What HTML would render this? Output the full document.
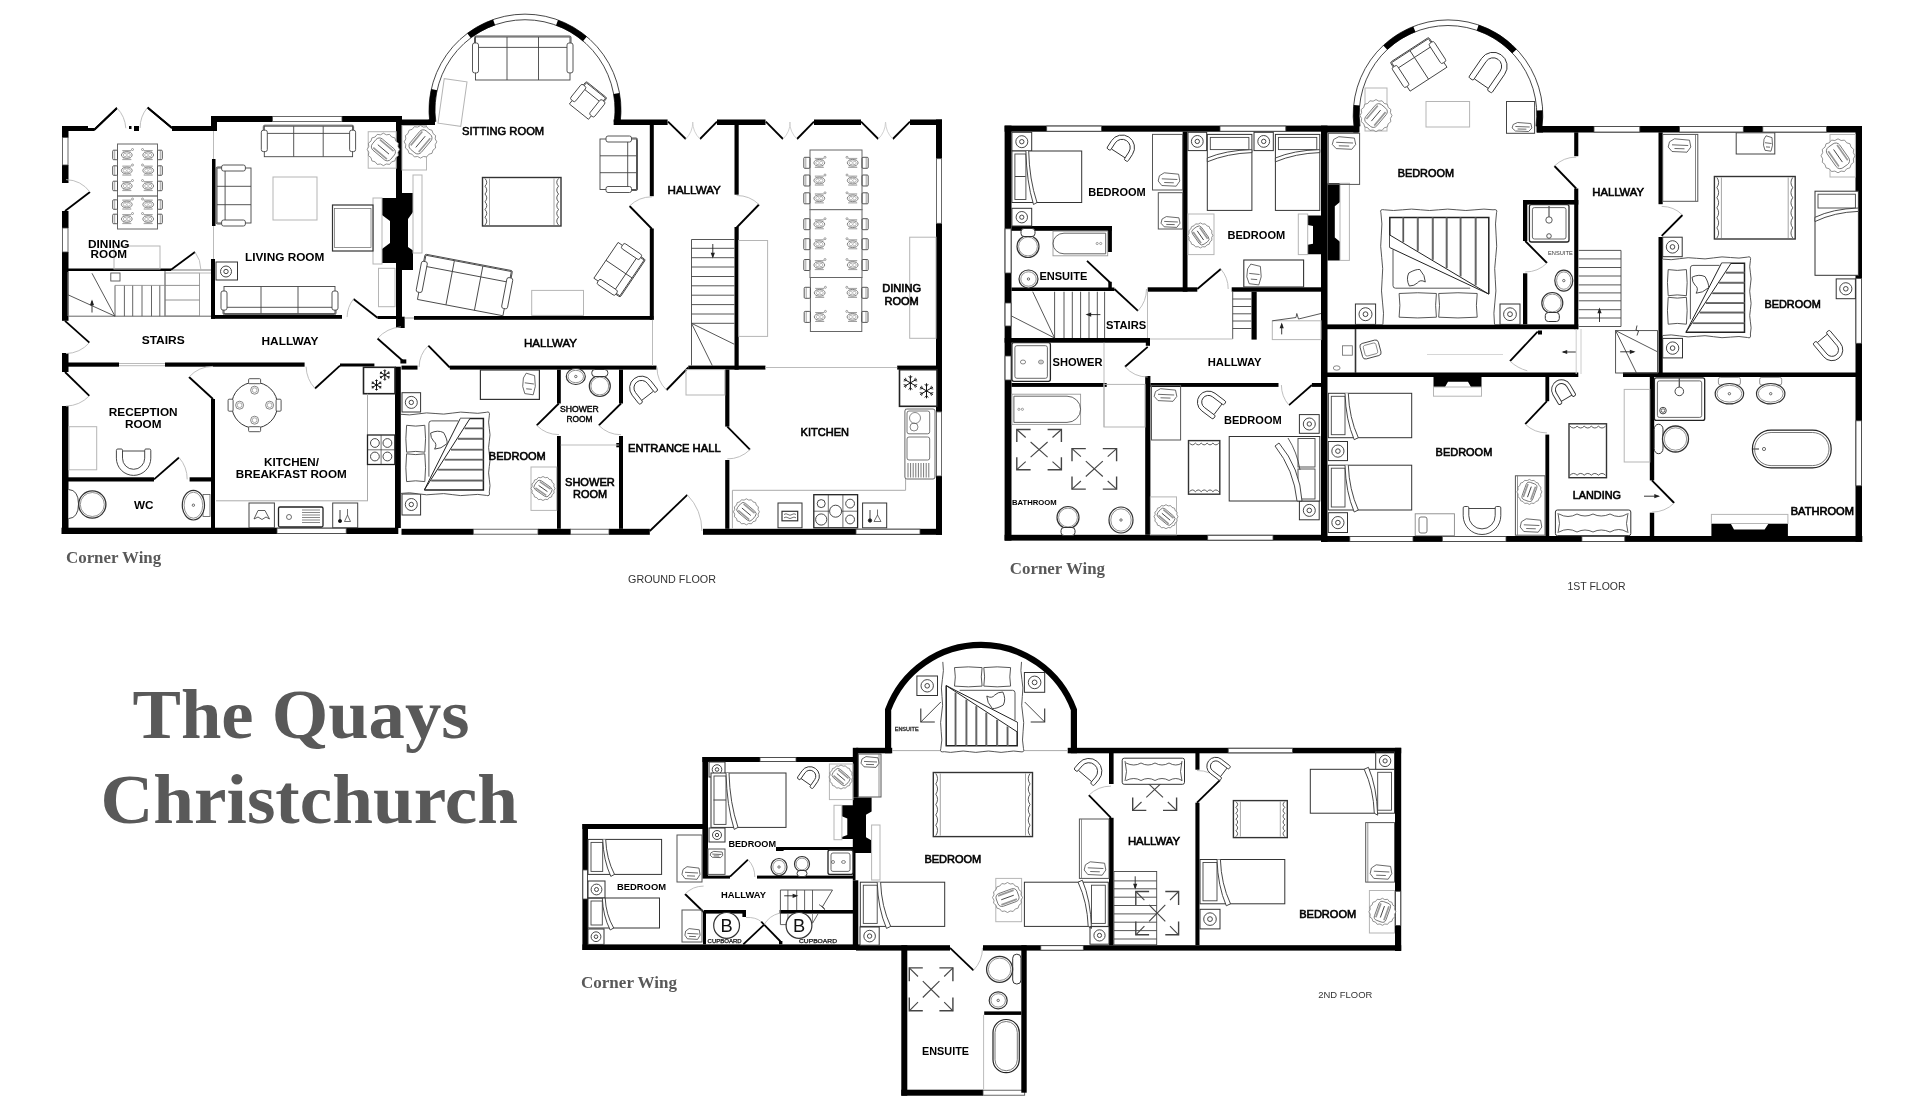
<!DOCTYPE html>
<html><head><meta charset="utf-8"><title>The Quays Christchurch</title>
<style>html,body{margin:0;padding:0;background:#fff}body{width:1920px;height:1101px;overflow:hidden}svg{display:block;will-change:transform}</style></head>
<body>
<svg width="1920" height="1101" viewBox="0 0 1920 1101" shape-rendering="geometricPrecision">
<g id="gf" fill="#000">
<rect x="62" y="126" width="6.5" height="11.5"/>
<rect x="62" y="165" width="6.5" height="18"/>
<rect x="62" y="211" width="6.5" height="17"/>
<rect x="62" y="252" width="6.5" height="68.8"/>
<rect x="62" y="353" width="6.5" height="19"/>
<rect x="62" y="406" width="6.5" height="128"/>
<rect x="62.5" y="137.5" width="5.5" height="27.5" fill="#fff" stroke="#444" stroke-width="0.8"/>
<rect x="62.5" y="228" width="5.5" height="24" fill="#fff" stroke="#444" stroke-width="0.8"/>
<rect x="62" y="126" width="26" height="5"/>
<rect x="88" y="128" width="6" height="3"/>
<rect x="172" y="126" width="45" height="5"/>
<line x1="94" y1="130" x2="117" y2="108" stroke="#000" stroke-width="1.8"/>
<line x1="147.5" y1="107.5" x2="172" y2="128" stroke="#000" stroke-width="1.8"/>
<rect x="129" y="126" width="2.5" height="3"/>
<rect x="134" y="126" width="5" height="5"/>
<line x1="94" y1="130" x2="117" y2="108" stroke="#000" stroke-width="1.8"/>
<path d="M117 108 A31.8 31.8 0 0 1 125.8 128.2" fill="none" stroke="#b8b8b8" stroke-width="0.9"/>
<line x1="172" y1="128" x2="147.5" y2="107.5" stroke="#000" stroke-width="1.8"/>
<path d="M147.5 107.5 A31.9 31.9 0 0 0 140.1 128" fill="none" stroke="#b8b8b8" stroke-width="0.9"/>
<rect x="211" y="116" width="6" height="15"/>
<rect x="211" y="116" width="61.5" height="6"/>
<rect x="342" y="116" width="60" height="6"/>
<rect x="272.5" y="116.5" width="69.5" height="5" fill="#fff" stroke="#444" stroke-width="0.8"/>
<rect x="212" y="159" width="3.5" height="67"/>
<rect x="211" y="259" width="4" height="59.8"/>
<line x1="213.5" y1="131" x2="213.5" y2="159" stroke="#bbb" stroke-width="1"/>
<line x1="213.5" y1="226" x2="213.5" y2="259" stroke="#bbb" stroke-width="1"/>
<rect x="396" y="116" width="6" height="212"/>
<rect x="398.8" y="316.7" width="5.9" height="11.3"/>
<rect x="402" y="119.5" width="33" height="5.5"/>
<polygon points="382,198 397,198 397,193 413,193 413,212 408,219 408,247 413,250.5 413,270 402,270 402,263 382,263 382,249 390,243 390,221 382,215" fill="#000" stroke="none" stroke-width="1"/>
<rect x="373" y="198" width="9" height="66" fill="none" stroke="#b5b5b5" stroke-width="1"/>
<rect x="413" y="175" width="9" height="78" fill="none" stroke="#b5b5b5" stroke-width="1"/>
<rect x="68" y="268.5" width="103" height="2.5"/>
<line x1="171" y1="270" x2="211" y2="270" stroke="#777" stroke-width="1"/>
<rect x="211" y="315" width="131" height="3.8"/>
<rect x="377.5" y="316" width="20.5" height="3"/>
<rect x="68" y="362.5" width="51" height="4.2"/>
<rect x="165" y="362.5" width="139.6" height="4.2"/>
<rect x="340" y="363.5" width="34.4" height="3"/>
<line x1="119" y1="363.5" x2="165" y2="363.5" stroke="#bbb" stroke-width="1"/>
<line x1="119" y1="365.7" x2="165" y2="365.7" stroke="#bbb" stroke-width="1"/>
<rect x="400.4" y="359.4" width="5.9" height="4.1"/>
<rect x="395" y="366.7" width="5.8" height="161.3"/>
<rect x="211" y="399" width="4" height="129"/>
<rect x="68" y="477.3" width="86" height="4.2"/>
<rect x="189.6" y="477.3" width="21.4" height="4.2"/>
<rect x="61.5" y="527.7" width="336.8" height="6.3"/>
<rect x="277" y="528.2" width="69.2" height="5.3" fill="#fff" stroke="#444" stroke-width="0.8"/>
<line x1="65" y1="211" x2="90" y2="192" stroke="#000" stroke-width="1.8"/>
<path d="M90 192 A31.4 31.4 0 0 0 66.1 179.6" fill="none" stroke="#b8b8b8" stroke-width="0.9"/>
<line x1="171" y1="269.8" x2="195" y2="252" stroke="#000" stroke-width="1.8"/>
<path d="M195 252 A29.9 29.9 0 0 1 200.9 269.8" fill="none" stroke="#b8b8b8" stroke-width="0.9"/>
<line x1="65" y1="320.8" x2="89.4" y2="342.7" stroke="#000" stroke-width="1.8"/>
<path d="M89.4 342.7 A32.8 32.8 0 0 1 66 353.6" fill="none" stroke="#b8b8b8" stroke-width="0.9"/>
<line x1="65" y1="372" x2="89.4" y2="395.8" stroke="#000" stroke-width="1.8"/>
<path d="M89.4 395.8 A34.1 34.1 0 0 1 66 406.1" fill="none" stroke="#b8b8b8" stroke-width="0.9"/>
<line x1="377.5" y1="317.7" x2="353.5" y2="299" stroke="#000" stroke-width="1.8"/>
<path d="M353.5 299 A30.4 30.4 0 0 0 347.1 317.1" fill="none" stroke="#b8b8b8" stroke-width="0.9"/>
<line x1="340" y1="365.6" x2="315" y2="388.5" stroke="#000" stroke-width="1.8"/>
<path d="M315 388.5 A33.9 33.9 0 0 1 306.1 366.7" fill="none" stroke="#b8b8b8" stroke-width="0.9"/>
<line x1="403.5" y1="361.5" x2="377.5" y2="338.5" stroke="#000" stroke-width="1.8"/>
<path d="M377.5 338.5 A34.7 34.7 0 0 1 400.9 326.9" fill="none" stroke="#b8b8b8" stroke-width="0.9"/>
<line x1="213" y1="399" x2="189" y2="377" stroke="#000" stroke-width="1.8"/>
<path d="M189 377 A32.6 32.6 0 0 1 213 366.4" fill="none" stroke="#b8b8b8" stroke-width="0.9"/>
<line x1="154" y1="479.4" x2="179" y2="457.5" stroke="#000" stroke-width="1.8"/>
<path d="M179 457.5 A33.2 33.2 0 0 1 187.2 479.4" fill="none" stroke="#b8b8b8" stroke-width="0.9"/>
<rect x="414" y="316" width="239.5" height="3.8"/>
<line x1="404.6" y1="318" x2="414" y2="318" stroke="#999" stroke-width="1"/>
<rect x="649.8" y="125" width="4" height="71.2"/>
<rect x="649.8" y="228.5" width="4" height="91.3"/>
<rect x="613.8" y="119.5" width="53.8" height="5.5"/>
<rect x="717" y="119.5" width="48.5" height="5.5"/>
<rect x="814" y="119.5" width="47" height="5.5"/>
<rect x="910" y="119.5" width="32" height="5.5"/>
<rect x="936" y="119.5" width="6" height="39.2"/>
<rect x="936" y="223.3" width="6" height="188.6"/>
<rect x="936" y="476" width="6" height="58.8"/>
<rect x="936.5" y="158.7" width="5" height="64.6" fill="#fff" stroke="#444" stroke-width="0.8"/>
<rect x="936.5" y="411.9" width="5" height="64.1" fill="#fff" stroke="#444" stroke-width="0.8"/>
<rect x="734.5" y="125" width="4.2" height="69.7"/>
<rect x="734.5" y="227" width="4.2" height="142.7"/>
<rect x="401.5" y="365.6" width="16" height="4"/>
<rect x="449.8" y="365.6" width="206.7" height="4"/>
<rect x="688.3" y="365.6" width="77.1" height="4"/>
<rect x="897.2" y="365.6" width="38.8" height="4"/>
<line x1="765.4" y1="367.5" x2="897.2" y2="367.5" stroke="#bbb" stroke-width="1"/>
<line x1="652.5" y1="319.8" x2="652.5" y2="365.6" stroke="#bbb" stroke-width="1"/>
<rect x="557" y="369.6" width="3.8" height="33.9"/>
<rect x="557" y="436" width="3.8" height="92.8"/>
<rect x="619" y="369.6" width="4" height="33.9"/>
<rect x="619" y="436" width="4" height="92.8"/>
<rect x="616.3" y="443" width="3.2" height="4.3"/>
<line x1="560.8" y1="445" x2="619" y2="445" stroke="#bbb" stroke-width="1"/>
<rect x="725.2" y="369.6" width="4.2" height="57"/>
<rect x="725.2" y="460" width="4.2" height="68.8"/>
<rect x="401.5" y="528.8" width="71.8" height="6"/>
<rect x="538" y="528.8" width="32.6" height="6"/>
<rect x="609" y="528.8" width="40.8" height="6"/>
<rect x="703" y="528.8" width="239" height="6"/>
<rect x="473.3" y="529.2" width="64.7" height="5" fill="#fff" stroke="#444" stroke-width="0.8"/>
<rect x="570.6" y="529.2" width="38.4" height="5" fill="#fff" stroke="#444" stroke-width="0.8"/>
<rect x="856" y="529.2" width="64" height="5" fill="#fff" stroke="#444" stroke-width="0.8"/>
<line x1="668" y1="121.7" x2="685.8" y2="139" stroke="#000" stroke-width="1.8"/>
<path d="M685.8 139 A24.8 24.8 0 0 0 692.8 122" fill="none" stroke="#ccc" stroke-width="0.9"/>
<line x1="717" y1="121.7" x2="700" y2="139" stroke="#000" stroke-width="1.8"/>
<path d="M700 139 A24.3 24.3 0 0 1 692.7 122" fill="none" stroke="#ccc" stroke-width="0.9"/>
<line x1="765.8" y1="121.7" x2="783" y2="139" stroke="#000" stroke-width="1.8"/>
<path d="M783 139 A24.4 24.4 0 0 0 790.2 122" fill="none" stroke="#ccc" stroke-width="0.9"/>
<line x1="814" y1="121.7" x2="797" y2="139" stroke="#000" stroke-width="1.8"/>
<path d="M797 139 A24.3 24.3 0 0 1 789.7 122" fill="none" stroke="#ccc" stroke-width="0.9"/>
<line x1="861" y1="121.7" x2="878.3" y2="139" stroke="#000" stroke-width="1.8"/>
<path d="M878.3 139 A24.5 24.5 0 0 0 885.5 122" fill="none" stroke="#ccc" stroke-width="0.9"/>
<line x1="910" y1="121.7" x2="892.8" y2="139" stroke="#000" stroke-width="1.8"/>
<path d="M892.8 139 A24.4 24.4 0 0 1 885.6 122" fill="none" stroke="#ccc" stroke-width="0.9"/>
<line x1="652" y1="229" x2="629.5" y2="206" stroke="#000" stroke-width="1.8"/>
<path d="M629.5 206 A32.2 32.2 0 0 1 652 196.8" fill="none" stroke="#b8b8b8" stroke-width="0.9"/>
<line x1="736.7" y1="227.5" x2="759" y2="204.5" stroke="#000" stroke-width="1.8"/>
<path d="M759 204.5 A32 32 0 0 0 736.7 195.5" fill="none" stroke="#b8b8b8" stroke-width="0.9"/>
<line x1="449.8" y1="367.5" x2="428.3" y2="345.6" stroke="#000" stroke-width="1.8"/>
<path d="M428.3 345.6 A30.7 30.7 0 0 0 419.1 367" fill="none" stroke="#b8b8b8" stroke-width="0.9"/>
<line x1="688.3" y1="367.5" x2="666.5" y2="390" stroke="#000" stroke-width="1.8"/>
<path d="M666.5 390 A31.3 31.3 0 0 1 657 367.5" fill="none" stroke="#b8b8b8" stroke-width="0.9"/>
<line x1="558.8" y1="403.5" x2="536.7" y2="425.4" stroke="#000" stroke-width="1.8"/>
<path d="M536.7 425.4 A31.1 31.1 0 0 0 559 434.6" fill="none" stroke="#b8b8b8" stroke-width="0.9"/>
<line x1="621" y1="403.5" x2="598.8" y2="425.4" stroke="#000" stroke-width="1.8"/>
<path d="M598.8 425.4 A31.2 31.2 0 0 0 621 434.7" fill="none" stroke="#b8b8b8" stroke-width="0.9"/>
<line x1="727.3" y1="426.6" x2="750" y2="449.6" stroke="#000" stroke-width="1.8"/>
<path d="M750 449.6 A32.3 32.3 0 0 1 727.3 458.9" fill="none" stroke="#b8b8b8" stroke-width="0.9"/>
<line x1="649.8" y1="531" x2="687.3" y2="494.8" stroke="#000" stroke-width="1.8"/>
<path d="M687.3 494.8 A52.1 52.1 0 0 1 701.9 531" fill="none" stroke="#b8b8b8" stroke-width="0.9"/>
<path d="M620.2 122.5 A96 96 0 1 0 429.8 122.5" fill="none" stroke="#333" stroke-width="0.9"/>
<path d="M614.2 121.7 A90 90 0 1 0 435.8 121.7" fill="none" stroke="#333" stroke-width="0.9"/>
<path d="M617.2 122.1 A93 93 0 0 0 616.5 93.5" fill="none" stroke="#000" stroke-width="6"/>
<path d="M584.9 38.9 A93 93 0 0 0 557 22.7" fill="none" stroke="#000" stroke-width="6"/>
<path d="M494.1 22.3 A93 93 0 0 0 469 35.7" fill="none" stroke="#000" stroke-width="6"/>
<path d="M434.2 89.7 A93 93 0 0 0 432.8 122.1" fill="none" stroke="#000" stroke-width="6"/>
<rect x="428.5" y="119.5" width="6.5" height="5.5"/>
<rect x="613.8" y="119.5" width="7.2" height="5.5"/>
</g>
<g id="gff">
<rect x="114" y="246" width="46" height="23" fill="none" stroke="#b5b5b5" stroke-width="1"/>
<rect x="117.5" y="144" width="40" height="85" fill="#fff" stroke="#666" stroke-width="1"/>
<rect x="112.7" y="150.2" width="4.8" height="9.5" rx="1" fill="none" stroke="#444" stroke-width="0.9"/>
<line x1="114.7" y1="150.2" x2="114.7" y2="159.8" stroke="#666" stroke-width="0.6"/>
<rect x="157.5" y="150.2" width="4.8" height="9.5" rx="1" fill="none" stroke="#444" stroke-width="0.9"/>
<line x1="160.3" y1="150.2" x2="160.3" y2="159.8" stroke="#666" stroke-width="0.6"/>
<ellipse cx="126.8" cy="155" rx="5.4" ry="3.4" fill="none" stroke="#666" stroke-width="0.8"/>
<ellipse cx="126.8" cy="155" rx="3.6" ry="2.1" fill="none" stroke="#888" stroke-width="0.6"/>
<line x1="122.3" y1="159.6" x2="131.3" y2="159.6" stroke="#777" stroke-width="0.7"/>
<line x1="122.3" y1="150.6" x2="131.3" y2="150.6" stroke="#777" stroke-width="0.7"/>
<line x1="122.8" y1="150.8" x2="130.8" y2="159.4" stroke="#999" stroke-width="0.5"/>
<line x1="130.8" y1="150.8" x2="122.8" y2="159.4" stroke="#999" stroke-width="0.5"/>
<ellipse cx="148.2" cy="155" rx="5.4" ry="3.4" fill="none" stroke="#666" stroke-width="0.8"/>
<ellipse cx="148.2" cy="155" rx="3.6" ry="2.1" fill="none" stroke="#888" stroke-width="0.6"/>
<line x1="143.7" y1="159.6" x2="152.7" y2="159.6" stroke="#777" stroke-width="0.7"/>
<line x1="143.7" y1="150.6" x2="152.7" y2="150.6" stroke="#777" stroke-width="0.7"/>
<line x1="144.2" y1="150.8" x2="152.2" y2="159.4" stroke="#999" stroke-width="0.5"/>
<line x1="152.2" y1="150.8" x2="144.2" y2="159.4" stroke="#999" stroke-width="0.5"/>
<circle cx="132.5" cy="149.5" r="1" fill="none" stroke="#666" stroke-width="0.6"/>
<circle cx="142.5" cy="149.5" r="1" fill="none" stroke="#666" stroke-width="0.6"/>
<rect x="112.7" y="165.8" width="4.8" height="9.5" rx="1" fill="none" stroke="#444" stroke-width="0.9"/>
<line x1="114.7" y1="165.8" x2="114.7" y2="175.2" stroke="#666" stroke-width="0.6"/>
<rect x="157.5" y="165.8" width="4.8" height="9.5" rx="1" fill="none" stroke="#444" stroke-width="0.9"/>
<line x1="160.3" y1="165.8" x2="160.3" y2="175.2" stroke="#666" stroke-width="0.6"/>
<ellipse cx="126.8" cy="170.5" rx="5.4" ry="3.4" fill="none" stroke="#666" stroke-width="0.8"/>
<ellipse cx="126.8" cy="170.5" rx="3.6" ry="2.1" fill="none" stroke="#888" stroke-width="0.6"/>
<line x1="122.3" y1="175.1" x2="131.3" y2="175.1" stroke="#777" stroke-width="0.7"/>
<line x1="122.3" y1="166.1" x2="131.3" y2="166.1" stroke="#777" stroke-width="0.7"/>
<line x1="122.8" y1="166.3" x2="130.8" y2="174.9" stroke="#999" stroke-width="0.5"/>
<line x1="130.8" y1="166.3" x2="122.8" y2="174.9" stroke="#999" stroke-width="0.5"/>
<ellipse cx="148.2" cy="170.5" rx="5.4" ry="3.4" fill="none" stroke="#666" stroke-width="0.8"/>
<ellipse cx="148.2" cy="170.5" rx="3.6" ry="2.1" fill="none" stroke="#888" stroke-width="0.6"/>
<line x1="143.7" y1="175.1" x2="152.7" y2="175.1" stroke="#777" stroke-width="0.7"/>
<line x1="143.7" y1="166.1" x2="152.7" y2="166.1" stroke="#777" stroke-width="0.7"/>
<line x1="144.2" y1="166.3" x2="152.2" y2="174.9" stroke="#999" stroke-width="0.5"/>
<line x1="152.2" y1="166.3" x2="144.2" y2="174.9" stroke="#999" stroke-width="0.5"/>
<circle cx="132.5" cy="165" r="1" fill="none" stroke="#666" stroke-width="0.6"/>
<circle cx="142.5" cy="165" r="1" fill="none" stroke="#666" stroke-width="0.6"/>
<rect x="112.7" y="181.2" width="4.8" height="9.5" rx="1" fill="none" stroke="#444" stroke-width="0.9"/>
<line x1="114.7" y1="181.2" x2="114.7" y2="190.8" stroke="#666" stroke-width="0.6"/>
<rect x="157.5" y="181.2" width="4.8" height="9.5" rx="1" fill="none" stroke="#444" stroke-width="0.9"/>
<line x1="160.3" y1="181.2" x2="160.3" y2="190.8" stroke="#666" stroke-width="0.6"/>
<ellipse cx="126.8" cy="186" rx="5.4" ry="3.4" fill="none" stroke="#666" stroke-width="0.8"/>
<ellipse cx="126.8" cy="186" rx="3.6" ry="2.1" fill="none" stroke="#888" stroke-width="0.6"/>
<line x1="122.3" y1="190.6" x2="131.3" y2="190.6" stroke="#777" stroke-width="0.7"/>
<line x1="122.3" y1="181.6" x2="131.3" y2="181.6" stroke="#777" stroke-width="0.7"/>
<line x1="122.8" y1="181.8" x2="130.8" y2="190.4" stroke="#999" stroke-width="0.5"/>
<line x1="130.8" y1="181.8" x2="122.8" y2="190.4" stroke="#999" stroke-width="0.5"/>
<ellipse cx="148.2" cy="186" rx="5.4" ry="3.4" fill="none" stroke="#666" stroke-width="0.8"/>
<ellipse cx="148.2" cy="186" rx="3.6" ry="2.1" fill="none" stroke="#888" stroke-width="0.6"/>
<line x1="143.7" y1="190.6" x2="152.7" y2="190.6" stroke="#777" stroke-width="0.7"/>
<line x1="143.7" y1="181.6" x2="152.7" y2="181.6" stroke="#777" stroke-width="0.7"/>
<line x1="144.2" y1="181.8" x2="152.2" y2="190.4" stroke="#999" stroke-width="0.5"/>
<line x1="152.2" y1="181.8" x2="144.2" y2="190.4" stroke="#999" stroke-width="0.5"/>
<circle cx="132.5" cy="180.5" r="1" fill="none" stroke="#666" stroke-width="0.6"/>
<circle cx="142.5" cy="180.5" r="1" fill="none" stroke="#666" stroke-width="0.6"/>
<rect x="112.7" y="199.8" width="4.8" height="9.5" rx="1" fill="none" stroke="#444" stroke-width="0.9"/>
<line x1="114.7" y1="199.8" x2="114.7" y2="209.2" stroke="#666" stroke-width="0.6"/>
<rect x="157.5" y="199.8" width="4.8" height="9.5" rx="1" fill="none" stroke="#444" stroke-width="0.9"/>
<line x1="160.3" y1="199.8" x2="160.3" y2="209.2" stroke="#666" stroke-width="0.6"/>
<ellipse cx="126.8" cy="204.5" rx="5.4" ry="3.4" fill="none" stroke="#666" stroke-width="0.8"/>
<ellipse cx="126.8" cy="204.5" rx="3.6" ry="2.1" fill="none" stroke="#888" stroke-width="0.6"/>
<line x1="122.3" y1="209.1" x2="131.3" y2="209.1" stroke="#777" stroke-width="0.7"/>
<line x1="122.3" y1="200.1" x2="131.3" y2="200.1" stroke="#777" stroke-width="0.7"/>
<line x1="122.8" y1="200.3" x2="130.8" y2="208.9" stroke="#999" stroke-width="0.5"/>
<line x1="130.8" y1="200.3" x2="122.8" y2="208.9" stroke="#999" stroke-width="0.5"/>
<ellipse cx="148.2" cy="204.5" rx="5.4" ry="3.4" fill="none" stroke="#666" stroke-width="0.8"/>
<ellipse cx="148.2" cy="204.5" rx="3.6" ry="2.1" fill="none" stroke="#888" stroke-width="0.6"/>
<line x1="143.7" y1="209.1" x2="152.7" y2="209.1" stroke="#777" stroke-width="0.7"/>
<line x1="143.7" y1="200.1" x2="152.7" y2="200.1" stroke="#777" stroke-width="0.7"/>
<line x1="144.2" y1="200.3" x2="152.2" y2="208.9" stroke="#999" stroke-width="0.5"/>
<line x1="152.2" y1="200.3" x2="144.2" y2="208.9" stroke="#999" stroke-width="0.5"/>
<circle cx="132.5" cy="199" r="1" fill="none" stroke="#666" stroke-width="0.6"/>
<circle cx="142.5" cy="199" r="1" fill="none" stroke="#666" stroke-width="0.6"/>
<rect x="112.7" y="214.2" width="4.8" height="9.5" rx="1" fill="none" stroke="#444" stroke-width="0.9"/>
<line x1="114.7" y1="214.2" x2="114.7" y2="223.8" stroke="#666" stroke-width="0.6"/>
<rect x="157.5" y="214.2" width="4.8" height="9.5" rx="1" fill="none" stroke="#444" stroke-width="0.9"/>
<line x1="160.3" y1="214.2" x2="160.3" y2="223.8" stroke="#666" stroke-width="0.6"/>
<ellipse cx="126.8" cy="219" rx="5.4" ry="3.4" fill="none" stroke="#666" stroke-width="0.8"/>
<ellipse cx="126.8" cy="219" rx="3.6" ry="2.1" fill="none" stroke="#888" stroke-width="0.6"/>
<line x1="122.3" y1="223.6" x2="131.3" y2="223.6" stroke="#777" stroke-width="0.7"/>
<line x1="122.3" y1="214.6" x2="131.3" y2="214.6" stroke="#777" stroke-width="0.7"/>
<line x1="122.8" y1="214.8" x2="130.8" y2="223.4" stroke="#999" stroke-width="0.5"/>
<line x1="130.8" y1="214.8" x2="122.8" y2="223.4" stroke="#999" stroke-width="0.5"/>
<ellipse cx="148.2" cy="219" rx="5.4" ry="3.4" fill="none" stroke="#666" stroke-width="0.8"/>
<ellipse cx="148.2" cy="219" rx="3.6" ry="2.1" fill="none" stroke="#888" stroke-width="0.6"/>
<line x1="143.7" y1="223.6" x2="152.7" y2="223.6" stroke="#777" stroke-width="0.7"/>
<line x1="143.7" y1="214.6" x2="152.7" y2="214.6" stroke="#777" stroke-width="0.7"/>
<line x1="144.2" y1="214.8" x2="152.2" y2="223.4" stroke="#999" stroke-width="0.5"/>
<line x1="152.2" y1="214.8" x2="144.2" y2="223.4" stroke="#999" stroke-width="0.5"/>
<circle cx="132.5" cy="213.5" r="1" fill="none" stroke="#666" stroke-width="0.6"/>
<circle cx="142.5" cy="213.5" r="1" fill="none" stroke="#666" stroke-width="0.6"/>
<line x1="117.5" y1="196" x2="157.5" y2="196" stroke="#444" stroke-width="1"/>
<g transform="translate(261.3 125.2)"><rect x="3" y="1" width="88.3" height="30.5" fill="#fff" stroke="#444" stroke-width="0.9"/><line x1="32.4" y1="1" x2="32.4" y2="31.5" stroke="#444" stroke-width="0.9"/><line x1="61.9" y1="1" x2="61.9" y2="31.5" stroke="#444" stroke-width="0.9"/><rect x="2" y="0" width="90.3" height="8.2" rx="1.5" fill="none" stroke="#444" stroke-width="0.9"/><rect x="0" y="5" width="6" height="21.4" rx="2" fill="#fff" stroke="#444" stroke-width="0.9"/><rect x="88.3" y="5" width="6" height="21.4" rx="2" fill="#fff" stroke="#444" stroke-width="0.9"/></g>
<g transform="translate(216 226) rotate(-90)"><rect x="3" y="1" width="55" height="34" fill="#fff" stroke="#444" stroke-width="0.9"/><line x1="21.3" y1="1" x2="21.3" y2="35" stroke="#444" stroke-width="0.9"/><line x1="39.7" y1="1" x2="39.7" y2="35" stroke="#444" stroke-width="0.9"/><rect x="2" y="0" width="57" height="9.1" rx="1.5" fill="none" stroke="#444" stroke-width="0.9"/><rect x="0" y="5.6" width="6" height="23.8" rx="2" fill="#fff" stroke="#444" stroke-width="0.9"/><rect x="55" y="5.6" width="6" height="23.8" rx="2" fill="#fff" stroke="#444" stroke-width="0.9"/></g>
<rect x="273" y="177" width="44" height="43" fill="none" stroke="#b5b5b5" stroke-width="1"/>
<rect x="332.5" y="205" width="40.5" height="46" fill="#fff" stroke="#333" stroke-width="1.2"/>
<rect x="334.5" y="208.5" width="36.5" height="39" fill="none" stroke="#666" stroke-width="0.7"/>
<rect x="368.2" y="131.7" width="28" height="36.5" fill="none" stroke="#b5b5b5" stroke-width="1"/>
<path d="M399.6 149.4 L398 152.3 L398.4 155.6 L395.8 157.7 L394.9 160.9 L391.7 161.8 L389.6 164.4 L386.3 164 L383.4 165.6 L380.5 164 L377.2 164.4 L375.1 161.8 L371.9 160.9 L371 157.7 L368.4 155.6 L368.8 152.3 L367.2 149.4 L368.8 146.5 L368.4 143.2 L371 141.1 L371.9 137.9 L375.1 137 L377.2 134.4 L380.5 134.8 L383.4 133.2 L386.3 134.8 L389.6 134.4 L391.7 137 L394.9 137.9 L395.8 141.1 L398.4 143.2 L398 146.5 Z" fill="#fff" stroke="#777" stroke-width="0.8"/>
<g transform="rotate(40 383.4 149.4)" fill="none" stroke="#666" stroke-width="0.8"><rect x="371.4" y="142.1" width="24" height="14.6" rx="4.5"/><line x1="374.5" y1="154.6" x2="392.3" y2="154.6" stroke-width="1.7" stroke="#999"/><line x1="374.5" y1="144.2" x2="392.3" y2="144.2" stroke-width="1.7" stroke="#999"/><line x1="376.1" y1="149.4" x2="390.7" y2="149.4" stroke="#444" stroke-width="0.9"/></g>
<rect x="216" y="262" width="21.5" height="18" fill="none" stroke="#333" stroke-width="1"/>
<circle cx="226" cy="271.5" r="5.5" fill="none" stroke="#333" stroke-width="0.9"/>
<circle cx="226" cy="271.5" r="2.2" fill="none" stroke="#333" stroke-width="0.9"/>
<g transform="translate(338 314.6) rotate(180)"><rect x="3" y="1" width="111" height="27.1" fill="#fff" stroke="#444" stroke-width="0.9"/><line x1="40" y1="1" x2="40" y2="28.1" stroke="#444" stroke-width="0.9"/><line x1="77" y1="1" x2="77" y2="28.1" stroke="#444" stroke-width="0.9"/><rect x="2" y="0" width="113" height="7.3" rx="1.5" fill="none" stroke="#444" stroke-width="0.9"/><rect x="0" y="4.5" width="6" height="19.1" rx="2" fill="#fff" stroke="#444" stroke-width="0.9"/><rect x="111" y="4.5" width="6" height="19.1" rx="2" fill="#fff" stroke="#444" stroke-width="0.9"/></g>
<rect x="378.5" y="268.3" width="16.5" height="38.4" fill="none" stroke="#b5b5b5" stroke-width="1"/>
<line x1="68" y1="316.2" x2="211" y2="316.2" stroke="#555" stroke-width="0.9"/>
<line x1="68" y1="272" x2="68" y2="316" stroke="#888" stroke-width="1"/>
<line x1="115" y1="316.2" x2="92" y2="273.3" stroke="#444" stroke-width="0.9"/>
<line x1="115" y1="316.2" x2="68" y2="294.8" stroke="#444" stroke-width="0.9"/>
<line x1="115" y1="285.4" x2="115" y2="316.2" stroke="#555" stroke-width="0.9"/>
<line x1="124.4" y1="285.4" x2="124.4" y2="316.2" stroke="#555" stroke-width="0.9"/>
<line x1="132.7" y1="285.4" x2="132.7" y2="316.2" stroke="#555" stroke-width="0.9"/>
<line x1="142" y1="285.4" x2="142" y2="316.2" stroke="#555" stroke-width="0.9"/>
<line x1="151.5" y1="285.4" x2="151.5" y2="316.2" stroke="#555" stroke-width="0.9"/>
<line x1="159.8" y1="285.4" x2="159.8" y2="316.2" stroke="#555" stroke-width="0.9"/>
<line x1="165" y1="271" x2="165" y2="316.2" stroke="#555" stroke-width="0.9"/>
<line x1="115" y1="285.4" x2="165" y2="285.4" stroke="#888" stroke-width="0.8"/>
<rect x="110.8" y="273" width="9.2" height="8" fill="none" stroke="#555" stroke-width="0.9"/>
<rect x="165" y="273" width="34.4" height="43" fill="none" stroke="#888" stroke-width="0.8"/>
<line x1="165" y1="285.4" x2="199.4" y2="285.4" stroke="#777" stroke-width="0.8"/>
<line x1="165" y1="300" x2="199.4" y2="300" stroke="#777" stroke-width="0.8"/>
<line x1="199.4" y1="273" x2="211" y2="273" stroke="#bbb" stroke-width="1"/>
<line x1="92" y1="312.5" x2="92" y2="301" stroke="#222" stroke-width="0.9"/>
<polygon points="92,299.5 89.9,305.2 94.1,305.2" fill="#222" stroke="none" stroke-width="1"/>
<rect x="69" y="426.7" width="27.7" height="43.1" fill="none" stroke="#b5b5b5" stroke-width="1"/>
<path transform="translate(133.6 462.2) rotate(0) translate(0 -4)" d="M-17.2 -7.8 L-17.2 0 A17.2 17.2 0 0 0 17.2 0 L17.2 -7.8 Q17.2 -9.2 15.8 -9.2 L12.2 -9.2 Q11.1 -9.2 11.1 -7.8 L11.1 0 A11.1 11.1 0 0 1 -11.1 0 L-11.1 -7.8 Q-11.1 -9.2 -12.2 -9.2 L-15.8 -9.2 Q-17.2 -9.2 -17.2 -7.8 Z M-11.1 -7.2 L11.1 -7.2" fill="#fff" stroke="#333" stroke-width="0.9"/>
<path d="M68.5 489.5 Q78.5 490 78.5 504 Q78.5 518 68.5 518.6" fill="#fff" stroke="#333" stroke-width="0.9"/>
<circle cx="92.3" cy="504.5" r="13.6" fill="#fff" stroke="#333" stroke-width="1.3"/>
<circle cx="92.3" cy="504.5" r="12" fill="none" stroke="#666" stroke-width="0.7"/>
<rect x="203" y="494.5" width="7" height="22" fill="none" stroke="#555" stroke-width="0.8"/>
<ellipse cx="193.4" cy="505.2" rx="11.1" ry="14.8" fill="#fff" stroke="#333" stroke-width="1.2"/>
<ellipse cx="193.4" cy="505.2" rx="9.3" ry="13" fill="none" stroke="#666" stroke-width="0.7"/>
<circle cx="193.4" cy="505.2" r="1.2" fill="none" stroke="#333" stroke-width="0.7"/>
<circle cx="254.6" cy="405.2" r="22.9" fill="#fff" stroke="#333" stroke-width="1"/>
<rect x="272.6" y="402.7" width="12" height="5" rx="1" fill="#fff" stroke="#444" stroke-width="0.9" transform="rotate(90 278.6 405.2)"/>
<circle cx="269.6" cy="405.2" r="4" fill="none" stroke="#555" stroke-width="0.7"/>
<circle cx="269.6" cy="405.2" r="2.4" fill="none" stroke="#777" stroke-width="0.6"/>
<rect x="248.6" y="426.7" width="12" height="5" rx="1" fill="#fff" stroke="#444" stroke-width="0.9" transform="rotate(180 254.6 429.2)"/>
<circle cx="254.6" cy="420.2" r="4" fill="none" stroke="#555" stroke-width="0.7"/>
<circle cx="254.6" cy="420.2" r="2.4" fill="none" stroke="#777" stroke-width="0.6"/>
<rect x="224.6" y="402.7" width="12" height="5" rx="1" fill="#fff" stroke="#444" stroke-width="0.9" transform="rotate(270 230.6 405.2)"/>
<circle cx="239.6" cy="405.2" r="4" fill="none" stroke="#555" stroke-width="0.7"/>
<circle cx="239.6" cy="405.2" r="2.4" fill="none" stroke="#777" stroke-width="0.6"/>
<rect x="248.6" y="378.7" width="12" height="5" rx="1" fill="#fff" stroke="#444" stroke-width="0.9" transform="rotate(360 254.6 381.2)"/>
<circle cx="254.6" cy="390.2" r="4" fill="none" stroke="#555" stroke-width="0.7"/>
<circle cx="254.6" cy="390.2" r="2.4" fill="none" stroke="#777" stroke-width="0.6"/>
<rect x="363.5" y="367.3" width="31.5" height="26.4" fill="#fff" stroke="#222" stroke-width="1.6"/>
<line x1="380" y1="372.2" x2="389.6" y2="377.8" stroke="#111" stroke-width="1"/>
<line x1="387.8" y1="376.7" x2="388.5" y2="378.7" stroke="#111" stroke-width="0.8"/>
<line x1="387.8" y1="376.7" x2="389.8" y2="376.3" stroke="#111" stroke-width="0.8"/>
<line x1="381.8" y1="373.3" x2="381.1" y2="371.3" stroke="#111" stroke-width="0.8"/>
<line x1="381.8" y1="373.3" x2="379.8" y2="373.7" stroke="#111" stroke-width="0.8"/>
<line x1="384.8" y1="369.5" x2="384.8" y2="380.5" stroke="#111" stroke-width="1"/>
<line x1="384.8" y1="378.4" x2="383.5" y2="380" stroke="#111" stroke-width="0.8"/>
<line x1="384.8" y1="378.4" x2="386.1" y2="380" stroke="#111" stroke-width="0.8"/>
<line x1="384.8" y1="371.6" x2="386.1" y2="370" stroke="#111" stroke-width="0.8"/>
<line x1="384.8" y1="371.6" x2="383.5" y2="370" stroke="#111" stroke-width="0.8"/>
<line x1="389.6" y1="372.2" x2="380" y2="377.8" stroke="#111" stroke-width="1"/>
<line x1="381.8" y1="376.7" x2="379.8" y2="376.3" stroke="#111" stroke-width="0.8"/>
<line x1="381.8" y1="376.7" x2="381.1" y2="378.7" stroke="#111" stroke-width="0.8"/>
<line x1="387.8" y1="373.3" x2="389.8" y2="373.7" stroke="#111" stroke-width="0.8"/>
<line x1="387.8" y1="373.3" x2="388.5" y2="371.3" stroke="#111" stroke-width="0.8"/>
<line x1="371.7" y1="382.2" x2="381.3" y2="387.8" stroke="#111" stroke-width="1"/>
<line x1="379.5" y1="386.7" x2="380.2" y2="388.7" stroke="#111" stroke-width="0.8"/>
<line x1="379.5" y1="386.7" x2="381.5" y2="386.3" stroke="#111" stroke-width="0.8"/>
<line x1="373.5" y1="383.3" x2="372.8" y2="381.3" stroke="#111" stroke-width="0.8"/>
<line x1="373.5" y1="383.3" x2="371.5" y2="383.7" stroke="#111" stroke-width="0.8"/>
<line x1="376.5" y1="379.5" x2="376.5" y2="390.5" stroke="#111" stroke-width="1"/>
<line x1="376.5" y1="388.4" x2="375.2" y2="390" stroke="#111" stroke-width="0.8"/>
<line x1="376.5" y1="388.4" x2="377.8" y2="390" stroke="#111" stroke-width="0.8"/>
<line x1="376.5" y1="381.6" x2="377.8" y2="380" stroke="#111" stroke-width="0.8"/>
<line x1="376.5" y1="381.6" x2="375.2" y2="380" stroke="#111" stroke-width="0.8"/>
<line x1="381.3" y1="382.2" x2="371.7" y2="387.8" stroke="#111" stroke-width="1"/>
<line x1="373.5" y1="386.7" x2="371.5" y2="386.3" stroke="#111" stroke-width="0.8"/>
<line x1="373.5" y1="386.7" x2="372.8" y2="388.7" stroke="#111" stroke-width="0.8"/>
<line x1="379.5" y1="383.3" x2="381.5" y2="383.7" stroke="#111" stroke-width="0.8"/>
<line x1="379.5" y1="383.3" x2="380.2" y2="381.3" stroke="#111" stroke-width="0.8"/>
<line x1="367.5" y1="393.8" x2="367.5" y2="500.8" stroke="#aaa" stroke-width="1"/>
<line x1="216" y1="500.8" x2="368" y2="500.8" stroke="#aaa" stroke-width="1"/>
<rect x="367.5" y="435" width="27.3" height="29.5" fill="#fff" stroke="#222" stroke-width="1.3"/>
<line x1="381.1" y1="435" x2="381.1" y2="464.5" stroke="#333" stroke-width="0.7"/>
<line x1="367.5" y1="449.8" x2="394.8" y2="449.8" stroke="#333" stroke-width="0.7"/>
<circle cx="374.9" cy="443" r="4.4" fill="none" stroke="#333" stroke-width="0.9"/>
<circle cx="387.4" cy="443" r="4.4" fill="none" stroke="#333" stroke-width="0.9"/>
<circle cx="374.9" cy="456.5" r="4.4" fill="none" stroke="#333" stroke-width="0.9"/>
<circle cx="387.4" cy="456.5" r="4.4" fill="none" stroke="#333" stroke-width="0.9"/>
<rect x="249" y="503" width="25.4" height="24.7" fill="#fff" stroke="#444" stroke-width="1"/>
<path d="M254 519 L258 510.5 L265 510.5 L269.5 519 L266 517 L262 519.5 L258 517 Z" fill="none" stroke="#333" stroke-width="0.8"/>
<rect x="278.5" y="507" width="44.5" height="20" rx="1.5" fill="#fff" stroke="#222" stroke-width="1.3"/>
<line x1="302" y1="510" x2="320" y2="510" stroke="#555" stroke-width="0.7"/>
<line x1="302" y1="512.5" x2="320" y2="512.5" stroke="#555" stroke-width="0.7"/>
<line x1="302" y1="515" x2="320" y2="515" stroke="#555" stroke-width="0.7"/>
<line x1="302" y1="517.5" x2="320" y2="517.5" stroke="#555" stroke-width="0.7"/>
<line x1="302" y1="520" x2="320" y2="520" stroke="#555" stroke-width="0.7"/>
<line x1="302" y1="522.5" x2="320" y2="522.5" stroke="#555" stroke-width="0.7"/>
<circle cx="289" cy="517" r="2.5" fill="none" stroke="#333" stroke-width="0.7"/>
<rect x="332.7" y="503" width="25" height="24.7" fill="#fff" stroke="#444" stroke-width="1"/>
<line x1="340" y1="510" x2="340" y2="520" stroke="#111" stroke-width="0.8"/>
<circle cx="340" cy="521" r="1.6" fill="#111" stroke="#333" stroke-width="1"/>
<line x1="347.5" y1="509" x2="347.5" y2="515" stroke="#333" stroke-width="0.7"/>
<path d="M347.5 515 L344.5 521.5 L350.5 521.5 Z" fill="none" stroke="#333" stroke-width="0.7"/>
<rect x="402" y="125.5" width="24.5" height="44.5" fill="none" stroke="#b5b5b5" stroke-width="1"/>
<path d="M436.8 141.8 L435.2 144.7 L435.6 148 L433 150.1 L432 153.3 L428.8 154.3 L426.7 156.9 L423.4 156.5 L420.5 158.1 L417.6 156.5 L414.3 156.9 L412.2 154.3 L409 153.3 L408 150.1 L405.4 148 L405.8 144.7 L404.2 141.8 L405.8 138.9 L405.4 135.6 L408 133.5 L409 130.3 L412.2 129.3 L414.3 126.7 L417.6 127.1 L420.5 125.5 L423.4 127.1 L426.7 126.7 L428.8 129.3 L432 130.3 L433 133.5 L435.6 135.6 L435.2 138.9 Z" fill="#fff" stroke="#777" stroke-width="0.8"/>
<g transform="rotate(-50 420.5 141.8)" fill="none" stroke="#666" stroke-width="0.8"><rect x="408.4" y="134.5" width="24.1" height="14.7" rx="4.6"/><line x1="411.5" y1="147" x2="429.5" y2="147" stroke-width="1.7" stroke="#999"/><line x1="411.5" y1="136.6" x2="429.5" y2="136.6" stroke-width="1.7" stroke="#999"/><line x1="413.2" y1="141.8" x2="427.8" y2="141.8" stroke="#444" stroke-width="0.9"/></g>
<rect x="441" y="80" width="23" height="45" fill="none" stroke="#b5b5b5" stroke-width="1" transform="rotate(8 452.5 102.5)"/>
<g transform="translate(472.5 36)"><rect x="3" y="1" width="94.5" height="43" fill="#fff" stroke="#444" stroke-width="0.9"/><line x1="34.5" y1="1" x2="34.5" y2="44" stroke="#444" stroke-width="0.9"/><line x1="66" y1="1" x2="66" y2="44" stroke="#444" stroke-width="0.9"/><rect x="2" y="0" width="96.5" height="11.4" rx="1.5" fill="none" stroke="#444" stroke-width="0.9"/><rect x="0" y="7" width="6" height="29.9" rx="2" fill="#fff" stroke="#444" stroke-width="0.9"/><rect x="94.5" y="7" width="6" height="29.9" rx="2" fill="#fff" stroke="#444" stroke-width="0.9"/></g>
<g transform="rotate(38.7 587.8 100.7) translate(572.5 86.6)"><rect x="3" y="1" width="24.5" height="27.2" fill="#fff" stroke="#444" stroke-width="0.9"/><rect x="2" y="0" width="26.5" height="7.3" rx="1.5" fill="none" stroke="#444" stroke-width="0.9"/><rect x="0" y="4.5" width="6" height="19.2" rx="2" fill="#fff" stroke="#444" stroke-width="0.9"/><rect x="24.5" y="4.5" width="6" height="19.2" rx="2" fill="#fff" stroke="#444" stroke-width="0.9"/></g>
<rect x="482.5" y="177.5" width="78.5" height="48.5" fill="#fff" stroke="#333" stroke-width="1.4"/>
<path d="M485 178.5 Q488.5 182.4 485 186.2 Q488.5 190.1 485 194 Q488.5 197.9 485 201.8 Q488.5 205.6 485 209.5 Q488.5 213.4 485 217.2 Q488.5 221.1 485 225" fill="none" stroke="#333" stroke-width="0.8"/>
<line x1="489.5" y1="178.5" x2="489.5" y2="225" stroke="#666" stroke-width="0.6"/>
<path d="M558.5 178.5 Q555 182.4 558.5 186.2 Q555 190.1 558.5 194 Q555 197.9 558.5 201.8 Q555 205.6 558.5 209.5 Q555 213.4 558.5 217.2 Q555 221.1 558.5 225" fill="none" stroke="#333" stroke-width="0.8"/>
<line x1="554" y1="178.5" x2="554" y2="225" stroke="#666" stroke-width="0.6"/>
<g transform="translate(637.5 136) rotate(90)"><rect x="3" y="1" width="50.5" height="36.5" fill="#fff" stroke="#444" stroke-width="0.9"/><line x1="19.8" y1="1" x2="19.8" y2="37.5" stroke="#444" stroke-width="0.9"/><line x1="36.7" y1="1" x2="36.7" y2="37.5" stroke="#444" stroke-width="0.9"/><rect x="2" y="0" width="52.5" height="9.8" rx="1.5" fill="none" stroke="#444" stroke-width="0.9"/><rect x="0" y="6" width="6" height="25.5" rx="2" fill="#fff" stroke="#444" stroke-width="0.9"/><rect x="50.5" y="6" width="6" height="25.5" rx="2" fill="#fff" stroke="#444" stroke-width="0.9"/></g>
<g transform="rotate(10.8 464.5 285) translate(418 262)"><rect x="3" y="1" width="87" height="45" fill="#fff" stroke="#444" stroke-width="0.9"/><line x1="32" y1="1" x2="32" y2="46" stroke="#444" stroke-width="0.9"/><line x1="61" y1="1" x2="61" y2="46" stroke="#444" stroke-width="0.9"/><rect x="2" y="0" width="89" height="12" rx="1.5" fill="none" stroke="#444" stroke-width="0.9"/><rect x="0" y="7.4" width="6" height="31.3" rx="2" fill="#fff" stroke="#444" stroke-width="0.9"/><rect x="87" y="7.4" width="6" height="31.3" rx="2" fill="#fff" stroke="#444" stroke-width="0.9"/></g>
<rect x="531.7" y="290.4" width="51.8" height="25" fill="none" stroke="#b5b5b5" stroke-width="1"/>
<g transform="rotate(124.1 619.4 269.4) translate(594.8 253.2)"><rect x="3" y="1" width="43.2" height="31.4" fill="#fff" stroke="#444" stroke-width="0.9"/><line x1="24.6" y1="1" x2="24.6" y2="32.4" stroke="#444" stroke-width="0.9"/><rect x="2" y="0" width="45.2" height="8.4" rx="1.5" fill="none" stroke="#444" stroke-width="0.9"/><rect x="0" y="5.2" width="6" height="22" rx="2" fill="#fff" stroke="#444" stroke-width="0.9"/><rect x="43.2" y="5.2" width="6" height="22" rx="2" fill="#fff" stroke="#444" stroke-width="0.9"/></g>
<line x1="691.5" y1="239.5" x2="691.5" y2="365.6" stroke="#444" stroke-width="0.9"/>
<line x1="691.5" y1="239.5" x2="734.5" y2="239.5" stroke="#444" stroke-width="0.9"/>
<line x1="691.5" y1="248.3" x2="734.5" y2="248.3" stroke="#444" stroke-width="0.9"/>
<line x1="691.5" y1="257.7" x2="734.5" y2="257.7" stroke="#444" stroke-width="0.9"/>
<line x1="691.5" y1="267" x2="734.5" y2="267" stroke="#444" stroke-width="0.9"/>
<line x1="691.5" y1="276.5" x2="734.5" y2="276.5" stroke="#444" stroke-width="0.9"/>
<line x1="691.5" y1="285.8" x2="734.5" y2="285.8" stroke="#444" stroke-width="0.9"/>
<line x1="691.5" y1="295.2" x2="734.5" y2="295.2" stroke="#444" stroke-width="0.9"/>
<line x1="691.5" y1="304.6" x2="734.5" y2="304.6" stroke="#444" stroke-width="0.9"/>
<line x1="691.5" y1="314" x2="734.5" y2="314" stroke="#444" stroke-width="0.9"/>
<line x1="691.5" y1="323.3" x2="734.5" y2="323.3" stroke="#444" stroke-width="0.9"/>
<line x1="691.5" y1="323.3" x2="734.2" y2="344.2" stroke="#444" stroke-width="0.9"/>
<line x1="691.5" y1="323.3" x2="712.3" y2="365.6" stroke="#444" stroke-width="0.9"/>
<line x1="712.8" y1="244" x2="712.8" y2="257" stroke="#222" stroke-width="0.9"/>
<polygon points="712.8,258.5 714.9,252.8 710.7,252.8" fill="#222" stroke="none" stroke-width="1"/>
<rect x="738.7" y="240.5" width="28.9" height="95.9" fill="none" stroke="#b5b5b5" stroke-width="1"/>
<rect x="909.7" y="237.2" width="26.3" height="101.1" fill="none" stroke="#b5b5b5" stroke-width="1"/>
<rect x="686" y="369.6" width="38.8" height="25.4" fill="none" stroke="#b5b5b5" stroke-width="1"/>
<path transform="translate(641.5 388) rotate(142) translate(0 0.1)" d="M-11.8 -10.5 L-11.8 0 A11.8 11.8 0 0 0 11.8 0 L11.8 -10.5 Q11.8 -12 10.2 -12 L8.7 -12 Q7.5 -12 7.5 -10.5 L7.5 0 A7.5 7.5 0 0 1 -7.5 0 L-7.5 -10.5 Q-7.5 -12 -8.7 -12 L-10.2 -12 Q-11.8 -12 -11.8 -10.5 Z M-7.5 -10 L7.5 -10" fill="#fff" stroke="#333" stroke-width="0.9"/>
<rect x="810" y="150" width="52" height="59.7" fill="#fff" stroke="#666" stroke-width="1"/>
<rect x="803.8" y="157.3" width="6.2" height="11" rx="1" fill="none" stroke="#444" stroke-width="0.9"/>
<line x1="805.8" y1="157.3" x2="805.8" y2="168.3" stroke="#666" stroke-width="0.6"/>
<rect x="862" y="157.3" width="6.2" height="11" rx="1" fill="none" stroke="#444" stroke-width="0.9"/>
<line x1="866.2" y1="157.3" x2="866.2" y2="168.3" stroke="#666" stroke-width="0.6"/>
<ellipse cx="819.3" cy="162.8" rx="5.4" ry="3.4" fill="none" stroke="#666" stroke-width="0.8"/>
<ellipse cx="819.3" cy="162.8" rx="3.6" ry="2.1" fill="none" stroke="#888" stroke-width="0.6"/>
<line x1="814.8" y1="167.4" x2="823.8" y2="167.4" stroke="#777" stroke-width="0.7"/>
<line x1="814.8" y1="158.4" x2="823.8" y2="158.4" stroke="#777" stroke-width="0.7"/>
<line x1="815.3" y1="158.6" x2="823.3" y2="167.2" stroke="#999" stroke-width="0.5"/>
<line x1="823.3" y1="158.6" x2="815.3" y2="167.2" stroke="#999" stroke-width="0.5"/>
<ellipse cx="852.7" cy="162.8" rx="5.4" ry="3.4" fill="none" stroke="#666" stroke-width="0.8"/>
<ellipse cx="852.7" cy="162.8" rx="3.6" ry="2.1" fill="none" stroke="#888" stroke-width="0.6"/>
<line x1="848.2" y1="167.4" x2="857.2" y2="167.4" stroke="#777" stroke-width="0.7"/>
<line x1="848.2" y1="158.4" x2="857.2" y2="158.4" stroke="#777" stroke-width="0.7"/>
<line x1="848.7" y1="158.6" x2="856.7" y2="167.2" stroke="#999" stroke-width="0.5"/>
<line x1="856.7" y1="158.6" x2="848.7" y2="167.2" stroke="#999" stroke-width="0.5"/>
<circle cx="825" cy="157.3" r="1" fill="none" stroke="#666" stroke-width="0.6"/>
<circle cx="847" cy="157.3" r="1" fill="none" stroke="#666" stroke-width="0.6"/>
<rect x="803.8" y="175" width="6.2" height="11" rx="1" fill="none" stroke="#444" stroke-width="0.9"/>
<line x1="805.8" y1="175" x2="805.8" y2="186" stroke="#666" stroke-width="0.6"/>
<rect x="862" y="175" width="6.2" height="11" rx="1" fill="none" stroke="#444" stroke-width="0.9"/>
<line x1="866.2" y1="175" x2="866.2" y2="186" stroke="#666" stroke-width="0.6"/>
<ellipse cx="819.3" cy="180.5" rx="5.4" ry="3.4" fill="none" stroke="#666" stroke-width="0.8"/>
<ellipse cx="819.3" cy="180.5" rx="3.6" ry="2.1" fill="none" stroke="#888" stroke-width="0.6"/>
<line x1="814.8" y1="185.1" x2="823.8" y2="185.1" stroke="#777" stroke-width="0.7"/>
<line x1="814.8" y1="176.1" x2="823.8" y2="176.1" stroke="#777" stroke-width="0.7"/>
<line x1="815.3" y1="176.3" x2="823.3" y2="184.9" stroke="#999" stroke-width="0.5"/>
<line x1="823.3" y1="176.3" x2="815.3" y2="184.9" stroke="#999" stroke-width="0.5"/>
<ellipse cx="852.7" cy="180.5" rx="5.4" ry="3.4" fill="none" stroke="#666" stroke-width="0.8"/>
<ellipse cx="852.7" cy="180.5" rx="3.6" ry="2.1" fill="none" stroke="#888" stroke-width="0.6"/>
<line x1="848.2" y1="185.1" x2="857.2" y2="185.1" stroke="#777" stroke-width="0.7"/>
<line x1="848.2" y1="176.1" x2="857.2" y2="176.1" stroke="#777" stroke-width="0.7"/>
<line x1="848.7" y1="176.3" x2="856.7" y2="184.9" stroke="#999" stroke-width="0.5"/>
<line x1="856.7" y1="176.3" x2="848.7" y2="184.9" stroke="#999" stroke-width="0.5"/>
<circle cx="825" cy="175" r="1" fill="none" stroke="#666" stroke-width="0.6"/>
<circle cx="847" cy="175" r="1" fill="none" stroke="#666" stroke-width="0.6"/>
<rect x="803.8" y="192.8" width="6.2" height="11" rx="1" fill="none" stroke="#444" stroke-width="0.9"/>
<line x1="805.8" y1="192.8" x2="805.8" y2="203.8" stroke="#666" stroke-width="0.6"/>
<rect x="862" y="192.8" width="6.2" height="11" rx="1" fill="none" stroke="#444" stroke-width="0.9"/>
<line x1="866.2" y1="192.8" x2="866.2" y2="203.8" stroke="#666" stroke-width="0.6"/>
<ellipse cx="819.3" cy="198.3" rx="5.4" ry="3.4" fill="none" stroke="#666" stroke-width="0.8"/>
<ellipse cx="819.3" cy="198.3" rx="3.6" ry="2.1" fill="none" stroke="#888" stroke-width="0.6"/>
<line x1="814.8" y1="202.9" x2="823.8" y2="202.9" stroke="#777" stroke-width="0.7"/>
<line x1="814.8" y1="193.9" x2="823.8" y2="193.9" stroke="#777" stroke-width="0.7"/>
<line x1="815.3" y1="194.1" x2="823.3" y2="202.7" stroke="#999" stroke-width="0.5"/>
<line x1="823.3" y1="194.1" x2="815.3" y2="202.7" stroke="#999" stroke-width="0.5"/>
<ellipse cx="852.7" cy="198.3" rx="5.4" ry="3.4" fill="none" stroke="#666" stroke-width="0.8"/>
<ellipse cx="852.7" cy="198.3" rx="3.6" ry="2.1" fill="none" stroke="#888" stroke-width="0.6"/>
<line x1="848.2" y1="202.9" x2="857.2" y2="202.9" stroke="#777" stroke-width="0.7"/>
<line x1="848.2" y1="193.9" x2="857.2" y2="193.9" stroke="#777" stroke-width="0.7"/>
<line x1="848.7" y1="194.1" x2="856.7" y2="202.7" stroke="#999" stroke-width="0.5"/>
<line x1="856.7" y1="194.1" x2="848.7" y2="202.7" stroke="#999" stroke-width="0.5"/>
<circle cx="825" cy="192.8" r="1" fill="none" stroke="#666" stroke-width="0.6"/>
<circle cx="847" cy="192.8" r="1" fill="none" stroke="#666" stroke-width="0.6"/>
<rect x="810" y="209.7" width="52" height="67.8" fill="#fff" stroke="#666" stroke-width="1"/>
<rect x="803.8" y="218.7" width="6.2" height="11" rx="1" fill="none" stroke="#444" stroke-width="0.9"/>
<line x1="805.8" y1="218.7" x2="805.8" y2="229.7" stroke="#666" stroke-width="0.6"/>
<rect x="862" y="218.7" width="6.2" height="11" rx="1" fill="none" stroke="#444" stroke-width="0.9"/>
<line x1="866.2" y1="218.7" x2="866.2" y2="229.7" stroke="#666" stroke-width="0.6"/>
<ellipse cx="819.3" cy="224.2" rx="5.4" ry="3.4" fill="none" stroke="#666" stroke-width="0.8"/>
<ellipse cx="819.3" cy="224.2" rx="3.6" ry="2.1" fill="none" stroke="#888" stroke-width="0.6"/>
<line x1="814.8" y1="228.8" x2="823.8" y2="228.8" stroke="#777" stroke-width="0.7"/>
<line x1="814.8" y1="219.8" x2="823.8" y2="219.8" stroke="#777" stroke-width="0.7"/>
<line x1="815.3" y1="220" x2="823.3" y2="228.6" stroke="#999" stroke-width="0.5"/>
<line x1="823.3" y1="220" x2="815.3" y2="228.6" stroke="#999" stroke-width="0.5"/>
<ellipse cx="852.7" cy="224.2" rx="5.4" ry="3.4" fill="none" stroke="#666" stroke-width="0.8"/>
<ellipse cx="852.7" cy="224.2" rx="3.6" ry="2.1" fill="none" stroke="#888" stroke-width="0.6"/>
<line x1="848.2" y1="228.8" x2="857.2" y2="228.8" stroke="#777" stroke-width="0.7"/>
<line x1="848.2" y1="219.8" x2="857.2" y2="219.8" stroke="#777" stroke-width="0.7"/>
<line x1="848.7" y1="220" x2="856.7" y2="228.6" stroke="#999" stroke-width="0.5"/>
<line x1="856.7" y1="220" x2="848.7" y2="228.6" stroke="#999" stroke-width="0.5"/>
<circle cx="825" cy="218.7" r="1" fill="none" stroke="#666" stroke-width="0.6"/>
<circle cx="847" cy="218.7" r="1" fill="none" stroke="#666" stroke-width="0.6"/>
<rect x="803.8" y="238.7" width="6.2" height="11" rx="1" fill="none" stroke="#444" stroke-width="0.9"/>
<line x1="805.8" y1="238.7" x2="805.8" y2="249.7" stroke="#666" stroke-width="0.6"/>
<rect x="862" y="238.7" width="6.2" height="11" rx="1" fill="none" stroke="#444" stroke-width="0.9"/>
<line x1="866.2" y1="238.7" x2="866.2" y2="249.7" stroke="#666" stroke-width="0.6"/>
<ellipse cx="819.3" cy="244.2" rx="5.4" ry="3.4" fill="none" stroke="#666" stroke-width="0.8"/>
<ellipse cx="819.3" cy="244.2" rx="3.6" ry="2.1" fill="none" stroke="#888" stroke-width="0.6"/>
<line x1="814.8" y1="248.8" x2="823.8" y2="248.8" stroke="#777" stroke-width="0.7"/>
<line x1="814.8" y1="239.8" x2="823.8" y2="239.8" stroke="#777" stroke-width="0.7"/>
<line x1="815.3" y1="240" x2="823.3" y2="248.6" stroke="#999" stroke-width="0.5"/>
<line x1="823.3" y1="240" x2="815.3" y2="248.6" stroke="#999" stroke-width="0.5"/>
<ellipse cx="852.7" cy="244.2" rx="5.4" ry="3.4" fill="none" stroke="#666" stroke-width="0.8"/>
<ellipse cx="852.7" cy="244.2" rx="3.6" ry="2.1" fill="none" stroke="#888" stroke-width="0.6"/>
<line x1="848.2" y1="248.8" x2="857.2" y2="248.8" stroke="#777" stroke-width="0.7"/>
<line x1="848.2" y1="239.8" x2="857.2" y2="239.8" stroke="#777" stroke-width="0.7"/>
<line x1="848.7" y1="240" x2="856.7" y2="248.6" stroke="#999" stroke-width="0.5"/>
<line x1="856.7" y1="240" x2="848.7" y2="248.6" stroke="#999" stroke-width="0.5"/>
<circle cx="825" cy="238.7" r="1" fill="none" stroke="#666" stroke-width="0.6"/>
<circle cx="847" cy="238.7" r="1" fill="none" stroke="#666" stroke-width="0.6"/>
<rect x="803.8" y="259.5" width="6.2" height="11" rx="1" fill="none" stroke="#444" stroke-width="0.9"/>
<line x1="805.8" y1="259.5" x2="805.8" y2="270.5" stroke="#666" stroke-width="0.6"/>
<rect x="862" y="259.5" width="6.2" height="11" rx="1" fill="none" stroke="#444" stroke-width="0.9"/>
<line x1="866.2" y1="259.5" x2="866.2" y2="270.5" stroke="#666" stroke-width="0.6"/>
<ellipse cx="819.3" cy="265" rx="5.4" ry="3.4" fill="none" stroke="#666" stroke-width="0.8"/>
<ellipse cx="819.3" cy="265" rx="3.6" ry="2.1" fill="none" stroke="#888" stroke-width="0.6"/>
<line x1="814.8" y1="269.6" x2="823.8" y2="269.6" stroke="#777" stroke-width="0.7"/>
<line x1="814.8" y1="260.6" x2="823.8" y2="260.6" stroke="#777" stroke-width="0.7"/>
<line x1="815.3" y1="260.8" x2="823.3" y2="269.4" stroke="#999" stroke-width="0.5"/>
<line x1="823.3" y1="260.8" x2="815.3" y2="269.4" stroke="#999" stroke-width="0.5"/>
<ellipse cx="852.7" cy="265" rx="5.4" ry="3.4" fill="none" stroke="#666" stroke-width="0.8"/>
<ellipse cx="852.7" cy="265" rx="3.6" ry="2.1" fill="none" stroke="#888" stroke-width="0.6"/>
<line x1="848.2" y1="269.6" x2="857.2" y2="269.6" stroke="#777" stroke-width="0.7"/>
<line x1="848.2" y1="260.6" x2="857.2" y2="260.6" stroke="#777" stroke-width="0.7"/>
<line x1="848.7" y1="260.8" x2="856.7" y2="269.4" stroke="#999" stroke-width="0.5"/>
<line x1="856.7" y1="260.8" x2="848.7" y2="269.4" stroke="#999" stroke-width="0.5"/>
<circle cx="825" cy="259.5" r="1" fill="none" stroke="#666" stroke-width="0.6"/>
<circle cx="847" cy="259.5" r="1" fill="none" stroke="#666" stroke-width="0.6"/>
<rect x="810.4" y="277.5" width="51.4" height="54" fill="#fff" stroke="#666" stroke-width="1"/>
<rect x="804.2" y="287.3" width="6.2" height="11" rx="1" fill="none" stroke="#444" stroke-width="0.9"/>
<line x1="806.2" y1="287.3" x2="806.2" y2="298.3" stroke="#666" stroke-width="0.6"/>
<rect x="861.8" y="287.3" width="6.2" height="11" rx="1" fill="none" stroke="#444" stroke-width="0.9"/>
<line x1="866" y1="287.3" x2="866" y2="298.3" stroke="#666" stroke-width="0.6"/>
<ellipse cx="819.7" cy="292.8" rx="5.4" ry="3.4" fill="none" stroke="#666" stroke-width="0.8"/>
<ellipse cx="819.7" cy="292.8" rx="3.6" ry="2.1" fill="none" stroke="#888" stroke-width="0.6"/>
<line x1="815.2" y1="297.4" x2="824.2" y2="297.4" stroke="#777" stroke-width="0.7"/>
<line x1="815.2" y1="288.4" x2="824.2" y2="288.4" stroke="#777" stroke-width="0.7"/>
<line x1="815.7" y1="288.6" x2="823.7" y2="297.2" stroke="#999" stroke-width="0.5"/>
<line x1="823.7" y1="288.6" x2="815.7" y2="297.2" stroke="#999" stroke-width="0.5"/>
<ellipse cx="852.5" cy="292.8" rx="5.4" ry="3.4" fill="none" stroke="#666" stroke-width="0.8"/>
<ellipse cx="852.5" cy="292.8" rx="3.6" ry="2.1" fill="none" stroke="#888" stroke-width="0.6"/>
<line x1="848" y1="297.4" x2="857" y2="297.4" stroke="#777" stroke-width="0.7"/>
<line x1="848" y1="288.4" x2="857" y2="288.4" stroke="#777" stroke-width="0.7"/>
<line x1="848.5" y1="288.6" x2="856.5" y2="297.2" stroke="#999" stroke-width="0.5"/>
<line x1="856.5" y1="288.6" x2="848.5" y2="297.2" stroke="#999" stroke-width="0.5"/>
<circle cx="825.4" cy="287.3" r="1" fill="none" stroke="#666" stroke-width="0.6"/>
<circle cx="846.8" cy="287.3" r="1" fill="none" stroke="#666" stroke-width="0.6"/>
<rect x="804.2" y="311.4" width="6.2" height="11" rx="1" fill="none" stroke="#444" stroke-width="0.9"/>
<line x1="806.2" y1="311.4" x2="806.2" y2="322.4" stroke="#666" stroke-width="0.6"/>
<rect x="861.8" y="311.4" width="6.2" height="11" rx="1" fill="none" stroke="#444" stroke-width="0.9"/>
<line x1="866" y1="311.4" x2="866" y2="322.4" stroke="#666" stroke-width="0.6"/>
<ellipse cx="819.7" cy="316.9" rx="5.4" ry="3.4" fill="none" stroke="#666" stroke-width="0.8"/>
<ellipse cx="819.7" cy="316.9" rx="3.6" ry="2.1" fill="none" stroke="#888" stroke-width="0.6"/>
<line x1="815.2" y1="321.5" x2="824.2" y2="321.5" stroke="#777" stroke-width="0.7"/>
<line x1="815.2" y1="312.5" x2="824.2" y2="312.5" stroke="#777" stroke-width="0.7"/>
<line x1="815.7" y1="312.7" x2="823.7" y2="321.3" stroke="#999" stroke-width="0.5"/>
<line x1="823.7" y1="312.7" x2="815.7" y2="321.3" stroke="#999" stroke-width="0.5"/>
<ellipse cx="852.5" cy="316.9" rx="5.4" ry="3.4" fill="none" stroke="#666" stroke-width="0.8"/>
<ellipse cx="852.5" cy="316.9" rx="3.6" ry="2.1" fill="none" stroke="#888" stroke-width="0.6"/>
<line x1="848" y1="321.5" x2="857" y2="321.5" stroke="#777" stroke-width="0.7"/>
<line x1="848" y1="312.5" x2="857" y2="312.5" stroke="#777" stroke-width="0.7"/>
<line x1="848.5" y1="312.7" x2="856.5" y2="321.3" stroke="#999" stroke-width="0.5"/>
<line x1="856.5" y1="312.7" x2="848.5" y2="321.3" stroke="#999" stroke-width="0.5"/>
<circle cx="825.4" cy="311.4" r="1" fill="none" stroke="#666" stroke-width="0.6"/>
<circle cx="846.8" cy="311.4" r="1" fill="none" stroke="#666" stroke-width="0.6"/>
<ellipse cx="575.8" cy="376.5" rx="9.5" ry="8" fill="#fff" stroke="#333" stroke-width="1.2"/>
<ellipse cx="575.8" cy="376.5" rx="7.7" ry="6.2" fill="none" stroke="#666" stroke-width="0.7"/>
<circle cx="575.8" cy="376.5" r="1.2" fill="none" stroke="#333" stroke-width="0.7"/>
<circle cx="599.8" cy="386" r="10.5" fill="none" stroke="#333" stroke-width="1.2"/>
<circle cx="599.8" cy="386" r="8.9" fill="none" stroke="#666" stroke-width="0.7"/>
<rect x="591.8" y="369.5" width="16" height="7" rx="3" fill="#fff" stroke="#333" stroke-width="1"/>
<rect x="480.4" y="370" width="59" height="29.4" fill="#fff" stroke="#333" stroke-width="1.2"/>
<path d="M523.4 378 L526.2 373.2 L534.6 375.6 L535.3 386.4 L533.2 394.8 L524.8 393.6 L522.7 386.4 Z" fill="none" stroke="#444" stroke-width="0.8"/>
<line x1="524.8" y1="382.8" x2="533.9" y2="384" stroke="#444" stroke-width="0.8"/>
<line x1="526.2" y1="388.8" x2="531.8" y2="389.3" stroke="#444" stroke-width="0.8"/>
<rect x="402" y="392.7" width="18.6" height="19.3" fill="none" stroke="#333" stroke-width="1"/>
<circle cx="411.3" cy="402.4" r="6" fill="none" stroke="#333" stroke-width="0.9"/>
<circle cx="411.3" cy="402.4" r="2.2" fill="none" stroke="#333" stroke-width="0.9"/>
<rect x="402" y="494" width="18.6" height="21" fill="none" stroke="#333" stroke-width="1"/>
<circle cx="411.3" cy="504.5" r="6" fill="none" stroke="#333" stroke-width="0.9"/>
<circle cx="411.3" cy="504.5" r="2.2" fill="none" stroke="#333" stroke-width="0.9"/>
<g transform="translate(401 411.8)"><path d="M0 2.5 Q8.6 3.9 17.1 2.1 Q25.6 0.3 34.1 1.7 Q42.7 3.1 51.2 1.3 Q59.7 -0.5 68.2 0.9 Q76.8 2.3 85.3 0.5 Q89.3 -1 88.3 4 Q86.9 10.3 88.3 16.7 Q89.7 23 88.3 29.4 Q86.9 35.7 88.3 42 Q89.7 48.4 88.3 54.7 Q86.9 61.1 88.3 67.4 Q89.7 73.8 88.3 80.1 Q89.3 85.1 85.3 83.6 Q76.8 81.8 68.2 83.2 Q59.7 84.6 51.2 82.8 Q42.7 81 34.1 82.4 Q25.6 83.8 17.1 82 Q8.6 80.2 0 81.6" fill="#fff" stroke="#444" stroke-width="0.9"/><path d="M5.6 13.5 Q14.7 15.1 23.8 13.5 Q25.3 26.9 23.8 40.4 Q14.7 38.8 5.6 40.4 Q4.1 26.9 5.6 13.5Z" fill="#fff" stroke="#444" stroke-width="0.9"/><path d="M5.6 42 Q14.7 43.6 23.8 42 Q25.3 55.9 23.8 69.8 Q14.7 68.2 5.6 69.8 Q4.1 55.9 5.6 42Z" fill="#fff" stroke="#444" stroke-width="0.9"/><path d="M57.2 9.1 L30.4 9.1 Q27.9 9.1 27.9 11.6 L27.9 64.8" fill="none" stroke="#444" stroke-width="0.9"/><path d="M59.2 6.8 L82.4 6.8 L82.4 78.2 L23.3 78.2" fill="none" stroke="#222" stroke-width="1.5"/><path d="M59.2 6.8 L23.3 78.2 L68.9 6.8" fill="#fff" stroke="#222" stroke-width="1"/><line x1="63.6" y1="16.4" x2="82.4" y2="16.4" stroke="#777" stroke-width="1.7"/><line x1="63.6" y1="17" x2="82.4" y2="17" stroke="#333" stroke-width="0.6"/><line x1="56.9" y1="26.8" x2="82.4" y2="26.8" stroke="#777" stroke-width="1.7"/><line x1="56.9" y1="27.4" x2="82.4" y2="27.4" stroke="#333" stroke-width="0.6"/><line x1="50" y1="37.7" x2="82.4" y2="37.7" stroke="#777" stroke-width="1.7"/><line x1="50" y1="38.3" x2="82.4" y2="38.3" stroke="#333" stroke-width="0.6"/><line x1="43.6" y1="47.7" x2="82.4" y2="47.7" stroke="#777" stroke-width="1.7"/><line x1="43.6" y1="48.3" x2="82.4" y2="48.3" stroke="#333" stroke-width="0.6"/><line x1="37.2" y1="57.7" x2="82.4" y2="57.7" stroke="#777" stroke-width="1.7"/><line x1="37.2" y1="58.3" x2="82.4" y2="58.3" stroke="#333" stroke-width="0.6"/><line x1="30.2" y1="68.6" x2="82.4" y2="68.6" stroke="#777" stroke-width="1.7"/><line x1="30.2" y1="69.2" x2="82.4" y2="69.2" stroke="#333" stroke-width="0.6"/><path d="M29.6 21.3 q7 -3.5 13 -0.5 q4 7 3.5 11 q-6 5.5 -12.5 5.5 q3 -5 -1 -8 q-3 -3 -3 -8z" fill="#fff" stroke="#333" stroke-width="0.9"/></g>
<rect x="531" y="467" width="25.7" height="43.4" fill="none" stroke="#b5b5b5" stroke-width="1"/>
<path d="M555 488.5 L553.8 490.7 L554.1 493.1 L552.2 494.6 L551.5 497 L549.1 497.7 L547.6 499.6 L545.2 499.3 L543 500.5 L540.8 499.3 L538.4 499.6 L536.9 497.7 L534.5 497 L533.8 494.6 L531.9 493.1 L532.2 490.7 L531 488.5 L532.2 486.3 L531.9 483.9 L533.8 482.4 L534.5 480 L536.9 479.3 L538.4 477.4 L540.8 477.7 L543 476.5 L545.2 477.7 L547.6 477.4 L549.1 479.3 L551.5 480 L552.2 482.4 L554.1 483.9 L553.8 486.3 Z" fill="#fff" stroke="#777" stroke-width="0.8"/>
<g transform="rotate(35 543 488.5)" fill="none" stroke="#666" stroke-width="0.8"><rect x="534.1" y="483.1" width="17.8" height="10.8" rx="3.4"/><line x1="536.4" y1="492.3" x2="549.6" y2="492.3" stroke-width="1.7" stroke="#999"/><line x1="536.4" y1="484.7" x2="549.6" y2="484.7" stroke-width="1.7" stroke="#999"/><line x1="537.6" y1="488.5" x2="548.4" y2="488.5" stroke="#444" stroke-width="0.9"/></g>
<rect x="899.5" y="369.7" width="37.5" height="36.6" fill="#fff" stroke="#222" stroke-width="1.6"/>
<line x1="903.9" y1="379.1" x2="916.9" y2="386.6" stroke="#111" stroke-width="1"/>
<line x1="914.4" y1="385.1" x2="915.4" y2="387.8" stroke="#111" stroke-width="0.8"/>
<line x1="914.4" y1="385.1" x2="917.2" y2="384.6" stroke="#111" stroke-width="0.8"/>
<line x1="906.4" y1="380.5" x2="905.4" y2="377.8" stroke="#111" stroke-width="0.8"/>
<line x1="906.4" y1="380.5" x2="903.6" y2="381" stroke="#111" stroke-width="0.8"/>
<line x1="910.4" y1="375.3" x2="910.4" y2="390.3" stroke="#111" stroke-width="1"/>
<line x1="910.4" y1="387.4" x2="908.6" y2="389.6" stroke="#111" stroke-width="0.8"/>
<line x1="910.4" y1="387.4" x2="912.2" y2="389.6" stroke="#111" stroke-width="0.8"/>
<line x1="910.4" y1="378.2" x2="912.2" y2="376" stroke="#111" stroke-width="0.8"/>
<line x1="910.4" y1="378.2" x2="908.6" y2="376" stroke="#111" stroke-width="0.8"/>
<line x1="916.9" y1="379.1" x2="903.9" y2="386.6" stroke="#111" stroke-width="1"/>
<line x1="906.4" y1="385.1" x2="903.6" y2="384.6" stroke="#111" stroke-width="0.8"/>
<line x1="906.4" y1="385.1" x2="905.4" y2="387.8" stroke="#111" stroke-width="0.8"/>
<line x1="914.4" y1="380.5" x2="917.2" y2="381" stroke="#111" stroke-width="0.8"/>
<line x1="914.4" y1="380.5" x2="915.4" y2="377.8" stroke="#111" stroke-width="0.8"/>
<line x1="920" y1="387.1" x2="933" y2="394.6" stroke="#111" stroke-width="1"/>
<line x1="930.5" y1="393.1" x2="931.5" y2="395.8" stroke="#111" stroke-width="0.8"/>
<line x1="930.5" y1="393.1" x2="933.3" y2="392.6" stroke="#111" stroke-width="0.8"/>
<line x1="922.5" y1="388.5" x2="921.5" y2="385.8" stroke="#111" stroke-width="0.8"/>
<line x1="922.5" y1="388.5" x2="919.7" y2="389" stroke="#111" stroke-width="0.8"/>
<line x1="926.5" y1="383.3" x2="926.5" y2="398.3" stroke="#111" stroke-width="1"/>
<line x1="926.5" y1="395.4" x2="924.7" y2="397.6" stroke="#111" stroke-width="0.8"/>
<line x1="926.5" y1="395.4" x2="928.3" y2="397.6" stroke="#111" stroke-width="0.8"/>
<line x1="926.5" y1="386.2" x2="928.3" y2="384" stroke="#111" stroke-width="0.8"/>
<line x1="926.5" y1="386.2" x2="924.7" y2="384" stroke="#111" stroke-width="0.8"/>
<line x1="933" y1="387.1" x2="920" y2="394.6" stroke="#111" stroke-width="1"/>
<line x1="922.5" y1="393.1" x2="919.7" y2="392.6" stroke="#111" stroke-width="0.8"/>
<line x1="922.5" y1="393.1" x2="921.5" y2="395.8" stroke="#111" stroke-width="0.8"/>
<line x1="930.5" y1="388.5" x2="933.3" y2="389" stroke="#111" stroke-width="0.8"/>
<line x1="930.5" y1="388.5" x2="931.5" y2="385.8" stroke="#111" stroke-width="0.8"/>
<line x1="732.4" y1="490.3" x2="905.6" y2="490.3" stroke="#aaa" stroke-width="1"/>
<line x1="905.6" y1="408.7" x2="905.6" y2="490.3" stroke="#aaa" stroke-width="1"/>
<line x1="732.4" y1="490.3" x2="732.4" y2="528.5" stroke="#aaa" stroke-width="1"/>
<rect x="904.9" y="409" width="30.1" height="70" rx="2" fill="#fff" stroke="#555" stroke-width="0.9"/>
<rect x="907" y="411" width="22.7" height="22.8" rx="2" fill="none" stroke="#555" stroke-width="0.8"/>
<circle cx="915" cy="418" r="5.5" fill="none" stroke="#555" stroke-width="0.7"/>
<circle cx="914" cy="427" r="4" fill="none" stroke="#555" stroke-width="0.7"/>
<rect x="907" y="437" width="22.7" height="23" rx="2" fill="none" stroke="#555" stroke-width="0.8"/>
<line x1="908" y1="463" x2="908" y2="477.5" stroke="#555" stroke-width="0.8"/>
<line x1="910.6" y1="463" x2="910.6" y2="477.5" stroke="#555" stroke-width="0.8"/>
<line x1="913.2" y1="463" x2="913.2" y2="477.5" stroke="#555" stroke-width="0.8"/>
<line x1="915.8" y1="463" x2="915.8" y2="477.5" stroke="#555" stroke-width="0.8"/>
<line x1="918.4" y1="463" x2="918.4" y2="477.5" stroke="#555" stroke-width="0.8"/>
<line x1="921" y1="463" x2="921" y2="477.5" stroke="#555" stroke-width="0.8"/>
<line x1="923.6" y1="463" x2="923.6" y2="477.5" stroke="#555" stroke-width="0.8"/>
<line x1="926.2" y1="463" x2="926.2" y2="477.5" stroke="#555" stroke-width="0.8"/>
<line x1="928.8" y1="463" x2="928.8" y2="477.5" stroke="#555" stroke-width="0.8"/>
<rect x="813.8" y="494.7" width="43.8" height="33.1" fill="#fff" stroke="#222" stroke-width="1.3"/>
<line x1="828.3" y1="494.7" x2="828.3" y2="527.8" stroke="#333" stroke-width="0.7"/>
<line x1="842.9" y1="494.7" x2="842.9" y2="527.8" stroke="#333" stroke-width="0.7"/>
<line x1="813.8" y1="511.2" x2="857.5" y2="511.2" stroke="#333" stroke-width="0.7"/>
<circle cx="821.2" cy="503.6" r="4" fill="#fff" stroke="#333" stroke-width="0.9"/>
<circle cx="850.1" cy="503.6" r="4.4" fill="#fff" stroke="#333" stroke-width="0.9"/>
<circle cx="821.2" cy="519.5" r="5.6" fill="#fff" stroke="#333" stroke-width="0.9"/>
<circle cx="850.1" cy="519.5" r="4.4" fill="#fff" stroke="#333" stroke-width="0.9"/>
<circle cx="835.6" cy="511.2" r="6" fill="#fff" stroke="#333" stroke-width="0.9"/>
<rect x="778" y="503" width="24" height="24.8" fill="#fff" stroke="#333" stroke-width="1"/>
<rect x="782" y="511.3" width="15.7" height="9.5" fill="none" stroke="#333" stroke-width="1.2"/>
<path d="M784 514.5 q2 -1.5 4 0 t4 0 t4 0 M784 517.8 q2 -1.5 4 0 t4 0 t4 0" fill="none" stroke="#333" stroke-width="0.7"/>
<rect x="862.6" y="503" width="24.1" height="24.8" fill="#fff" stroke="#333" stroke-width="1"/>
<line x1="870" y1="510" x2="870" y2="519" stroke="#111" stroke-width="0.8"/>
<circle cx="870" cy="520.5" r="1.7" fill="#111" stroke="#333" stroke-width="1"/>
<line x1="877.5" y1="509.5" x2="877.5" y2="515" stroke="#333" stroke-width="0.7"/>
<path d="M877.5 515 L874 521.5 L881 521.5 Z" fill="none" stroke="#333" stroke-width="0.7"/>
<path d="M759.4 511.8 L758.1 514.1 L758.4 516.8 L756.3 518.4 L755.6 521 L753 521.7 L751.4 523.8 L748.7 523.5 L746.4 524.8 L744.1 523.5 L741.4 523.8 L739.8 521.7 L737.2 521 L736.5 518.4 L734.4 516.8 L734.7 514.1 L733.4 511.8 L734.7 509.5 L734.4 506.8 L736.5 505.2 L737.2 502.6 L739.8 501.9 L741.4 499.8 L744.1 500.1 L746.4 498.8 L748.7 500.1 L751.4 499.8 L753 501.9 L755.6 502.6 L756.3 505.2 L758.4 506.8 L758.1 509.5 Z" fill="#fff" stroke="#777" stroke-width="0.8"/>
<g transform="rotate(40 746.4 511.8)" fill="none" stroke="#666" stroke-width="0.8"><rect x="736.8" y="505.9" width="19.2" height="11.7" rx="3.6"/><line x1="739.2" y1="516" x2="753.5" y2="516" stroke-width="1.7" stroke="#999"/><line x1="739.2" y1="507.6" x2="753.5" y2="507.6" stroke-width="1.7" stroke="#999"/><line x1="740.5" y1="511.8" x2="752.2" y2="511.8" stroke="#444" stroke-width="0.9"/></g>
</g>
<g id="gft">
<text x="88" y="247.5" font-family='"Liberation Sans",Arial,sans-serif' font-size="10.5" font-weight="bold" fill="#000" textLength="41.5" lengthAdjust="spacingAndGlyphs">DINING</text>
<text x="90.6" y="257.7" font-family='"Liberation Sans",Arial,sans-serif' font-size="10.5" font-weight="bold" fill="#000" textLength="36.4" lengthAdjust="spacingAndGlyphs">ROOM</text>
<text x="245" y="260.6" font-family='"Liberation Sans",Arial,sans-serif' font-size="10.8" font-weight="bold" fill="#000" textLength="79.4" lengthAdjust="spacingAndGlyphs">LIVING ROOM</text>
<text x="462" y="134.8" font-family='"Liberation Sans",Arial,sans-serif' font-size="11" font-weight="normal" fill="#000" textLength="82.2" lengthAdjust="spacingAndGlyphs" stroke="#000" stroke-width="0.55">SITTING ROOM</text>
<text x="667.5" y="193.7" font-family='"Liberation Sans",Arial,sans-serif' font-size="11" font-weight="normal" fill="#000" textLength="53.3" lengthAdjust="spacingAndGlyphs" stroke="#000" stroke-width="0.55">HALLWAY</text>
<text x="141.7" y="343.8" font-family='"Liberation Sans",Arial,sans-serif' font-size="11" font-weight="bold" fill="#000" textLength="43.1" lengthAdjust="spacingAndGlyphs">STAIRS</text>
<text x="261.5" y="344.8" font-family='"Liberation Sans",Arial,sans-serif' font-size="11" font-weight="bold" fill="#000" textLength="57" lengthAdjust="spacingAndGlyphs">HALLWAY</text>
<text x="108.8" y="415.6" font-family='"Liberation Sans",Arial,sans-serif' font-size="11" font-weight="bold" fill="#000" textLength="68.8" lengthAdjust="spacingAndGlyphs">RECEPTION</text>
<text x="125" y="427.6" font-family='"Liberation Sans",Arial,sans-serif' font-size="11" font-weight="bold" fill="#000" textLength="36.5" lengthAdjust="spacingAndGlyphs">ROOM</text>
<text x="264" y="465.6" font-family='"Liberation Sans",Arial,sans-serif' font-size="11" font-weight="bold" fill="#000" textLength="55" lengthAdjust="spacingAndGlyphs">KITCHEN/</text>
<text x="235.8" y="477.8" font-family='"Liberation Sans",Arial,sans-serif' font-size="10.5" font-weight="bold" fill="#000" textLength="110.9" lengthAdjust="spacingAndGlyphs">BREAKFAST ROOM</text>
<text x="134" y="509" font-family='"Liberation Sans",Arial,sans-serif' font-size="11" font-weight="bold" fill="#000" textLength="19.5" lengthAdjust="spacingAndGlyphs">WC</text>
<text x="524" y="346.7" font-family='"Liberation Sans",Arial,sans-serif' font-size="11" font-weight="normal" fill="#000" textLength="53" lengthAdjust="spacingAndGlyphs" stroke="#000" stroke-width="0.55">HALLWAY</text>
<text x="560" y="412" font-family='"Liberation Sans",Arial,sans-serif' font-size="8.3" font-weight="normal" fill="#000" textLength="38.8" lengthAdjust="spacingAndGlyphs" stroke="#000" stroke-width="0.4">SHOWER</text>
<text x="566.5" y="421.8" font-family='"Liberation Sans",Arial,sans-serif' font-size="8.3" font-weight="normal" fill="#000" textLength="26" lengthAdjust="spacingAndGlyphs" stroke="#000" stroke-width="0.4">ROOM</text>
<text x="488.8" y="459.8" font-family='"Liberation Sans",Arial,sans-serif' font-size="11" font-weight="normal" fill="#000" textLength="56.9" lengthAdjust="spacingAndGlyphs" stroke="#000" stroke-width="0.6">BEDROOM</text>
<text x="628" y="452.3" font-family='"Liberation Sans",Arial,sans-serif' font-size="11" font-weight="normal" fill="#000" textLength="92.6" lengthAdjust="spacingAndGlyphs" stroke="#000" stroke-width="0.6">ENTRANCE HALL</text>
<text x="565" y="485.8" font-family='"Liberation Sans",Arial,sans-serif' font-size="11" font-weight="normal" fill="#000" textLength="49.8" lengthAdjust="spacingAndGlyphs" stroke="#000" stroke-width="0.6">SHOWER</text>
<text x="573" y="498" font-family='"Liberation Sans",Arial,sans-serif' font-size="11" font-weight="normal" fill="#000" textLength="34" lengthAdjust="spacingAndGlyphs" stroke="#000" stroke-width="0.6">ROOM</text>
<text x="800.6" y="436.2" font-family='"Liberation Sans",Arial,sans-serif' font-size="11" font-weight="normal" fill="#000" textLength="48.4" lengthAdjust="spacingAndGlyphs" stroke="#000" stroke-width="0.6">KITCHEN</text>
<text x="882.3" y="292.4" font-family='"Liberation Sans",Arial,sans-serif' font-size="10.5" font-weight="normal" fill="#000" textLength="38.7" lengthAdjust="spacingAndGlyphs" stroke="#000" stroke-width="0.6">DINING</text>
<text x="884.5" y="305" font-family='"Liberation Sans",Arial,sans-serif' font-size="10.5" font-weight="normal" fill="#000" textLength="34.2" lengthAdjust="spacingAndGlyphs" stroke="#000" stroke-width="0.6">ROOM</text>
<text x="628" y="583" font-family='"Liberation Sans",Arial,sans-serif' font-size="10.6" font-weight="normal" fill="#333" textLength="88" lengthAdjust="spacingAndGlyphs">GROUND FLOOR</text>
<text x="66" y="563.3" font-family='"Liberation Serif","Times New Roman",serif' font-size="16.6" font-weight="bold" fill="#595959" textLength="95.2" lengthAdjust="spacingAndGlyphs">Corner Wing</text>
</g>
<g id="ff" fill="#000">
<rect x="1004.6" y="125.6" width="352.1" height="6.1"/>
<rect x="1046.7" y="126.1" width="54.8" height="5.1" fill="#fff" stroke="#444" stroke-width="0.8"/>
<rect x="1220" y="126.1" width="65.8" height="5.1" fill="#fff" stroke="#444" stroke-width="0.8"/>
<rect x="1004.6" y="125.6" width="6.9" height="415"/>
<rect x="1005.1" y="228.8" width="5.9" height="44.2" fill="#fff" stroke="#444" stroke-width="0.8"/>
<rect x="1005.1" y="303" width="5.9" height="23" fill="#fff" stroke="#444" stroke-width="0.8"/>
<rect x="1005.1" y="356" width="5.9" height="24" fill="#fff" stroke="#444" stroke-width="0.8"/>
<rect x="1182.7" y="131.7" width="4.8" height="160"/>
<rect x="1011.5" y="226" width="100.4" height="4.8"/>
<rect x="1107.7" y="226" width="4.2" height="26"/>
<rect x="1011.5" y="287.5" width="102.9" height="3.5"/>
<rect x="1108.3" y="281.8" width="3.5" height="6.2"/>
<rect x="1147.7" y="287.3" width="49.6" height="4.4"/>
<rect x="1231.7" y="287.3" width="89.3" height="4.4"/>
<rect x="1251.5" y="291.7" width="5.2" height="47.9"/>
<rect x="1321" y="125.6" width="6.5" height="416.4"/>
<polygon points="1327.5,183.3 1340,183.3 1340,202 1334.8,206.2 1334.8,237.5 1340,241.7 1340,260.4 1327.5,260.4" fill="#000" stroke="none" stroke-width="1"/>
<polygon points="1321,215.6 1307.7,215.6 1307.7,225 1313,226 1313,243.8 1307.7,244.8 1307.7,254.2 1321,254.2" fill="#000" stroke="none" stroke-width="1"/>
<rect x="1298.3" y="214" width="9.4" height="40.6" fill="none" stroke="#b5b5b5" stroke-width="1"/>
<rect x="1340" y="183.3" width="9.4" height="77.1" fill="none" stroke="#b5b5b5" stroke-width="1"/>
<rect x="1004.6" y="338" width="144.8" height="4.7"/>
<rect x="1145.8" y="338" width="4.2" height="7.8"/>
<rect x="1011.5" y="383" width="95.2" height="3.9"/>
<rect x="1145.2" y="376" width="5.2" height="158.8"/>
<rect x="1150.4" y="383" width="128.1" height="3.9"/>
<rect x="1311.9" y="383" width="9.1" height="3.9"/>
<rect x="1004.6" y="534.8" width="316.4" height="5.8"/>
<rect x="1207.7" y="535.3" width="65.3" height="4.8" fill="#fff" stroke="#444" stroke-width="0.8"/>
<rect x="1327" y="126" width="31.5" height="6.5"/>
<rect x="1536.7" y="126" width="325.3" height="6.5"/>
<rect x="1594" y="126.5" width="45.8" height="5.5" fill="#fff" stroke="#444" stroke-width="0.8"/>
<rect x="1679.5" y="126.5" width="63.8" height="5.5" fill="#fff" stroke="#444" stroke-width="0.8"/>
<rect x="1762.8" y="126.5" width="63.7" height="5.5" fill="#fff" stroke="#444" stroke-width="0.8"/>
<rect x="1855.5" y="126.6" width="6.5" height="415.2"/>
<rect x="1856" y="278.5" width="5.5" height="64.8" fill="#fff" stroke="#444" stroke-width="0.8"/>
<rect x="1856" y="420.8" width="5.5" height="65" fill="#fff" stroke="#444" stroke-width="0.8"/>
<rect x="1574.2" y="132.3" width="4.1" height="23.9"/>
<rect x="1574.2" y="188.5" width="4.1" height="140.7"/>
<rect x="1658.5" y="132.3" width="4.2" height="71.9"/>
<rect x="1658.5" y="237" width="4.2" height="137.4"/>
<rect x="1523" y="200" width="55.3" height="4.6"/>
<rect x="1523" y="200" width="4.3" height="41"/>
<rect x="1523" y="273.3" width="4.3" height="51.1"/>
<rect x="1327" y="324.4" width="251.3" height="4.8"/>
<rect x="1327" y="372.5" width="251.3" height="4.5"/>
<rect x="1623" y="372.5" width="239" height="4.5"/>
<rect x="1545.4" y="377" width="3.8" height="24.2"/>
<rect x="1545.4" y="434.6" width="3.8" height="101.4"/>
<rect x="1649.8" y="377" width="4.4" height="103.4"/>
<rect x="1649.8" y="512.7" width="4.4" height="23.3"/>
<rect x="1322" y="536" width="540.3" height="5.9"/>
<rect x="1349.8" y="536.5" width="63.2" height="4.9" fill="#fff" stroke="#444" stroke-width="0.8"/>
<rect x="1442.3" y="536.5" width="63.7" height="4.9" fill="#fff" stroke="#444" stroke-width="0.8"/>
<rect x="1581.9" y="536.5" width="42.9" height="4.9" fill="#fff" stroke="#444" stroke-width="0.8"/>
<polygon points="1433.5,377 1481.5,377 1481.5,387 1471,387 1468,381.7 1448,381.7 1445,387 1433.5,387" fill="#000" stroke="none" stroke-width="1"/>
<rect x="1433.5" y="387" width="48" height="9.2" fill="none" stroke="#b5b5b5" stroke-width="1"/>
<polygon points="1711.4,523.5 1730.7,523.5 1734,529.6 1764.6,529.6 1768.6,523.5 1787.9,523.5 1787.9,537 1711.4,537" fill="#000" stroke="none" stroke-width="1"/>
<rect x="1711.4" y="514.4" width="76.5" height="9.1" fill="none" stroke="#b5b5b5" stroke-width="1"/>
<rect x="1538" y="330.5" width="4" height="4"/>
<line x1="1110" y1="282.5" x2="1087" y2="260.8" stroke="#000" stroke-width="1.8"/>
<line x1="1114.4" y1="289" x2="1138" y2="310.8" stroke="#000" stroke-width="1.8"/>
<path d="M1138 310.8 A32.1 32.1 0 0 0 1146.5 289" fill="none" stroke="#b8b8b8" stroke-width="0.9"/>
<line x1="1197.3" y1="289" x2="1220.8" y2="269" stroke="#000" stroke-width="1.8"/>
<path d="M1220.8 269 A30.9 30.9 0 0 1 1228.2 289" fill="none" stroke="#b8b8b8" stroke-width="0.9"/>
<line x1="1147.7" y1="346.9" x2="1125" y2="366.7" stroke="#000" stroke-width="1.8"/>
<path d="M1125 366.7 A30.1 30.1 0 0 0 1147.7 377" fill="none" stroke="#b8b8b8" stroke-width="0.9"/>
<line x1="1311.9" y1="385" x2="1289" y2="405.2" stroke="#000" stroke-width="1.8"/>
<path d="M1289 405.2 A30.5 30.5 0 0 1 1281.4 385" fill="none" stroke="#b8b8b8" stroke-width="0.9"/>
<line x1="1576.2" y1="188.5" x2="1554.4" y2="166" stroke="#000" stroke-width="1.8"/>
<path d="M1554.4 166 A31.4 31.4 0 0 1 1576.2 157.1" fill="none" stroke="#b8b8b8" stroke-width="0.9"/>
<line x1="1661.7" y1="235.8" x2="1682.5" y2="215" stroke="#000" stroke-width="1.8"/>
<path d="M1682.5 215 A29.4 29.4 0 0 0 1661.7 206.4" fill="none" stroke="#b8b8b8" stroke-width="0.9"/>
<line x1="1525.2" y1="241" x2="1547" y2="263" stroke="#000" stroke-width="1.8"/>
<path d="M1547 263 A31 31 0 0 1 1525.2 272" fill="none" stroke="#b8b8b8" stroke-width="0.9"/>
<line x1="1537.7" y1="331.7" x2="1510" y2="361.2" stroke="#000" stroke-width="1.8"/>
<path d="M1510 361.2 A40.5 40.5 0 0 0 1527.3 370.8" fill="none" stroke="#b8b8b8" stroke-width="0.9"/>
<line x1="1547" y1="401.2" x2="1525.2" y2="424.2" stroke="#000" stroke-width="1.8"/>
<path d="M1525.2 424.2 A31.7 31.7 0 0 0 1547 432.9" fill="none" stroke="#b8b8b8" stroke-width="0.9"/>
<line x1="1651.9" y1="480.4" x2="1674.2" y2="503" stroke="#000" stroke-width="1.8"/>
<path d="M1674.2 503 A31.7 31.7 0 0 1 1651.9 512.1" fill="none" stroke="#b8b8b8" stroke-width="0.9"/>
<path d="M1542 127 A94.8 94.8 0 1 0 1354 127" fill="none" stroke="#333" stroke-width="0.9"/>
<path d="M1536 126.2 A88.8 88.8 0 1 0 1360 126.2" fill="none" stroke="#333" stroke-width="0.9"/>
<path d="M1539 126.6 A91.8 91.8 0 0 0 1539.7 110.4" fill="none" stroke="#000" stroke-width="6"/>
<path d="M1514.5 51.3 A91.8 91.8 0 0 0 1477.7 27.7" fill="none" stroke="#000" stroke-width="6"/>
<path d="M1414.4 29.2 A91.8 91.8 0 0 0 1385.3 47.6" fill="none" stroke="#000" stroke-width="6"/>
<path d="M1356.7 105.2 A91.8 91.8 0 0 0 1357 126.6" fill="none" stroke="#000" stroke-width="6"/>
<rect x="1353.3" y="126" width="6.2" height="6.5"/>
<rect x="1536.7" y="126" width="6.3" height="6.5"/>
</g>
<g id="fff">
<rect x="1011.9" y="132.3" width="19.8" height="18.7" fill="none" stroke="#333" stroke-width="1"/>
<circle cx="1021.8" cy="141.7" r="6" fill="none" stroke="#333" stroke-width="0.9"/>
<circle cx="1021.8" cy="141.7" r="2.2" fill="none" stroke="#333" stroke-width="0.9"/>
<rect x="1011.9" y="208.3" width="19.8" height="17.7" fill="none" stroke="#333" stroke-width="1"/>
<circle cx="1021.8" cy="217.2" r="5.7" fill="none" stroke="#333" stroke-width="0.9"/>
<circle cx="1021.8" cy="217.2" r="2.1" fill="none" stroke="#333" stroke-width="0.9"/>
<rect x="1011.9" y="151" width="69.8" height="51.5" fill="#fff" stroke="#333" stroke-width="1"/>
<rect x="1014.9" y="154" width="11" height="45.5" fill="none" stroke="#444" stroke-width="0.9"/>
<path d="M1025.9 151 Q1026.6 181.9 1033.5 204.5 L1037 202.5 Q1029.3 179.3 1028.7 151" fill="#fff" stroke="#333" stroke-width="0.9"/>
<line x1="1015" y1="176.5" x2="1025.5" y2="176.5" stroke="#444" stroke-width="1"/>
<path transform="translate(1123 146) rotate(213) translate(0 -1.8)" d="M-12.5 -7.5 L-12.5 0 A12.5 12.5 0 0 0 12.5 0 L12.5 -7.5 Q12.5 -9 11 -9 L9.4 -9 Q8.2 -9 8.2 -7.5 L8.2 0 A8.2 8.2 0 0 1 -8.2 0 L-8.2 -7.5 Q-8.2 -9 -9.4 -9 L-11 -9 Q-12.5 -9 -12.5 -7.5 Z M-8.2 -7 L8.2 -7" fill="#fff" stroke="#333" stroke-width="0.9"/>
<rect x="1152.5" y="134.4" width="30.2" height="55.6" fill="none" stroke="#555" stroke-width="1"/>
<path d="M1159.4 175.8 L1164.2 172.8 L1178.6 174.2 L1179.8 181 L1176.2 186.2 L1161.8 185.5 L1158.2 181 Z" fill="none" stroke="#444" stroke-width="0.8"/>
<line x1="1161.8" y1="178.8" x2="1177.4" y2="179.5" stroke="#444" stroke-width="0.8"/>
<line x1="1164.2" y1="182.5" x2="1173.8" y2="182.8" stroke="#444" stroke-width="0.8"/>
<rect x="1158.3" y="192.7" width="24.4" height="36.3" fill="none" stroke="#555" stroke-width="1"/>
<path d="M1162.1 219 L1166.3 216.6 L1178.9 217.8 L1180 223.2 L1176.8 227.4 L1164.2 226.8 L1161 223.2 Z" fill="none" stroke="#444" stroke-width="0.8"/>
<line x1="1164.2" y1="221.4" x2="1177.8" y2="222" stroke="#444" stroke-width="0.8"/>
<line x1="1166.3" y1="224.4" x2="1174.7" y2="224.6" stroke="#444" stroke-width="0.8"/>
<circle cx="1028" cy="246.5" r="11" fill="none" stroke="#333" stroke-width="1.2"/>
<circle cx="1028" cy="246.5" r="9.4" fill="none" stroke="#666" stroke-width="0.7"/>
<rect x="1021" y="228.5" width="14" height="8" rx="3" fill="#fff" stroke="#333" stroke-width="1"/>
<rect x="1053" y="231.2" width="54.7" height="24.6" fill="#fff" stroke="#999" stroke-width="0.9"/>
<path d="M1105.7 233.2 L1064 233.2 A11 10.3 0 0 0 1064 253.8 L1105.7 253.8 Z" fill="none" stroke="#555" stroke-width="0.9"/>
<circle cx="1100.7" cy="243.5" r="1.1" fill="none" stroke="#666" stroke-width="0.6"/>
<circle cx="1097.2" cy="243.5" r="1.1" fill="none" stroke="#666" stroke-width="0.6"/>
<ellipse cx="1028.5" cy="279" rx="9.5" ry="9" fill="#fff" stroke="#333" stroke-width="1.2"/>
<ellipse cx="1028.5" cy="279" rx="7.7" ry="7.2" fill="none" stroke="#666" stroke-width="0.7"/>
<circle cx="1028.5" cy="279" r="1.2" fill="none" stroke="#333" stroke-width="0.7"/>
<rect x="1188" y="132.3" width="18.7" height="18.3" fill="none" stroke="#333" stroke-width="1"/>
<circle cx="1197.3" cy="141.4" r="5.9" fill="none" stroke="#333" stroke-width="0.9"/>
<circle cx="1197.3" cy="141.4" r="2.2" fill="none" stroke="#333" stroke-width="0.9"/>
<rect x="1254" y="132.3" width="19.3" height="18.3" fill="none" stroke="#333" stroke-width="1"/>
<circle cx="1263.7" cy="141.4" r="5.9" fill="none" stroke="#333" stroke-width="0.9"/>
<circle cx="1263.7" cy="141.4" r="2.2" fill="none" stroke="#333" stroke-width="0.9"/>
<rect x="1207.3" y="134.4" width="44.6" height="76" fill="#fff" stroke="#333" stroke-width="1"/>
<rect x="1210.3" y="137.4" width="38.6" height="12.2" fill="none" stroke="#444" stroke-width="0.9"/>
<path d="M1207.3 161.8 Q1227.4 153.4 1251.9 152.6 L1251.9 149.6 Q1225.1 150.4 1207.3 158 Z" fill="#fff" stroke="#333" stroke-width="0.9"/>
<rect x="1275.4" y="134.4" width="44.4" height="76" fill="#fff" stroke="#333" stroke-width="1"/>
<rect x="1278.4" y="137.4" width="38.4" height="12.2" fill="none" stroke="#444" stroke-width="0.9"/>
<path d="M1275.4 161.8 Q1295.4 153.4 1319.8 152.6 L1319.8 149.6 Q1293.2 150.4 1275.4 158 Z" fill="#fff" stroke="#333" stroke-width="0.9"/>
<rect x="1188" y="214" width="26" height="40.6" fill="none" stroke="#b5b5b5" stroke-width="1"/>
<path d="M1212.9 235.4 L1211.7 237.6 L1211.9 240.2 L1210 241.8 L1209.2 244.2 L1206.8 245 L1205.2 246.9 L1202.6 246.7 L1200.4 247.9 L1198.2 246.7 L1195.6 246.9 L1194 245 L1191.6 244.2 L1190.8 241.8 L1188.9 240.2 L1189.1 237.6 L1187.9 235.4 L1189.1 233.2 L1188.9 230.6 L1190.8 229 L1191.6 226.6 L1194 225.8 L1195.6 223.9 L1198.2 224.1 L1200.4 222.9 L1202.6 224.1 L1205.2 223.9 L1206.8 225.8 L1209.2 226.6 L1210 229 L1211.9 230.6 L1211.7 233.2 Z" fill="#fff" stroke="#777" stroke-width="0.8"/>
<g transform="rotate(55 1200.4 235.4)" fill="none" stroke="#666" stroke-width="0.8"><rect x="1191.2" y="229.8" width="18.5" height="11.2" rx="3.5"/><line x1="1193.5" y1="239.4" x2="1207.3" y2="239.4" stroke-width="1.7" stroke="#999"/><line x1="1193.5" y1="231.4" x2="1207.3" y2="231.4" stroke-width="1.7" stroke="#999"/><line x1="1194.8" y1="235.4" x2="1206" y2="235.4" stroke="#444" stroke-width="0.9"/></g>
<rect x="1243.8" y="260" width="59.8" height="27" fill="#fff" stroke="#333" stroke-width="1.1"/>
<path d="M1247.6 268.8 L1250.8 264.1 L1260.4 266.4 L1261.2 276.8 L1258.8 284.9 L1249.2 283.7 L1246.8 276.8 Z" fill="none" stroke="#444" stroke-width="0.8"/>
<line x1="1249.2" y1="273.4" x2="1259.6" y2="274.5" stroke="#444" stroke-width="0.8"/>
<line x1="1250.8" y1="279.1" x2="1257.2" y2="279.6" stroke="#444" stroke-width="0.8"/>
<line x1="1054.6" y1="291.7" x2="1054.6" y2="338" stroke="#444" stroke-width="0.9"/>
<line x1="1064" y1="291.7" x2="1064" y2="338" stroke="#444" stroke-width="0.9"/>
<line x1="1072.3" y1="291.7" x2="1072.3" y2="338" stroke="#444" stroke-width="0.9"/>
<line x1="1080.6" y1="291.7" x2="1080.6" y2="338" stroke="#444" stroke-width="0.9"/>
<line x1="1089" y1="291.7" x2="1089" y2="338" stroke="#444" stroke-width="0.9"/>
<line x1="1097.3" y1="291.7" x2="1097.3" y2="338" stroke="#444" stroke-width="0.9"/>
<line x1="1104.6" y1="291.7" x2="1104.6" y2="338" stroke="#444" stroke-width="0.9"/>
<line x1="1032.7" y1="291.7" x2="1054.6" y2="338" stroke="#444" stroke-width="0.9"/>
<line x1="1011.5" y1="316" x2="1054.6" y2="338" stroke="#444" stroke-width="0.9"/>
<line x1="1100.4" y1="314.6" x2="1087" y2="314.6" stroke="#222" stroke-width="0.9"/>
<polygon points="1085.5,314.6 1091.2,316.7 1091.2,312.5" fill="#222" stroke="none" stroke-width="1"/>
<line x1="1147.5" y1="291.7" x2="1147.5" y2="338" stroke="#bbb" stroke-width="1"/>
<line x1="1232.7" y1="299" x2="1251.5" y2="299" stroke="#444" stroke-width="0.9"/>
<line x1="1232.7" y1="306.5" x2="1251.5" y2="306.5" stroke="#444" stroke-width="0.9"/>
<line x1="1232.7" y1="313.8" x2="1251.5" y2="313.8" stroke="#444" stroke-width="0.9"/>
<line x1="1232.7" y1="321" x2="1251.5" y2="321" stroke="#444" stroke-width="0.9"/>
<line x1="1232.7" y1="328.5" x2="1251.5" y2="328.5" stroke="#444" stroke-width="0.9"/>
<line x1="1232.7" y1="291.7" x2="1232.7" y2="339" stroke="#444" stroke-width="0.9"/>
<line x1="1150" y1="339" x2="1232.7" y2="339" stroke="#bbb" stroke-width="1"/>
<rect x="1272.3" y="320.8" width="48.7" height="18.8" fill="none" stroke="#b5b5b5" stroke-width="1"/>
<path d="M1272.3 320.8 L1296 317.5 L1296.8 313.5 L1298.5 319 L1321 313.5" fill="none" stroke="#444" stroke-width="0.9"/>
<line x1="1281.7" y1="334.4" x2="1281.7" y2="324" stroke="#222" stroke-width="0.9"/>
<polygon points="1281.7,322.5 1279.6,328.2 1283.8,328.2" fill="#222" stroke="none" stroke-width="1"/>
<rect x="1011.9" y="342.7" width="38.5" height="38.6" rx="2" fill="#fff" stroke="#222" stroke-width="1.3"/>
<rect x="1014.9" y="345.7" width="32.5" height="32.6" rx="2" fill="none" stroke="#444" stroke-width="0.8"/>
<ellipse cx="1023" cy="362" rx="2.6" ry="2" fill="none" stroke="#555" stroke-width="0.7"/>
<ellipse cx="1041" cy="362" rx="2.6" ry="2" fill="#ccc" stroke="#777" stroke-width="0.7"/>
<line x1="1104" y1="342.7" x2="1104" y2="427" stroke="#bbb" stroke-width="1"/>
<rect x="1104" y="384.4" width="41" height="42.6" fill="none" stroke="#b5b5b5" stroke-width="1"/>
<rect x="1011.9" y="394.2" width="68.7" height="30.2" fill="#fff" stroke="#999" stroke-width="0.9"/>
<path d="M1013.9 396.2 L1067 396.2 A13.6 13.1 0 0 1 1067 422.4 L1013.9 422.4 Z" fill="none" stroke="#555" stroke-width="0.9"/>
<circle cx="1018.9" cy="409.3" r="1.1" fill="none" stroke="#666" stroke-width="0.6"/>
<circle cx="1022.4" cy="409.3" r="1.1" fill="none" stroke="#666" stroke-width="0.6"/>
<path d="M1030.6 429.5 L1016.8 429.5 L1016.8 442" fill="none" stroke="#444" stroke-width="1.4"/>
<line x1="1016.8" y1="429.5" x2="1025.7" y2="437.5" stroke="#444" stroke-width="1.1"/>
<path d="M1047.6 429.5 L1061.4 429.5 L1061.4 442" fill="none" stroke="#444" stroke-width="1.4"/>
<line x1="1061.4" y1="429.5" x2="1052.5" y2="437.5" stroke="#444" stroke-width="1.1"/>
<path d="M1030.6 469.7 L1016.8 469.7 L1016.8 457.2" fill="none" stroke="#444" stroke-width="1.4"/>
<line x1="1016.8" y1="469.7" x2="1025.7" y2="461.7" stroke="#444" stroke-width="1.1"/>
<path d="M1047.6 469.7 L1061.4 469.7 L1061.4 457.2" fill="none" stroke="#444" stroke-width="1.4"/>
<line x1="1061.4" y1="469.7" x2="1052.5" y2="461.7" stroke="#444" stroke-width="1.1"/>
<line x1="1030.6" y1="442" x2="1047.6" y2="457.2" stroke="#444" stroke-width="1.1"/>
<line x1="1047.6" y1="442" x2="1030.6" y2="457.2" stroke="#444" stroke-width="1.1"/>
<path d="M1085.8 448.6 L1072 448.6 L1072 461.2" fill="none" stroke="#444" stroke-width="1.4"/>
<line x1="1072" y1="448.6" x2="1080.9" y2="456.7" stroke="#444" stroke-width="1.1"/>
<path d="M1102.8 448.6 L1116.6 448.6 L1116.6 461.2" fill="none" stroke="#444" stroke-width="1.4"/>
<line x1="1116.6" y1="448.6" x2="1107.7" y2="456.7" stroke="#444" stroke-width="1.1"/>
<path d="M1085.8 489.1 L1072 489.1 L1072 476.5" fill="none" stroke="#444" stroke-width="1.4"/>
<line x1="1072" y1="489.1" x2="1080.9" y2="481" stroke="#444" stroke-width="1.1"/>
<path d="M1102.8 489.1 L1116.6 489.1 L1116.6 476.5" fill="none" stroke="#444" stroke-width="1.4"/>
<line x1="1116.6" y1="489.1" x2="1107.7" y2="481" stroke="#444" stroke-width="1.1"/>
<line x1="1085.8" y1="461.2" x2="1102.8" y2="476.5" stroke="#444" stroke-width="1.1"/>
<line x1="1102.8" y1="461.2" x2="1085.8" y2="476.5" stroke="#444" stroke-width="1.1"/>
<circle cx="1068" cy="517.5" r="11" fill="none" stroke="#333" stroke-width="1.2"/>
<circle cx="1068" cy="517.5" r="9.4" fill="none" stroke="#666" stroke-width="0.7"/>
<rect x="1061" y="527.5" width="14" height="8" rx="3" fill="#fff" stroke="#333" stroke-width="1"/>
<ellipse cx="1121" cy="520" rx="12" ry="13" fill="#fff" stroke="#333" stroke-width="1.2"/>
<ellipse cx="1121" cy="520" rx="10.2" ry="11.2" fill="none" stroke="#666" stroke-width="0.7"/>
<circle cx="1121" cy="520" r="1.2" fill="none" stroke="#333" stroke-width="0.7"/>
<rect x="1151.5" y="385.4" width="29.1" height="54.6" fill="none" stroke="#555" stroke-width="1"/>
<path d="M1155.5 391.5 L1160.5 388.7 L1175.5 390.1 L1176.8 396.4 L1173 401.3 L1158 400.6 L1154.2 396.4 Z" fill="none" stroke="#444" stroke-width="0.8"/>
<line x1="1158" y1="394.3" x2="1174.2" y2="395" stroke="#444" stroke-width="0.8"/>
<line x1="1160.5" y1="397.8" x2="1170.5" y2="398.1" stroke="#444" stroke-width="0.8"/>
<path transform="translate(1209.6 403) rotate(127) translate(0 1.5)" d="M-11 -12.5 L-11 0 A11 11 0 0 0 11 0 L11 -12.5 Q11 -14 9.5 -14 L7.9 -14 Q6.7 -14 6.7 -12.5 L6.7 0 A6.7 6.7 0 0 1 -6.7 0 L-6.7 -12.5 Q-6.7 -14 -7.9 -14 L-9.5 -14 Q-11 -14 -11 -12.5 Z M-6.7 -12 L6.7 -12" fill="#fff" stroke="#333" stroke-width="0.9"/>
<rect x="1299.4" y="414.6" width="19.8" height="18.7" fill="none" stroke="#333" stroke-width="1"/>
<circle cx="1309.3" cy="424" r="6" fill="none" stroke="#333" stroke-width="0.9"/>
<circle cx="1309.3" cy="424" r="2.2" fill="none" stroke="#333" stroke-width="0.9"/>
<rect x="1299.4" y="501" width="19.8" height="18.8" fill="none" stroke="#333" stroke-width="1"/>
<circle cx="1309.3" cy="510.4" r="6" fill="none" stroke="#333" stroke-width="0.9"/>
<circle cx="1309.3" cy="510.4" r="2.3" fill="none" stroke="#333" stroke-width="0.9"/>
<rect x="1229.2" y="436.5" width="90.6" height="64.5" fill="#fff" stroke="#333" stroke-width="1"/>
<rect x="1298" y="438.5" width="17" height="28.5" fill="none" stroke="#444" stroke-width="0.9"/>
<rect x="1298" y="469" width="17" height="30" fill="none" stroke="#444" stroke-width="0.9"/>
<path d="M1279 443 Q1300 468 1302 501 L1297 501 Q1294 470 1275 446 Z" fill="#fff" stroke="#333" stroke-width="0.9"/>
<path d="M1288 438 Q1297 452 1300 470" fill="none" stroke="#333" stroke-width="0.8"/>
<rect x="1188.5" y="440.6" width="31.3" height="53.6" fill="#fff" stroke="#333" stroke-width="1.4"/>
<path d="M1189.5 443.1 Q1192.4 446.6 1195.4 443.1 Q1198.3 446.6 1201.2 443.1 Q1204.2 446.6 1207.1 443.1 Q1210 446.6 1212.9 443.1 Q1215.9 446.6 1218.8 443.1" fill="none" stroke="#333" stroke-width="0.8"/>
<path d="M1189.5 491.7 Q1192.4 488.2 1195.4 491.7 Q1198.3 488.2 1201.2 491.7 Q1204.2 488.2 1207.1 491.7 Q1210 488.2 1212.9 491.7 Q1215.9 488.2 1218.8 491.7" fill="none" stroke="#333" stroke-width="0.8"/>
<rect x="1150.4" y="496.9" width="26.1" height="37.9" fill="none" stroke="#b5b5b5" stroke-width="1"/>
<path d="M1178 516.7 L1176.8 518.9 L1177.1 521.3 L1175.2 522.8 L1174.5 525.2 L1172.1 525.9 L1170.6 527.8 L1168.2 527.5 L1166 528.7 L1163.8 527.5 L1161.4 527.8 L1159.9 525.9 L1157.5 525.2 L1156.8 522.8 L1154.9 521.3 L1155.2 518.9 L1154 516.7 L1155.2 514.5 L1154.9 512.1 L1156.8 510.6 L1157.5 508.2 L1159.9 507.5 L1161.4 505.6 L1163.8 505.9 L1166 504.7 L1168.2 505.9 L1170.6 505.6 L1172.1 507.5 L1174.5 508.2 L1175.2 510.6 L1177.1 512.1 L1176.8 514.5 Z" fill="#fff" stroke="#777" stroke-width="0.8"/>
<g transform="rotate(40 1166 516.7)" fill="none" stroke="#666" stroke-width="0.8"><rect x="1157.1" y="511.3" width="17.8" height="10.8" rx="3.4"/><line x1="1159.4" y1="520.5" x2="1172.6" y2="520.5" stroke-width="1.7" stroke="#999"/><line x1="1159.4" y1="512.9" x2="1172.6" y2="512.9" stroke-width="1.7" stroke="#999"/><line x1="1160.6" y1="516.7" x2="1171.4" y2="516.7" stroke="#444" stroke-width="0.9"/></g>
<rect x="1328.3" y="133.3" width="31.3" height="51.1" fill="none" stroke="#555" stroke-width="1"/>
<path d="M1333.6 139.5 L1338.8 136.7 L1354.4 138.1 L1355.7 144.4 L1351.8 149.3 L1336.2 148.6 L1332.3 144.4 Z" fill="none" stroke="#444" stroke-width="0.8"/>
<line x1="1336.2" y1="142.3" x2="1353.1" y2="143" stroke="#444" stroke-width="0.8"/>
<line x1="1338.8" y1="145.8" x2="1349.2" y2="146.1" stroke="#444" stroke-width="0.8"/>
<rect x="1365" y="88" width="22" height="43" fill="none" stroke="#b5b5b5" stroke-width="1"/>
<path d="M1392 115.6 L1390.4 118.5 L1390.8 121.7 L1388.2 123.8 L1387.3 126.9 L1384.2 127.8 L1382.1 130.4 L1378.9 130 L1376 131.6 L1373.1 130 L1369.9 130.4 L1367.8 127.8 L1364.7 126.9 L1363.8 123.8 L1361.2 121.7 L1361.6 118.5 L1360 115.6 L1361.6 112.7 L1361.2 109.5 L1363.8 107.4 L1364.7 104.3 L1367.8 103.4 L1369.9 100.8 L1373.1 101.2 L1376 99.6 L1378.9 101.2 L1382.1 100.8 L1384.2 103.4 L1387.3 104.3 L1388.2 107.4 L1390.8 109.5 L1390.4 112.7 Z" fill="#fff" stroke="#777" stroke-width="0.8"/>
<g transform="rotate(-50 1376 115.6)" fill="none" stroke="#666" stroke-width="0.8"><rect x="1364.2" y="108.4" width="23.7" height="14.4" rx="4.5"/><line x1="1367.2" y1="120.7" x2="1384.8" y2="120.7" stroke-width="1.7" stroke="#999"/><line x1="1367.2" y1="110.5" x2="1384.8" y2="110.5" stroke-width="1.7" stroke="#999"/><line x1="1368.8" y1="115.6" x2="1383.2" y2="115.6" stroke="#444" stroke-width="0.9"/></g>
<g transform="rotate(-33 1419 64.5) translate(1394 47)"><rect x="3" y="1" width="44" height="34" fill="#fff" stroke="#444" stroke-width="0.9"/><line x1="25" y1="1" x2="25" y2="35" stroke="#444" stroke-width="0.9"/><rect x="2" y="0" width="46" height="9.1" rx="1.5" fill="none" stroke="#444" stroke-width="0.9"/><rect x="0" y="5.6" width="6" height="23.8" rx="2" fill="#fff" stroke="#444" stroke-width="0.9"/><rect x="44" y="5.6" width="6" height="23.8" rx="2" fill="#fff" stroke="#444" stroke-width="0.9"/></g>
<path transform="translate(1490.6 70) rotate(214.5) translate(0 4.5)" d="M-14 -21.5 L-14 0 A14 14 0 0 0 14 0 L14 -21.5 Q14 -23 12.5 -23 L9.7 -23 Q8.5 -23 8.5 -21.5 L8.5 0 A8.5 8.5 0 0 1 -8.5 0 L-8.5 -21.5 Q-8.5 -23 -9.7 -23 L-12.5 -23 Q-14 -23 -14 -21.5 Z M-8.5 -21 L8.5 -21" fill="#fff" stroke="#333" stroke-width="0.9"/>
<rect x="1426" y="101.5" width="43.6" height="25.5" fill="none" stroke="#b5b5b5" stroke-width="1"/>
<rect x="1506.5" y="101.5" width="28.1" height="31.8" fill="#fff" stroke="#444" stroke-width="1"/>
<path d="M1513.2 124.5 L1517.6 122.5 L1530.8 123.5 L1531.9 128 L1528.6 131.5 L1515.4 131 L1512.1 128 Z" fill="none" stroke="#444" stroke-width="0.8"/>
<line x1="1515.4" y1="126.5" x2="1529.7" y2="127" stroke="#444" stroke-width="0.8"/>
<line x1="1517.6" y1="129" x2="1526.4" y2="129.2" stroke="#444" stroke-width="0.8"/>
<g transform="translate(1380.4 324.4) rotate(-90)"><path d="M0 2.5 Q11.2 3.9 22.3 2.1 Q33.5 0.3 44.6 1.7 Q55.8 3.1 67 1.3 Q78.1 -0.5 89.3 0.9 Q100.5 2.3 111.6 0.5 Q115.6 -1 114.6 4 Q113.2 13 114.6 22.1 Q116 31.1 114.6 40.2 Q113.2 49.2 114.6 58.3 Q116 67.3 114.6 76.4 Q113.2 85.4 114.6 94.5 Q116 103.5 114.6 112.6 Q115.6 117.6 111.6 116.1 Q100.5 114.3 89.3 115.7 Q78.1 117.1 67 115.3 Q55.8 113.5 44.6 114.9 Q33.5 116.3 22.3 114.5 Q11.2 112.7 0 114.1" fill="#fff" stroke="#444" stroke-width="0.9"/><path d="M7.2 18.7 Q19.1 20.3 30.9 18.7 Q32.4 37.3 30.9 56 Q19.1 54.4 7.2 56 Q5.7 37.3 7.2 18.7Z" fill="#fff" stroke="#444" stroke-width="0.9"/><path d="M7.2 58.3 Q19.1 59.9 30.9 58.3 Q32.4 77.5 30.9 96.8 Q19.1 95.2 7.2 96.8 Q5.7 77.5 7.2 58.3Z" fill="#fff" stroke="#444" stroke-width="0.9"/><path d="M74.8 12.6 L38.7 12.6 Q36.2 12.6 36.2 15.1 L36.2 89.8" fill="none" stroke="#444" stroke-width="0.9"/><path d="M76.8 9.4 L106.9 9.4 L106.9 108.4 L30.3 108.4" fill="none" stroke="#222" stroke-width="1.5"/><path d="M76.8 9.4 L30.3 108.4 L89.4 9.4" fill="#fff" stroke="#222" stroke-width="1"/><line x1="82.2" y1="22.7" x2="106.9" y2="22.7" stroke="#777" stroke-width="1.7"/><line x1="82.2" y1="23.3" x2="106.9" y2="23.3" stroke="#333" stroke-width="0.6"/><line x1="73.6" y1="37.2" x2="106.9" y2="37.2" stroke="#777" stroke-width="1.7"/><line x1="73.6" y1="37.8" x2="106.9" y2="37.8" stroke="#333" stroke-width="0.6"/><line x1="64.6" y1="52.2" x2="106.9" y2="52.2" stroke="#777" stroke-width="1.7"/><line x1="64.6" y1="52.8" x2="106.9" y2="52.8" stroke="#333" stroke-width="0.6"/><line x1="56.3" y1="66.1" x2="106.9" y2="66.1" stroke="#777" stroke-width="1.7"/><line x1="56.3" y1="66.7" x2="106.9" y2="66.7" stroke="#333" stroke-width="0.6"/><line x1="48" y1="80" x2="106.9" y2="80" stroke="#777" stroke-width="1.7"/><line x1="48" y1="80.6" x2="106.9" y2="80.6" stroke="#333" stroke-width="0.6"/><line x1="39" y1="95.1" x2="106.9" y2="95.1" stroke="#777" stroke-width="1.7"/><line x1="39" y1="95.7" x2="106.9" y2="95.7" stroke="#333" stroke-width="0.6"/><path d="M38.4 28.9 q7 -3.5 13 -0.5 q4 7 3.5 11 q-6 5.5 -12.5 5.5 q3 -5 -1 -8 q-3 -3 -3 -8z" fill="#fff" stroke="#333" stroke-width="0.9"/></g>
<rect x="1355.4" y="304" width="20.2" height="20.4" fill="none" stroke="#333" stroke-width="1"/>
<circle cx="1365.5" cy="314.2" r="6.5" fill="none" stroke="#333" stroke-width="0.9"/>
<circle cx="1365.5" cy="314.2" r="2.4" fill="none" stroke="#333" stroke-width="0.9"/>
<rect x="1500" y="304" width="20" height="20.4" fill="none" stroke="#333" stroke-width="1"/>
<circle cx="1510" cy="314.2" r="6.4" fill="none" stroke="#333" stroke-width="0.9"/>
<circle cx="1510" cy="314.2" r="2.4" fill="none" stroke="#333" stroke-width="0.9"/>
<rect x="1529.4" y="204.6" width="39.6" height="37.4" rx="2" fill="#fff" stroke="#222" stroke-width="1.3"/>
<rect x="1532.4" y="207.6" width="33.6" height="31.4" rx="2" fill="none" stroke="#444" stroke-width="0.8"/>
<circle cx="1549" cy="220" r="3.2" fill="none" stroke="#333" stroke-width="0.8"/>
<line x1="1549" y1="206" x2="1549" y2="217" stroke="#555" stroke-width="1.2"/>
<circle cx="1549" cy="236" r="2.3" fill="none" stroke="#333" stroke-width="0.8"/>
<ellipse cx="1563.8" cy="280.6" rx="9" ry="10.5" fill="#fff" stroke="#333" stroke-width="1.2"/>
<ellipse cx="1563.8" cy="280.6" rx="7.2" ry="8.7" fill="none" stroke="#666" stroke-width="0.7"/>
<circle cx="1563.8" cy="280.6" r="1.2" fill="none" stroke="#333" stroke-width="0.7"/>
<circle cx="1552.3" cy="303" r="10.5" fill="none" stroke="#333" stroke-width="1.2"/>
<circle cx="1552.3" cy="303" r="8.9" fill="none" stroke="#666" stroke-width="0.7"/>
<rect x="1545.3" y="312.5" width="14" height="9" rx="3" fill="#fff" stroke="#333" stroke-width="1"/>
<rect x="1662.7" y="134.4" width="35.1" height="66.9" fill="none" stroke="#555" stroke-width="1"/>
<path d="M1669.5 141.8 L1674.5 138.8 L1689.5 140.2 L1690.8 147 L1687 152.2 L1672 151.5 L1668.2 147 Z" fill="none" stroke="#444" stroke-width="0.8"/>
<line x1="1672" y1="144.8" x2="1688.2" y2="145.5" stroke="#444" stroke-width="0.8"/>
<line x1="1674.5" y1="148.5" x2="1684.5" y2="148.8" stroke="#444" stroke-width="0.8"/>
<line x1="1695.5" y1="134.4" x2="1695.5" y2="201.3" stroke="#666" stroke-width="0.8"/>
<line x1="1578.6" y1="250.4" x2="1621" y2="250.4" stroke="#444" stroke-width="0.9"/>
<line x1="1578.6" y1="258.9" x2="1621" y2="258.9" stroke="#444" stroke-width="0.9"/>
<line x1="1578.6" y1="267.5" x2="1621" y2="267.5" stroke="#444" stroke-width="0.9"/>
<line x1="1578.6" y1="276" x2="1621" y2="276" stroke="#444" stroke-width="0.9"/>
<line x1="1578.6" y1="284.9" x2="1621" y2="284.9" stroke="#444" stroke-width="0.9"/>
<line x1="1578.6" y1="292.9" x2="1621" y2="292.9" stroke="#444" stroke-width="0.9"/>
<line x1="1578.6" y1="300.8" x2="1621" y2="300.8" stroke="#444" stroke-width="0.9"/>
<line x1="1578.6" y1="309.7" x2="1621" y2="309.7" stroke="#444" stroke-width="0.9"/>
<line x1="1578.6" y1="318" x2="1621" y2="318" stroke="#444" stroke-width="0.9"/>
<line x1="1578.6" y1="326.5" x2="1621" y2="326.5" stroke="#444" stroke-width="0.9"/>
<line x1="1621" y1="250.4" x2="1621" y2="326.5" stroke="#444" stroke-width="0.9"/>
<line x1="1599.5" y1="322" x2="1599.5" y2="309" stroke="#222" stroke-width="0.9"/>
<polygon points="1599.5,307.5 1597.4,313.2 1601.6,313.2" fill="#222" stroke="none" stroke-width="1"/>
<rect x="1615.6" y="330.6" width="41.9" height="42.4" fill="none" stroke="#444" stroke-width="0.9"/>
<line x1="1615.6" y1="330.6" x2="1657.5" y2="351.8" stroke="#444" stroke-width="0.9"/>
<line x1="1615.6" y1="330.6" x2="1636.5" y2="373" stroke="#444" stroke-width="0.9"/>
<path d="M1637 325.5 L1636 330 L1638.5 331 L1637 335.5" fill="none" stroke="#333" stroke-width="0.9"/>
<line x1="1620.2" y1="351.8" x2="1634" y2="351.8" stroke="#222" stroke-width="0.9"/>
<polygon points="1635.5,351.8 1629.8,349.7 1629.8,353.9" fill="#222" stroke="none" stroke-width="1"/>
<line x1="1576" y1="352" x2="1563" y2="352" stroke="#222" stroke-width="0.9"/>
<polygon points="1561.5,352 1567.2,354.1 1567.2,349.9" fill="#222" stroke="none" stroke-width="1"/>
<line x1="1576.2" y1="329" x2="1576.2" y2="374" stroke="#ccc" stroke-width="1"/>
<line x1="1581" y1="329" x2="1581" y2="374" stroke="#ccc" stroke-width="1"/>
<line x1="1355.5" y1="329" x2="1355.5" y2="373" stroke="#333" stroke-width="1.6"/>
<rect x="1342.5" y="345.8" width="9.8" height="9.4" fill="none" stroke="#666" stroke-width="0.8"/>
<rect x="1361" y="341.5" width="19" height="16" rx="3" fill="none" stroke="#444" stroke-width="0.9" transform="rotate(-15 1370.5 349.5)"/>
<rect x="1364" y="344" width="13" height="11" rx="2" fill="none" stroke="#666" stroke-width="0.7" transform="rotate(-15 1370.5 349.5)"/>
<ellipse cx="1336.7" cy="368" rx="3.4" ry="2.2" fill="none" stroke="#555" stroke-width="0.7"/>
<line x1="1427" y1="354.5" x2="1503" y2="354.5" stroke="#ccc" stroke-width="0.8"/>
<rect x="1736.2" y="132.8" width="38.6" height="21.2" fill="#fff" stroke="#444" stroke-width="1"/>
<path d="M1764 139.2 L1766 135.8 L1772 137.6 L1772.5 145.2 L1771 151.2 L1765 150.3 L1763.5 145.2 Z" fill="none" stroke="#444" stroke-width="0.8"/>
<line x1="1765" y1="142.7" x2="1771.5" y2="143.5" stroke="#444" stroke-width="0.8"/>
<line x1="1766" y1="146.9" x2="1770" y2="147.2" stroke="#444" stroke-width="0.8"/>
<rect x="1830" y="134.5" width="25.4" height="42.5" fill="none" stroke="#b5b5b5" stroke-width="1"/>
<path d="M1855 155.8 L1853.3 158.9 L1853.7 162.3 L1851 164.5 L1850 167.8 L1846.7 168.8 L1844.5 171.5 L1841.1 171.1 L1838 172.8 L1834.9 171.1 L1831.5 171.5 L1829.3 168.8 L1826 167.8 L1825 164.5 L1822.3 162.3 L1822.7 158.9 L1821 155.8 L1822.7 152.7 L1822.3 149.3 L1825 147.1 L1826 143.8 L1829.3 142.8 L1831.5 140.1 L1834.9 140.5 L1838 138.8 L1841.1 140.5 L1844.5 140.1 L1846.7 142.8 L1850 143.8 L1851 147.1 L1853.7 149.3 L1853.3 152.7 Z" fill="#fff" stroke="#777" stroke-width="0.8"/>
<g transform="rotate(55 1838 155.8)" fill="none" stroke="#666" stroke-width="0.8"><rect x="1825.4" y="148.2" width="25.2" height="15.3" rx="4.8"/><line x1="1828.7" y1="161.2" x2="1847.3" y2="161.2" stroke-width="1.7" stroke="#999"/><line x1="1828.7" y1="150.4" x2="1847.3" y2="150.4" stroke-width="1.7" stroke="#999"/><line x1="1830.3" y1="155.8" x2="1845.7" y2="155.8" stroke="#444" stroke-width="0.9"/></g>
<rect x="1714.4" y="176.5" width="80.8" height="62.5" fill="#fff" stroke="#333" stroke-width="1.4"/>
<path d="M1716.9 177.5 Q1720.4 182.5 1716.9 187.6 Q1720.4 192.6 1716.9 197.7 Q1720.4 202.7 1716.9 207.8 Q1720.4 212.8 1716.9 217.8 Q1720.4 222.9 1716.9 227.9 Q1720.4 233 1716.9 238" fill="none" stroke="#333" stroke-width="0.8"/>
<line x1="1721.4" y1="177.5" x2="1721.4" y2="238" stroke="#666" stroke-width="0.6"/>
<path d="M1792.7 177.5 Q1789.2 182.5 1792.7 187.6 Q1789.2 192.6 1792.7 197.7 Q1789.2 202.7 1792.7 207.8 Q1789.2 212.8 1792.7 217.8 Q1789.2 222.9 1792.7 227.9 Q1789.2 233 1792.7 238" fill="none" stroke="#333" stroke-width="0.8"/>
<line x1="1788.2" y1="177.5" x2="1788.2" y2="238" stroke="#666" stroke-width="0.6"/>
<rect x="1815" y="191.2" width="43.4" height="84.1" fill="#fff" stroke="#333" stroke-width="1"/>
<rect x="1818" y="194.2" width="37.4" height="13.8" fill="none" stroke="#444" stroke-width="0.9"/>
<path d="M1815 221.5 Q1834.5 212.2 1858.4 211.4 L1858.4 208 Q1832.4 208.9 1815 217.3 Z" fill="#fff" stroke="#333" stroke-width="0.9"/>
<rect x="1662.7" y="237.2" width="19.5" height="19.5" fill="none" stroke="#333" stroke-width="1"/>
<circle cx="1672.5" cy="246.9" r="6.2" fill="none" stroke="#333" stroke-width="0.9"/>
<circle cx="1672.5" cy="246.9" r="2.3" fill="none" stroke="#333" stroke-width="0.9"/>
<rect x="1662.7" y="338.4" width="19.8" height="19.5" fill="none" stroke="#333" stroke-width="1"/>
<circle cx="1672.6" cy="348.1" r="6.2" fill="none" stroke="#333" stroke-width="0.9"/>
<circle cx="1672.6" cy="348.1" r="2.3" fill="none" stroke="#333" stroke-width="0.9"/>
<rect x="1836.2" y="278.9" width="19.2" height="19.8" fill="none" stroke="#333" stroke-width="1"/>
<circle cx="1845.8" cy="288.8" r="6.1" fill="none" stroke="#333" stroke-width="0.9"/>
<circle cx="1845.8" cy="288.8" r="2.3" fill="none" stroke="#333" stroke-width="0.9"/>
<g transform="translate(1662.7 256.6)"><path d="M0 2.5 Q8.5 3.9 16.9 2.1 Q25.4 0.3 33.9 1.7 Q42.4 3.1 50.8 1.3 Q59.3 -0.5 67.8 0.9 Q76.3 2.3 84.7 0.5 Q88.7 -1 87.7 4 Q86.3 10.1 87.7 16.2 Q89.1 22.3 87.7 28.5 Q86.3 34.6 87.7 40.7 Q89.1 46.8 87.7 52.9 Q86.3 59 87.7 65.2 Q89.1 71.3 87.7 77.4 Q88.7 82.4 84.7 80.9 Q76.3 79.1 67.8 80.5 Q59.3 81.9 50.8 80.1 Q42.4 78.3 33.9 79.7 Q25.4 81.1 16.9 79.3 Q8.5 77.5 0 78.9" fill="#fff" stroke="#444" stroke-width="0.9"/><path d="M5.5 13 Q14.6 14.6 23.7 13 Q25.2 26 23.7 39.1 Q14.6 37.5 5.5 39.1 Q4 26 5.5 13Z" fill="#fff" stroke="#444" stroke-width="0.9"/><path d="M5.5 40.7 Q14.6 42.3 23.7 40.7 Q25.2 54.1 23.7 67.6 Q14.6 66 5.5 67.6 Q4 54.1 5.5 40.7Z" fill="#fff" stroke="#444" stroke-width="0.9"/><path d="M56.8 8.8 L30.2 8.8 Q27.7 8.8 27.7 11.3 L27.7 62.7" fill="none" stroke="#444" stroke-width="0.9"/><path d="M58.8 6.6 L81.8 6.6 L81.8 75.7 L23.2 75.7" fill="none" stroke="#222" stroke-width="1.5"/><path d="M58.8 6.6 L23.2 75.7 L68.4 6.6" fill="#fff" stroke="#222" stroke-width="1"/><line x1="63.1" y1="15.9" x2="81.8" y2="15.9" stroke="#777" stroke-width="1.7"/><line x1="63.1" y1="16.5" x2="81.8" y2="16.5" stroke="#333" stroke-width="0.6"/><line x1="56.5" y1="26" x2="81.8" y2="26" stroke="#777" stroke-width="1.7"/><line x1="56.5" y1="26.6" x2="81.8" y2="26.6" stroke="#333" stroke-width="0.6"/><line x1="49.6" y1="36.5" x2="81.8" y2="36.5" stroke="#777" stroke-width="1.7"/><line x1="49.6" y1="37.1" x2="81.8" y2="37.1" stroke="#333" stroke-width="0.6"/><line x1="43.3" y1="46.2" x2="81.8" y2="46.2" stroke="#777" stroke-width="1.7"/><line x1="43.3" y1="46.8" x2="81.8" y2="46.8" stroke="#333" stroke-width="0.6"/><line x1="37" y1="55.8" x2="81.8" y2="55.8" stroke="#777" stroke-width="1.7"/><line x1="37" y1="56.4" x2="81.8" y2="56.4" stroke="#333" stroke-width="0.6"/><line x1="30" y1="66.4" x2="81.8" y2="66.4" stroke="#777" stroke-width="1.7"/><line x1="30" y1="67" x2="81.8" y2="67" stroke="#333" stroke-width="0.6"/><path d="M29.4 20.6 q7 -3.5 13 -0.5 q4 7 3.5 11 q-6 5.5 -12.5 5.5 q3 -5 -1 -8 q-3 -3 -3 -8z" fill="#fff" stroke="#333" stroke-width="0.9"/></g>
<path transform="translate(1830 347.5) rotate(-40) translate(0 3.1)" d="M-10.8 -15.5 L-10.8 0 A10.8 10.8 0 0 0 10.8 0 L10.8 -15.5 Q10.8 -17 9.3 -17 L7.7 -17 Q6.5 -17 6.5 -15.5 L6.5 0 A6.5 6.5 0 0 1 -6.5 0 L-6.5 -15.5 Q-6.5 -17 -7.7 -17 L-9.3 -17 Q-10.8 -17 -10.8 -15.5 Z M-6.5 -15 L6.5 -15" fill="#fff" stroke="#333" stroke-width="0.9"/>
<rect x="1328.3" y="393.3" width="83.4" height="44.4" fill="#fff" stroke="#333" stroke-width="1"/>
<rect x="1331.3" y="396.3" width="13.7" height="38.4" fill="none" stroke="#444" stroke-width="0.9"/>
<path d="M1345 393.3 Q1345.8 419.9 1354.2 439.7 L1358.3 437.7 Q1349.2 417.7 1348.3 393.3" fill="#fff" stroke="#333" stroke-width="0.9"/>
<rect x="1328.3" y="465.2" width="83.4" height="44.8" fill="#fff" stroke="#333" stroke-width="1"/>
<rect x="1331.3" y="468.2" width="13.7" height="38.8" fill="none" stroke="#444" stroke-width="0.9"/>
<path d="M1345 465.2 Q1345.8 492.1 1354.2 512 L1358.3 510 Q1349.2 489.8 1348.3 465.2" fill="#fff" stroke="#333" stroke-width="0.9"/>
<rect x="1328.3" y="441.5" width="19.2" height="19.1" fill="none" stroke="#333" stroke-width="1"/>
<circle cx="1337.9" cy="451.1" r="6.1" fill="none" stroke="#333" stroke-width="0.9"/>
<circle cx="1337.9" cy="451.1" r="2.3" fill="none" stroke="#333" stroke-width="0.9"/>
<rect x="1328.3" y="512.7" width="19.2" height="19.8" fill="none" stroke="#333" stroke-width="1"/>
<circle cx="1337.9" cy="522.6" r="6.1" fill="none" stroke="#333" stroke-width="0.9"/>
<circle cx="1337.9" cy="522.6" r="2.3" fill="none" stroke="#333" stroke-width="0.9"/>
<rect x="1415.2" y="513.8" width="39.2" height="21.9" fill="none" stroke="#888" stroke-width="0.9"/>
<rect x="1419" y="517" width="8" height="16" rx="2" fill="none" stroke="#555" stroke-width="0.8"/>
<path transform="translate(1482 520.5) rotate(0) translate(0 -4.8)" d="M-18.8 -7.8 L-18.8 0 A18.8 18.8 0 0 0 18.8 0 L18.8 -7.8 Q18.8 -9.2 17.2 -9.2 L14.4 -9.2 Q13.2 -9.2 13.2 -7.8 L13.2 0 A13.2 13.2 0 0 1 -13.2 0 L-13.2 -7.8 Q-13.2 -9.2 -14.4 -9.2 L-17.2 -9.2 Q-18.8 -9.2 -18.8 -7.8 Z M-13.2 -7.2 L13.2 -7.2" fill="#fff" stroke="#333" stroke-width="0.9"/>
<rect x="1515.4" y="475.8" width="29.6" height="59.4" fill="#fff" stroke="#555" stroke-width="1"/>
<line x1="1517.5" y1="475.8" x2="1517.5" y2="535.2" stroke="#777" stroke-width="0.8"/>
<path d="M1541.9 491.9 L1540.7 494.1 L1540.9 496.7 L1539 498.3 L1538.2 500.7 L1535.8 501.5 L1534.2 503.4 L1531.6 503.2 L1529.4 504.4 L1527.2 503.2 L1524.6 503.4 L1523 501.5 L1520.6 500.7 L1519.8 498.3 L1517.9 496.7 L1518.1 494.1 L1516.9 491.9 L1518.1 489.7 L1517.9 487.1 L1519.8 485.5 L1520.6 483.1 L1523 482.3 L1524.6 480.4 L1527.2 480.6 L1529.4 479.4 L1531.6 480.6 L1534.2 480.4 L1535.8 482.3 L1538.2 483.1 L1539 485.5 L1540.9 487.1 L1540.7 489.7 Z" fill="#fff" stroke="#777" stroke-width="0.8"/>
<g transform="rotate(-70 1529.4 491.9)" fill="none" stroke="#666" stroke-width="0.8"><rect x="1520.2" y="486.3" width="18.5" height="11.2" rx="3.5"/><line x1="1522.5" y1="495.9" x2="1536.3" y2="495.9" stroke-width="1.7" stroke="#999"/><line x1="1522.5" y1="487.9" x2="1536.3" y2="487.9" stroke-width="1.7" stroke="#999"/><line x1="1523.8" y1="491.9" x2="1535" y2="491.9" stroke="#444" stroke-width="0.9"/></g>
<path d="M1521.4 521.8 L1526.2 518.8 L1540.6 520.2 L1541.8 527 L1538.2 532.2 L1523.8 531.5 L1520.2 527 Z" fill="none" stroke="#444" stroke-width="0.8"/>
<line x1="1523.8" y1="524.8" x2="1539.4" y2="525.5" stroke="#444" stroke-width="0.8"/>
<line x1="1526.2" y1="528.5" x2="1535.8" y2="528.8" stroke="#444" stroke-width="0.8"/>
<path transform="translate(1562 390.5) rotate(149.5) translate(0 1)" d="M-9.9 -10.5 L-9.9 0 A9.9 9.9 0 0 0 9.9 0 L9.9 -10.5 Q9.9 -12 8.4 -12 L7.3 -12 Q6.1 -12 6.1 -10.5 L6.1 0 A6.1 6.1 0 0 1 -6.1 0 L-6.1 -10.5 Q-6.1 -12 -7.3 -12 L-8.4 -12 Q-9.9 -12 -9.9 -10.5 Z M-6.1 -10 L6.1 -10" fill="#fff" stroke="#333" stroke-width="0.9"/>
<rect x="1569" y="423.8" width="37.5" height="53.9" fill="#fff" stroke="#333" stroke-width="1.4"/>
<path d="M1570 426.2 Q1573.5 429.8 1577.1 426.2 Q1580.7 429.8 1584.2 426.2 Q1587.8 429.8 1591.3 426.2 Q1594.8 429.8 1598.4 426.2 Q1602 429.8 1605.5 426.2" fill="none" stroke="#333" stroke-width="0.8"/>
<path d="M1570 475.2 Q1573.5 471.7 1577.1 475.2 Q1580.7 471.7 1584.2 475.2 Q1587.8 471.7 1591.3 475.2 Q1594.8 471.7 1598.4 475.2 Q1602 471.7 1605.5 475.2" fill="none" stroke="#333" stroke-width="0.8"/>
<rect x="1555.4" y="510" width="75.4" height="25.6" rx="2" fill="#fff" stroke="#333" stroke-width="1"/>
<path d="M1558 513 q3 11 0 20 M1628 513 q-3 11 0 20 M1559 514 q9 5 18 0 q8 4 16 0 q8 4 17 0 q9 5 17 0 M1559 532 q9 -5 18 0 q8 -4 16 0 q8 -4 17 0 q9 -5 17 0" fill="none" stroke="#333" stroke-width="0.8"/>
<rect x="1624.2" y="389.4" width="25.6" height="72.6" fill="none" stroke="#b5b5b5" stroke-width="1"/>
<line x1="1644" y1="496.2" x2="1658.5" y2="496.2" stroke="#222" stroke-width="0.9"/>
<polygon points="1660,496.2 1654.3,494.1 1654.3,498.3" fill="#222" stroke="none" stroke-width="1"/>
<rect x="1654.4" y="377.9" width="50.3" height="42.5" rx="2" fill="#fff" stroke="#222" stroke-width="1.3"/>
<rect x="1657.4" y="380.9" width="44.3" height="36.5" rx="2" fill="none" stroke="#444" stroke-width="0.8"/>
<circle cx="1679.3" cy="391.4" r="4.3" fill="none" stroke="#333" stroke-width="0.9"/>
<line x1="1679.3" y1="378" x2="1679.3" y2="387" stroke="#555" stroke-width="1.3"/>
<circle cx="1663" cy="410.6" r="3.3" fill="none" stroke="#333" stroke-width="0.9"/>
<circle cx="1663" cy="410.6" r="1.8" fill="none" stroke="#333" stroke-width="0.7"/>
<rect x="1718.4" y="377.4" width="22" height="7.6" rx="2" fill="#fff" stroke="#777" stroke-width="0.8"/>
<ellipse cx="1729.4" cy="393.7" rx="14.2" ry="10.2" fill="#fff" stroke="#333" stroke-width="1.2"/>
<ellipse cx="1729.4" cy="393.7" rx="12.4" ry="8.4" fill="none" stroke="#666" stroke-width="0.7"/>
<circle cx="1729.4" cy="393.7" r="1.2" fill="none" stroke="#333" stroke-width="0.7"/>
<rect x="1759.7" y="377.4" width="22" height="7.6" rx="2" fill="#fff" stroke="#777" stroke-width="0.8"/>
<ellipse cx="1770.7" cy="393.7" rx="14.2" ry="10.2" fill="#fff" stroke="#333" stroke-width="1.2"/>
<ellipse cx="1770.7" cy="393.7" rx="12.4" ry="8.4" fill="none" stroke="#666" stroke-width="0.7"/>
<circle cx="1770.7" cy="393.7" r="1.2" fill="none" stroke="#333" stroke-width="0.7"/>
<rect x="1654.2" y="424.2" width="8.8" height="29.5" rx="5" fill="#fff" stroke="#333" stroke-width="1"/>
<circle cx="1675.5" cy="439" r="13" fill="#fff" stroke="#333" stroke-width="1.3"/>
<circle cx="1675.5" cy="439" r="11.2" fill="none" stroke="#666" stroke-width="0.7"/>
<rect x="1752.4" y="430.2" width="78.8" height="37.6" rx="18.7" fill="#fff" stroke="#222" stroke-width="1.2"/>
<rect x="1754.6" y="432.5" width="74.4" height="33.1" rx="16.5" fill="none" stroke="#555" stroke-width="0.8"/>
<circle cx="1764" cy="449" r="1.6" fill="none" stroke="#333" stroke-width="0.7"/>
<line x1="1753" y1="449" x2="1759" y2="449" stroke="#666" stroke-width="1.4"/>
</g>
<g id="fft">
<text x="1088.3" y="196.2" font-family='"Liberation Sans",Arial,sans-serif' font-size="11" font-weight="bold" fill="#000" textLength="57.5" lengthAdjust="spacingAndGlyphs">BEDROOM</text>
<text x="1227.5" y="239.2" font-family='"Liberation Sans",Arial,sans-serif' font-size="11" font-weight="bold" fill="#000" textLength="57.7" lengthAdjust="spacingAndGlyphs">BEDROOM</text>
<text x="1039.4" y="279.6" font-family='"Liberation Sans",Arial,sans-serif' font-size="11" font-weight="bold" fill="#000" textLength="47.9" lengthAdjust="spacingAndGlyphs">ENSUITE</text>
<text x="1106" y="328.5" font-family='"Liberation Sans",Arial,sans-serif' font-size="11" font-weight="bold" fill="#000" textLength="40.2" lengthAdjust="spacingAndGlyphs">STAIRS</text>
<text x="1052.5" y="366.2" font-family='"Liberation Sans",Arial,sans-serif' font-size="11" font-weight="bold" fill="#000" textLength="50" lengthAdjust="spacingAndGlyphs">SHOWER</text>
<text x="1207.7" y="365.6" font-family='"Liberation Sans",Arial,sans-serif' font-size="11" font-weight="bold" fill="#000" textLength="53.8" lengthAdjust="spacingAndGlyphs">HALLWAY</text>
<text x="1224" y="424" font-family='"Liberation Sans",Arial,sans-serif' font-size="11" font-weight="bold" fill="#000" textLength="57.7" lengthAdjust="spacingAndGlyphs">BEDROOM</text>
<text x="1011.9" y="505.2" font-family='"Liberation Sans",Arial,sans-serif' font-size="7.2" font-weight="bold" fill="#000" textLength="44.8" lengthAdjust="spacingAndGlyphs">BATHROOM</text>
<text x="1397.7" y="177" font-family='"Liberation Sans",Arial,sans-serif' font-size="11" font-weight="normal" fill="#000" textLength="56.3" lengthAdjust="spacingAndGlyphs" stroke="#000" stroke-width="0.6">BEDROOM</text>
<text x="1592.3" y="195.9" font-family='"Liberation Sans",Arial,sans-serif' font-size="11" font-weight="normal" fill="#000" textLength="51.7" lengthAdjust="spacingAndGlyphs" stroke="#000" stroke-width="0.6">HALLWAY</text>
<text x="1548" y="254.7" font-family='"Liberation Sans",Arial,sans-serif' font-size="5.4" font-weight="normal" fill="#333" textLength="24.7" lengthAdjust="spacingAndGlyphs">ENSUITE</text>
<text x="1764.5" y="308" font-family='"Liberation Sans",Arial,sans-serif' font-size="11" font-weight="normal" fill="#000" textLength="56.2" lengthAdjust="spacingAndGlyphs" stroke="#000" stroke-width="0.6">BEDROOM</text>
<text x="1435.6" y="455.8" font-family='"Liberation Sans",Arial,sans-serif' font-size="11" font-weight="normal" fill="#000" textLength="56.7" lengthAdjust="spacingAndGlyphs" stroke="#000" stroke-width="0.6">BEDROOM</text>
<text x="1572.7" y="498.5" font-family='"Liberation Sans",Arial,sans-serif' font-size="11" font-weight="normal" fill="#000" textLength="48.3" lengthAdjust="spacingAndGlyphs" stroke="#000" stroke-width="0.6">LANDING</text>
<text x="1790.7" y="514.6" font-family='"Liberation Sans",Arial,sans-serif' font-size="10.2" font-weight="normal" fill="#000" textLength="63.3" lengthAdjust="spacingAndGlyphs" stroke="#000" stroke-width="0.6">BATHROOM</text>
<text x="1567.5" y="590.2" font-family='"Liberation Sans",Arial,sans-serif' font-size="10.6" font-weight="normal" fill="#333" textLength="58.1" lengthAdjust="spacingAndGlyphs">1ST FLOOR</text>
<text x="1009.8" y="573.8" font-family='"Liberation Serif","Times New Roman",serif' font-size="16.6" font-weight="bold" fill="#595959" textLength="95.2" lengthAdjust="spacingAndGlyphs">Corner Wing</text>
</g>
<g id="sf" fill="#000">
<rect x="582.4" y="824" width="5.6" height="126"/>
<rect x="582.9" y="870" width="4.6" height="29" fill="#fff" stroke="#444" stroke-width="0.8"/>
<rect x="582.4" y="824" width="125.6" height="5"/>
<rect x="702.4" y="757" width="5.6" height="121.6"/>
<rect x="702.4" y="757" width="155.6" height="5"/>
<rect x="760" y="757.5" width="36" height="4" fill="#fff" stroke="#444" stroke-width="0.8"/>
<rect x="582.4" y="944.4" width="277.6" height="5.6"/>
<rect x="708" y="875.6" width="22" height="3"/>
<rect x="757" y="875.6" width="97" height="3"/>
<rect x="776" y="847" width="78" height="3"/>
<rect x="776" y="847" width="7.6" height="4"/>
<rect x="704" y="910" width="42" height="3.6"/>
<rect x="742.4" y="910" width="3.6" height="7"/>
<rect x="779.6" y="910" width="74.4" height="3.6"/>
<rect x="703" y="912" width="3" height="32.4"/>
<rect x="779" y="941" width="3.4" height="3.4"/>
<line x1="743.3" y1="944.4" x2="764.2" y2="924.6" stroke="#000" stroke-width="1.8"/>
<line x1="761.2" y1="921.7" x2="780.5" y2="941.5" stroke="#000" stroke-width="1.8"/>
<path d="M746 917.5 Q756 917 761.2 921.7 M779 913.3 Q769 916 764.2 924.6" fill="none" stroke="#bbb" stroke-width="0.9"/>
<rect x="852.8" y="747.8" width="5.5" height="49.7"/>
<rect x="852.8" y="880.3" width="5.5" height="69.7"/>
<rect x="852.8" y="853" width="2.7" height="27.3"/>
<polygon points="858.3,797.5 871.6,797.5 871.6,811.6 866,814.7 866,837.3 871.6,840.5 871.6,853 852.8,853 852.8,839 841.9,839 841.9,837 847.3,835 847.3,818.6 841.9,816.2 841.9,805.3 852.8,805.3 852.8,797.5" fill="#000" stroke="none" stroke-width="1"/>
<rect x="834" y="805.3" width="7.9" height="34.4" fill="none" stroke="#b5b5b5" stroke-width="1"/>
<rect x="871.6" y="825" width="8.4" height="55" fill="none" stroke="#b5b5b5" stroke-width="1"/>
<rect x="856.2" y="747.8" width="36" height="5.5"/>
<rect x="1067.7" y="747.8" width="333.5" height="5.5"/>
<rect x="1228.2" y="748.3" width="64.3" height="4.5" fill="#fff" stroke="#444" stroke-width="0.8"/>
<rect x="1109" y="753" width="4.6" height="31"/>
<rect x="1109" y="817.8" width="4.6" height="127.4"/>
<rect x="1195.4" y="753" width="4.1" height="16.7"/>
<rect x="1195.4" y="802.7" width="4.1" height="142.5"/>
<rect x="1395" y="747.8" width="6.2" height="203.2"/>
<rect x="1395.5" y="891.3" width="5.2" height="34.1" fill="#fff" stroke="#444" stroke-width="0.8"/>
<rect x="856" y="945.2" width="94" height="5.4"/>
<rect x="983" y="945.2" width="418.2" height="5.4"/>
<rect x="1040.8" y="945.7" width="42.5" height="4.4" fill="#fff" stroke="#444" stroke-width="0.8"/>
<rect x="901.3" y="945.2" width="6" height="150.5"/>
<rect x="901.3" y="1089.7" width="81.7" height="6"/>
<rect x="983" y="1090.2" width="41.7" height="5" fill="#fff" stroke="#444" stroke-width="0.8"/>
<rect x="1021.3" y="945.2" width="5.4" height="147.5"/>
<rect x="984.2" y="1011.4" width="37.1" height="3.5"/>
<line x1="983.6" y1="1014.9" x2="983.6" y2="1089.7" stroke="#bbb" stroke-width="1"/>
<path d="M888.1 753.3 L888.1 709.7 A99 99 0 0 1 1073.9 709.7 L1073.9 753.3" fill="none" stroke="#000" stroke-width="6.2"/>
<line x1="892" y1="750.6" x2="1067.7" y2="750.6" stroke="#aaa" stroke-width="1"/>
<line x1="730" y1="876.6" x2="748" y2="859.6" stroke="#000" stroke-width="1.8"/>
<path d="M748 859.6 A24.8 24.8 0 0 1 754.8 877" fill="none" stroke="#b8b8b8" stroke-width="0.9"/>
<line x1="703.6" y1="912" x2="685" y2="894" stroke="#000" stroke-width="1.8"/>
<path d="M685 894 A25.9 25.9 0 0 1 703.6 886.1" fill="none" stroke="#b8b8b8" stroke-width="0.9"/>
<line x1="1111" y1="817.8" x2="1088.8" y2="795.2" stroke="#000" stroke-width="1.8"/>
<path d="M1088.8 795.2 A31.7 31.7 0 0 1 1111 786.1" fill="none" stroke="#b8b8b8" stroke-width="0.9"/>
<line x1="1197" y1="802.7" x2="1220" y2="780.1" stroke="#000" stroke-width="1.8"/>
<path d="M1220 780.1 A32.2 32.2 0 0 0 1197 770.5" fill="none" stroke="#b8b8b8" stroke-width="0.9"/>
<line x1="950" y1="947.8" x2="973.5" y2="970.3" stroke="#000" stroke-width="1.8"/>
<path d="M973.5 970.3 A32.5 32.5 0 0 0 982.5 947.8" fill="none" stroke="#b8b8b8" stroke-width="0.9"/>
</g>
<g id="sff">
<rect x="588" y="839.4" width="73.6" height="35" fill="#fff" stroke="#333" stroke-width="1"/>
<rect x="591" y="842.4" width="11.7" height="29" fill="none" stroke="#444" stroke-width="0.9"/>
<path d="M602.7 839.4 Q603.5 860.4 610.8 876.4 L614.5 874.4 Q606.4 858.6 605.7 839.4" fill="#fff" stroke="#333" stroke-width="0.9"/>
<rect x="588" y="898" width="71.5" height="30" fill="#fff" stroke="#333" stroke-width="1"/>
<rect x="591" y="901" width="11.3" height="24" fill="none" stroke="#444" stroke-width="0.9"/>
<path d="M602.3 898 Q603 916 610.2 930 L613.7 928 Q605.9 914.5 605.2 898" fill="#fff" stroke="#333" stroke-width="0.9"/>
<rect x="588" y="881" width="17" height="17" fill="none" stroke="#333" stroke-width="1"/>
<circle cx="596.5" cy="889.5" r="5.4" fill="none" stroke="#333" stroke-width="0.9"/>
<circle cx="596.5" cy="889.5" r="2" fill="none" stroke="#333" stroke-width="0.9"/>
<rect x="588" y="929" width="16" height="15.4" fill="none" stroke="#333" stroke-width="1"/>
<circle cx="596" cy="936.7" r="4.9" fill="none" stroke="#333" stroke-width="0.9"/>
<circle cx="596" cy="936.7" r="1.8" fill="none" stroke="#333" stroke-width="0.9"/>
<rect x="677" y="835" width="25" height="47" fill="none" stroke="#555" stroke-width="1"/>
<path d="M683 869.5 L687 866.7 L699 868.1 L700 874.4 L697 879.3 L685 878.6 L682 874.4 Z" fill="none" stroke="#444" stroke-width="0.8"/>
<line x1="685" y1="872.3" x2="698" y2="873" stroke="#444" stroke-width="0.8"/>
<line x1="687" y1="875.8" x2="695" y2="876.1" stroke="#444" stroke-width="0.8"/>
<rect x="682" y="910" width="20" height="32" fill="none" stroke="#555" stroke-width="1"/>
<path d="M685.7 931 L689.1 928.6 L699.3 929.8 L700.1 935.2 L697.6 939.4 L687.4 938.8 L684.9 935.2 Z" fill="none" stroke="#444" stroke-width="0.8"/>
<line x1="687.4" y1="933.4" x2="698.5" y2="934" stroke="#444" stroke-width="0.8"/>
<line x1="689.1" y1="936.4" x2="695.9" y2="936.6" stroke="#444" stroke-width="0.8"/>
<rect x="709" y="762" width="16" height="15" fill="none" stroke="#333" stroke-width="1"/>
<circle cx="717" cy="769.5" r="4.8" fill="none" stroke="#333" stroke-width="0.9"/>
<circle cx="717" cy="769.5" r="1.8" fill="none" stroke="#333" stroke-width="0.9"/>
<rect x="709" y="828" width="16" height="14" fill="none" stroke="#333" stroke-width="1"/>
<circle cx="717" cy="835" r="4.5" fill="none" stroke="#333" stroke-width="0.9"/>
<circle cx="717" cy="835" r="1.7" fill="none" stroke="#333" stroke-width="0.9"/>
<rect x="711" y="773" width="75" height="54.4" fill="#fff" stroke="#333" stroke-width="1"/>
<rect x="714" y="776" width="12" height="48.4" fill="none" stroke="#444" stroke-width="0.9"/>
<path d="M726 773 Q726.8 805.6 734.2 829.4 L738 827.4 Q729.8 802.9 729 773" fill="#fff" stroke="#333" stroke-width="0.9"/>
<line x1="713.5" y1="800" x2="726" y2="800" stroke="#444" stroke-width="1"/>
<rect x="708" y="849" width="17" height="25.4" fill="none" stroke="#555" stroke-width="1"/>
<path d="M710.9 852.8 L713.7 851.4 L722.1 852 L722.8 855.2 L720.7 857.6 L712.3 857.3 L710.2 855.2 Z" fill="none" stroke="#444" stroke-width="0.8"/>
<line x1="712.3" y1="854.1" x2="721.4" y2="854.5" stroke="#444" stroke-width="0.8"/>
<line x1="713.7" y1="855.9" x2="719.3" y2="856" stroke="#444" stroke-width="0.8"/>
<path transform="translate(810 776) rotate(215) translate(0 -0.2)" d="M-9.5 -7.5 L-9.5 0 A9.5 9.5 0 0 0 9.5 0 L9.5 -7.5 Q9.5 -9 8 -9 L7.1 -9 Q5.9 -9 5.9 -7.5 L5.9 0 A5.9 5.9 0 0 1 -5.9 0 L-5.9 -7.5 Q-5.9 -9 -7.1 -9 L-8 -9 Q-9.5 -9 -9.5 -7.5 Z M-5.9 -7 L5.9 -7" fill="#fff" stroke="#333" stroke-width="0.9"/>
<rect x="829.4" y="764" width="23.6" height="35.6" fill="none" stroke="#b5b5b5" stroke-width="1"/>
<path d="M853 777 L851.8 779.2 L852.1 781.6 L850.2 783.1 L849.5 785.5 L847.1 786.2 L845.6 788.1 L843.2 787.8 L841 789 L838.8 787.8 L836.4 788.1 L834.9 786.2 L832.5 785.5 L831.8 783.1 L829.9 781.6 L830.2 779.2 L829 777 L830.2 774.8 L829.9 772.4 L831.8 770.9 L832.5 768.5 L834.9 767.8 L836.4 765.9 L838.8 766.2 L841 765 L843.2 766.2 L845.6 765.9 L847.1 767.8 L849.5 768.5 L850.2 770.9 L852.1 772.4 L851.8 774.8 Z" fill="#fff" stroke="#777" stroke-width="0.8"/>
<g transform="rotate(40 841 777)" fill="none" stroke="#666" stroke-width="0.8"><rect x="832.1" y="771.6" width="17.8" height="10.8" rx="3.4"/><line x1="834.4" y1="780.8" x2="847.6" y2="780.8" stroke-width="1.7" stroke="#999"/><line x1="834.4" y1="773.2" x2="847.6" y2="773.2" stroke-width="1.7" stroke="#999"/><line x1="835.6" y1="777" x2="846.4" y2="777" stroke="#444" stroke-width="0.9"/></g>
<ellipse cx="779" cy="867" rx="8" ry="8.5" fill="#fff" stroke="#333" stroke-width="1.2"/>
<ellipse cx="779" cy="867" rx="6.2" ry="6.7" fill="none" stroke="#666" stroke-width="0.7"/>
<circle cx="779" cy="867" r="1.2" fill="none" stroke="#333" stroke-width="0.7"/>
<circle cx="802" cy="864" r="7.5" fill="none" stroke="#333" stroke-width="1.2"/>
<circle cx="802" cy="864" r="5.9" fill="none" stroke="#666" stroke-width="0.7"/>
<rect x="797" y="870.5" width="10" height="6" rx="3" fill="#fff" stroke="#333" stroke-width="1"/>
<rect x="828" y="850" width="25" height="24.4" rx="2" fill="#fff" stroke="#222" stroke-width="1.3"/>
<rect x="831" y="853" width="19" height="18.4" rx="2" fill="none" stroke="#444" stroke-width="0.8"/>
<circle cx="833" cy="862" r="1.5" fill="none" stroke="#333" stroke-width="0.6"/>
<ellipse cx="843.5" cy="862" rx="2" ry="1.4" fill="none" stroke="#333" stroke-width="0.6"/>
<path d="M780.4 924.6 L780.4 890 L832.5 890 L822.5 906.7" fill="none" stroke="#444" stroke-width="0.9"/>
<line x1="787.9" y1="890" x2="787.9" y2="910" stroke="#555" stroke-width="0.9"/>
<line x1="796.7" y1="890" x2="796.7" y2="910" stroke="#555" stroke-width="0.9"/>
<line x1="804.6" y1="890" x2="804.6" y2="910" stroke="#555" stroke-width="0.9"/>
<line x1="812.5" y1="890" x2="812.5" y2="910" stroke="#555" stroke-width="0.9"/>
<line x1="787.9" y1="913.7" x2="787.9" y2="923" stroke="#777" stroke-width="0.8"/>
<line x1="796.7" y1="913.7" x2="796.7" y2="923" stroke="#777" stroke-width="0.8"/>
<line x1="804.6" y1="913.7" x2="804.6" y2="923" stroke="#777" stroke-width="0.8"/>
<line x1="812.5" y1="913.7" x2="812.5" y2="923" stroke="#777" stroke-width="0.8"/>
<path d="M819 904.5 L824.5 908.5 L821.5 906 L825 910" fill="none" stroke="#444" stroke-width="0.8"/>
<line x1="780.4" y1="924.6" x2="787" y2="924.6" stroke="#555" stroke-width="0.9"/>
<line x1="818.3" y1="913.3" x2="812.5" y2="923.3" stroke="#555" stroke-width="0.9"/>
<line x1="784.2" y1="895.8" x2="796.8" y2="895.8" stroke="#222" stroke-width="0.9"/>
<polygon points="798.3,895.8 792.6,893.7 792.6,897.9" fill="#222" stroke="none" stroke-width="1"/>
<circle cx="726.6" cy="925.4" r="12.9" fill="#fff" stroke="#333" stroke-width="1.2"/>
<text x="726.6" y="932" font-family='"Liberation Sans",Arial,sans-serif' font-size="18.3" text-anchor="middle" fill="#111">B</text>
<circle cx="799" cy="925.4" r="12.9" fill="#fff" stroke="#333" stroke-width="1.2"/>
<text x="799" y="932" font-family='"Liberation Sans",Arial,sans-serif' font-size="18.3" text-anchor="middle" fill="#111">B</text>
<rect x="916.9" y="676" width="20.6" height="19.5" fill="none" stroke="#333" stroke-width="1"/>
<circle cx="927.2" cy="685.8" r="6.2" fill="none" stroke="#333" stroke-width="0.9"/>
<circle cx="927.2" cy="685.8" r="2.3" fill="none" stroke="#333" stroke-width="0.9"/>
<rect x="1024.4" y="672.5" width="20.3" height="19.8" fill="none" stroke="#333" stroke-width="1"/>
<circle cx="1034.6" cy="682.4" r="6.3" fill="none" stroke="#333" stroke-width="0.9"/>
<circle cx="1034.6" cy="682.4" r="2.4" fill="none" stroke="#333" stroke-width="0.9"/>
<g transform="translate(1024 661.9) rotate(90)"><path d="M0 2.5 Q8.7 3.9 17.4 2.1 Q26 0.3 34.7 1.7 Q43.4 3.1 52.1 1.3 Q60.7 -0.5 69.4 0.9 Q78.2 2.3 86.8 0.5 Q90.8 -1 89.8 4 Q88.4 10.3 89.8 16.6 Q91.2 22.9 89.8 29.2 Q88.4 35.5 89.8 41.9 Q91.2 48.2 89.8 54.5 Q88.4 60.8 89.8 67.1 Q91.2 73.4 89.8 79.7 Q90.8 84.7 86.8 83.2 Q78.2 81.4 69.4 82.8 Q60.7 84.2 52.1 82.4 Q43.4 80.6 34.7 82 Q26 83.4 17.4 81.6 Q8.7 79.8 0 81.2" fill="#fff" stroke="#444" stroke-width="0.9"/><path d="M5.7 13.4 Q15 15 24.2 13.4 Q25.7 26.8 24.2 40.2 Q15 38.6 5.7 40.2 Q4.2 26.8 5.7 13.4Z" fill="#fff" stroke="#444" stroke-width="0.9"/><path d="M5.7 41.9 Q15 43.5 24.2 41.9 Q25.7 55.7 24.2 69.5 Q15 67.9 5.7 69.5 Q4.2 55.7 5.7 41.9Z" fill="#fff" stroke="#444" stroke-width="0.9"/><path d="M58.2 9 L30.9 9 Q28.4 9 28.4 11.5 L28.4 64.4" fill="none" stroke="#444" stroke-width="0.9"/><path d="M60.2 6.8 L83.8 6.8 L83.8 77.8 L23.7 77.8" fill="none" stroke="#222" stroke-width="1.5"/><path d="M60.2 6.8 L23.7 77.8 L70 6.8" fill="#fff" stroke="#222" stroke-width="1"/><line x1="64.6" y1="16.3" x2="83.8" y2="16.3" stroke="#777" stroke-width="1.7"/><line x1="64.6" y1="16.9" x2="83.8" y2="16.9" stroke="#333" stroke-width="0.6"/><line x1="57.9" y1="26.7" x2="83.8" y2="26.7" stroke="#777" stroke-width="1.7"/><line x1="57.9" y1="27.3" x2="83.8" y2="27.3" stroke="#333" stroke-width="0.6"/><line x1="50.8" y1="37.5" x2="83.8" y2="37.5" stroke="#777" stroke-width="1.7"/><line x1="50.8" y1="38.1" x2="83.8" y2="38.1" stroke="#333" stroke-width="0.6"/><line x1="44.3" y1="47.5" x2="83.8" y2="47.5" stroke="#777" stroke-width="1.7"/><line x1="44.3" y1="48.1" x2="83.8" y2="48.1" stroke="#333" stroke-width="0.6"/><line x1="37.8" y1="57.4" x2="83.8" y2="57.4" stroke="#777" stroke-width="1.7"/><line x1="37.8" y1="58" x2="83.8" y2="58" stroke="#333" stroke-width="0.6"/><line x1="30.7" y1="68.3" x2="83.8" y2="68.3" stroke="#777" stroke-width="1.7"/><line x1="30.7" y1="68.9" x2="83.8" y2="68.9" stroke="#333" stroke-width="0.6"/><path d="M30.1 21.2 q7 -3.5 13 -0.5 q4 7 3.5 11 q-6 5.5 -12.5 5.5 q3 -5 -1 -8 q-3 -3 -3 -8z" fill="#fff" stroke="#333" stroke-width="0.9"/></g>
<path d="M920.8 708.5 L920.8 722 L934.8 722" fill="none" stroke="#333" stroke-width="1.1"/>
<line x1="920.8" y1="722" x2="940.8" y2="702" stroke="#333" stroke-width="0.9"/>
<path d="M1044.7 708.5 L1044.7 722 L1030.7 722" fill="none" stroke="#333" stroke-width="1.1"/>
<line x1="1044.7" y1="722" x2="1024.7" y2="702" stroke="#333" stroke-width="0.9"/>
<rect x="858.3" y="754" width="22.7" height="43" fill="none" stroke="#555" stroke-width="1"/>
<path d="M862 759 L866 756.6 L878 757.8 L879 763.2 L876 767.4 L864 766.8 L861 763.2 Z" fill="none" stroke="#444" stroke-width="0.8"/>
<line x1="864" y1="761.4" x2="877" y2="762" stroke="#444" stroke-width="0.8"/>
<line x1="866" y1="764.4" x2="874" y2="764.6" stroke="#444" stroke-width="0.8"/>
<line x1="879" y1="754" x2="879" y2="797" stroke="#777" stroke-width="0.8"/>
<rect x="933.3" y="772.5" width="99.2" height="64.1" fill="#fff" stroke="#333" stroke-width="1.4"/>
<path d="M935.8 773.5 Q939.3 778.7 935.8 783.9 Q939.3 789 935.8 794.2 Q939.3 799.4 935.8 804.5 Q939.3 809.7 935.8 814.9 Q939.3 820.1 935.8 825.2 Q939.3 830.4 935.8 835.6" fill="none" stroke="#333" stroke-width="0.8"/>
<line x1="940.3" y1="773.5" x2="940.3" y2="835.6" stroke="#666" stroke-width="0.6"/>
<path d="M1030 773.5 Q1026.5 778.7 1030 783.9 Q1026.5 789 1030 794.2 Q1026.5 799.4 1030 804.5 Q1026.5 809.7 1030 814.9 Q1026.5 820.1 1030 825.2 Q1026.5 830.4 1030 835.6" fill="none" stroke="#333" stroke-width="0.8"/>
<line x1="1025.5" y1="773.5" x2="1025.5" y2="835.6" stroke="#666" stroke-width="0.6"/>
<path transform="translate(1090.5 769.5) rotate(220.5) translate(0 -2.5)" d="M-13 -6.5 L-13 0 A13 13 0 0 0 13 0 L13 -6.5 Q13 -8 11.5 -8 L9.9 -8 Q8.7 -8 8.7 -6.5 L8.7 0 A8.7 8.7 0 0 1 -8.7 0 L-8.7 -6.5 Q-8.7 -8 -9.9 -8 L-11.5 -8 Q-13 -8 -13 -6.5 Z M-8.7 -6 L8.7 -6" fill="#fff" stroke="#333" stroke-width="0.9"/>
<rect x="860.3" y="882.2" width="84.4" height="44.2" fill="#fff" stroke="#333" stroke-width="1"/>
<rect x="863.3" y="885.2" width="13.9" height="38.2" fill="none" stroke="#444" stroke-width="0.9"/>
<path d="M877.2 882.2 Q878 908.7 886.5 928.4 L890.7 926.4 Q881.4 906.5 880.6 882.2" fill="#fff" stroke="#333" stroke-width="0.9"/>
<rect x="1024.4" y="882.2" width="83.9" height="44.2" fill="#fff" stroke="#333" stroke-width="1"/>
<rect x="1091.5" y="885.2" width="13.8" height="38.2" fill="none" stroke="#444" stroke-width="0.9"/>
<path d="M1078.1 882.2 Q1087.3 902.1 1088.2 926.4 L1091.5 928.4 Q1090.7 899.9 1082.3 880.2 Z" fill="#fff" stroke="#333" stroke-width="0.9"/>
<rect x="860" y="927" width="19.2" height="18.2" fill="none" stroke="#333" stroke-width="1"/>
<circle cx="869.6" cy="936.1" r="5.8" fill="none" stroke="#333" stroke-width="0.9"/>
<circle cx="869.6" cy="936.1" r="2.2" fill="none" stroke="#333" stroke-width="0.9"/>
<rect x="1090" y="926.6" width="19" height="17.6" fill="none" stroke="#333" stroke-width="1"/>
<circle cx="1099.5" cy="935.4" r="5.6" fill="none" stroke="#333" stroke-width="0.9"/>
<circle cx="1099.5" cy="935.4" r="2.1" fill="none" stroke="#333" stroke-width="0.9"/>
<rect x="995.8" y="878.4" width="25.8" height="43.3" fill="none" stroke="#b5b5b5" stroke-width="1"/>
<path d="M1022.5 897.5 L1021 900.2 L1021.4 903.2 L1019 905.2 L1018.1 908.1 L1015.2 909 L1013.2 911.4 L1010.2 911 L1007.5 912.5 L1004.8 911 L1001.8 911.4 L999.8 909 L996.9 908.1 L996 905.2 L993.6 903.2 L994 900.2 L992.5 897.5 L994 894.8 L993.6 891.8 L996 889.8 L996.9 886.9 L999.8 886 L1001.8 883.6 L1004.8 884 L1007.5 882.5 L1010.2 884 L1013.2 883.6 L1015.2 886 L1018.1 886.9 L1019 889.8 L1021.4 891.8 L1021 894.8 Z" fill="#fff" stroke="#777" stroke-width="0.8"/>
<g transform="rotate(-20 1007.5 897.5)" fill="none" stroke="#666" stroke-width="0.8"><rect x="996.4" y="890.8" width="22.2" height="13.5" rx="4.2"/><line x1="999.2" y1="902.3" x2="1015.8" y2="902.3" stroke-width="1.7" stroke="#999"/><line x1="999.2" y1="892.7" x2="1015.8" y2="892.7" stroke-width="1.7" stroke="#999"/><line x1="1000.8" y1="897.5" x2="1014.2" y2="897.5" stroke="#444" stroke-width="0.9"/></g>
<rect x="1079.4" y="819" width="29.6" height="59.4" fill="none" stroke="#555" stroke-width="1"/>
<path d="M1085.4 864.8 L1090.2 861.8 L1104.6 863.2 L1105.8 870 L1102.2 875.2 L1087.8 874.5 L1084.2 870 Z" fill="none" stroke="#444" stroke-width="0.8"/>
<line x1="1087.8" y1="867.8" x2="1103.4" y2="868.5" stroke="#444" stroke-width="0.8"/>
<line x1="1090.2" y1="871.5" x2="1099.8" y2="871.8" stroke="#444" stroke-width="0.8"/>
<line x1="1081.5" y1="819" x2="1081.5" y2="878.4" stroke="#777" stroke-width="0.8"/>
<path d="M922.8 967.9 L909.3 967.9 L909.3 981.2" fill="none" stroke="#444" stroke-width="1.4"/>
<line x1="909.3" y1="967.9" x2="918" y2="976.5" stroke="#444" stroke-width="1.1"/>
<path d="M939.4 967.9 L952.9 967.9 L952.9 981.2" fill="none" stroke="#444" stroke-width="1.4"/>
<line x1="952.9" y1="967.9" x2="944.2" y2="976.5" stroke="#444" stroke-width="1.1"/>
<path d="M922.8 1010.8 L909.3 1010.8 L909.3 997.5" fill="none" stroke="#444" stroke-width="1.4"/>
<line x1="909.3" y1="1010.8" x2="918" y2="1002.2" stroke="#444" stroke-width="1.1"/>
<path d="M939.4 1010.8 L952.9 1010.8 L952.9 997.5" fill="none" stroke="#444" stroke-width="1.4"/>
<line x1="952.9" y1="1010.8" x2="944.2" y2="1002.2" stroke="#444" stroke-width="1.1"/>
<line x1="922.8" y1="981.2" x2="939.4" y2="997.5" stroke="#444" stroke-width="1.1"/>
<line x1="939.4" y1="981.2" x2="922.8" y2="997.5" stroke="#444" stroke-width="1.1"/>
<rect x="1012.7" y="954.2" width="8.3" height="29.8" rx="4" fill="#fff" stroke="#333" stroke-width="1"/>
<circle cx="999.6" cy="969.3" r="13" fill="#fff" stroke="#333" stroke-width="1.3"/>
<circle cx="999.6" cy="969.3" r="11.2" fill="none" stroke="#666" stroke-width="0.7"/>
<ellipse cx="998.2" cy="1000.4" rx="9" ry="8.5" fill="#fff" stroke="#333" stroke-width="1.2"/>
<ellipse cx="998.2" cy="1000.4" rx="7.2" ry="6.7" fill="none" stroke="#666" stroke-width="0.7"/>
<circle cx="998.2" cy="1000.4" r="1.2" fill="none" stroke="#333" stroke-width="0.7"/>
<rect x="993" y="1019.5" width="26.3" height="53.2" rx="13" fill="#fff" stroke="#222" stroke-width="1.2"/>
<rect x="995" y="1021.5" width="22.3" height="49.2" rx="11" fill="none" stroke="#555" stroke-width="0.8"/>
<path d="M1146.3 768.6 L1132.7 768.6 L1132.7 781.6" fill="none" stroke="#444" stroke-width="1.4"/>
<line x1="1132.7" y1="768.6" x2="1141.5" y2="777" stroke="#444" stroke-width="1.1"/>
<path d="M1163 768.6 L1176.6 768.6 L1176.6 781.6" fill="none" stroke="#444" stroke-width="1.4"/>
<line x1="1176.6" y1="768.6" x2="1167.8" y2="777" stroke="#444" stroke-width="1.1"/>
<path d="M1146.3 810.4 L1132.7 810.4 L1132.7 797.4" fill="none" stroke="#444" stroke-width="1.4"/>
<line x1="1132.7" y1="810.4" x2="1141.5" y2="802" stroke="#444" stroke-width="1.1"/>
<path d="M1163 810.4 L1176.6 810.4 L1176.6 797.4" fill="none" stroke="#444" stroke-width="1.4"/>
<line x1="1176.6" y1="810.4" x2="1167.8" y2="802" stroke="#444" stroke-width="1.1"/>
<line x1="1146.3" y1="781.6" x2="1163" y2="797.4" stroke="#444" stroke-width="1.1"/>
<line x1="1163" y1="781.6" x2="1146.3" y2="797.4" stroke="#444" stroke-width="1.1"/>
<rect x="1122.2" y="758.2" width="62.3" height="26.1" rx="2" fill="#fff" stroke="#333" stroke-width="1"/>
<path d="M1125 761 q3 11 0 20 M1182 761 q-3 11 0 20 M1126 763 q8 4 15 0 q7 4 14 0 q7 4 14 0 q7 4 13 0 M1126 780.5 q8 -4 15 0 q7 -4 14 0 q7 -4 14 0 q7 -4 13 0" fill="none" stroke="#333" stroke-width="0.8"/>
<rect x="1113.9" y="871.5" width="42.8" height="73.3" fill="none" stroke="#444" stroke-width="0.9"/>
<line x1="1113.9" y1="880.9" x2="1156.7" y2="880.9" stroke="#444" stroke-width="0.9"/>
<line x1="1113.9" y1="888.8" x2="1156.7" y2="888.8" stroke="#444" stroke-width="0.9"/>
<line x1="1113.9" y1="897.2" x2="1156.7" y2="897.2" stroke="#444" stroke-width="0.9"/>
<line x1="1113.9" y1="905.5" x2="1156.7" y2="905.5" stroke="#444" stroke-width="0.9"/>
<line x1="1113.9" y1="913.9" x2="1156.7" y2="913.9" stroke="#444" stroke-width="0.9"/>
<line x1="1113.9" y1="922.2" x2="1156.7" y2="922.2" stroke="#444" stroke-width="0.9"/>
<line x1="1113.9" y1="930.6" x2="1156.7" y2="930.6" stroke="#444" stroke-width="0.9"/>
<line x1="1113.9" y1="939" x2="1156.7" y2="939" stroke="#444" stroke-width="0.9"/>
<line x1="1135.2" y1="876.3" x2="1135.2" y2="888" stroke="#222" stroke-width="0.9"/>
<polygon points="1135.2,889.5 1137.3,883.8 1133.1,883.8" fill="#222" stroke="none" stroke-width="1"/>
<path d="M1149.1 891.5 L1135.8 891.5 L1135.8 904.9" fill="none" stroke="#444" stroke-width="1.4"/>
<line x1="1135.8" y1="891.5" x2="1144.4" y2="900.2" stroke="#444" stroke-width="1.1"/>
<path d="M1165.3 891.5 L1178.6 891.5 L1178.6 904.9" fill="none" stroke="#444" stroke-width="1.4"/>
<line x1="1178.6" y1="891.5" x2="1170" y2="900.2" stroke="#444" stroke-width="1.1"/>
<path d="M1149.1 934.8 L1135.8 934.8 L1135.8 921.4" fill="none" stroke="#444" stroke-width="1.4"/>
<line x1="1135.8" y1="934.8" x2="1144.4" y2="926.1" stroke="#444" stroke-width="1.1"/>
<path d="M1165.3 934.8 L1178.6 934.8 L1178.6 921.4" fill="none" stroke="#444" stroke-width="1.4"/>
<line x1="1178.6" y1="934.8" x2="1170" y2="926.1" stroke="#444" stroke-width="1.1"/>
<line x1="1149.1" y1="904.9" x2="1165.3" y2="921.4" stroke="#444" stroke-width="1.1"/>
<line x1="1165.3" y1="904.9" x2="1149.1" y2="921.4" stroke="#444" stroke-width="1.1"/>
<path transform="translate(1217 767.2) rotate(127.6) translate(0 1.5)" d="M-9 -10.5 L-9 0 A9 9 0 0 0 9 0 L9 -10.5 Q9 -12 7.5 -12 L6.6 -12 Q5.4 -12 5.4 -10.5 L5.4 0 A5.4 5.4 0 0 1 -5.4 0 L-5.4 -10.5 Q-5.4 -12 -6.6 -12 L-7.5 -12 Q-9 -12 -9 -10.5 Z M-5.4 -10 L5.4 -10" fill="#fff" stroke="#333" stroke-width="0.9"/>
<rect x="1375.7" y="752" width="18.8" height="17.7" fill="none" stroke="#333" stroke-width="1"/>
<circle cx="1385.1" cy="760.9" r="5.7" fill="none" stroke="#333" stroke-width="0.9"/>
<circle cx="1385.1" cy="760.9" r="2.1" fill="none" stroke="#333" stroke-width="0.9"/>
<rect x="1200" y="909.3" width="20" height="19.6" fill="none" stroke="#333" stroke-width="1"/>
<circle cx="1210" cy="919.1" r="6.3" fill="none" stroke="#333" stroke-width="0.9"/>
<circle cx="1210" cy="919.1" r="2.4" fill="none" stroke="#333" stroke-width="0.9"/>
<rect x="1310.3" y="769.3" width="84.2" height="43.9" fill="#fff" stroke="#333" stroke-width="1"/>
<rect x="1377.7" y="772.3" width="13.8" height="37.9" fill="none" stroke="#444" stroke-width="0.9"/>
<path d="M1364.2 769.3 Q1373.5 789.1 1374.3 813.2 L1377.7 815.2 Q1376.8 786.9 1368.4 767.3 Z" fill="#fff" stroke="#333" stroke-width="0.9"/>
<rect x="1200" y="859.5" width="84.8" height="44.3" fill="#fff" stroke="#333" stroke-width="1"/>
<rect x="1203" y="862.5" width="14" height="38.3" fill="none" stroke="#444" stroke-width="0.9"/>
<path d="M1217 859.5 Q1217.8 886.1 1226.3 905.8 L1230.5 903.8 Q1221.2 883.9 1220.4 859.5" fill="#fff" stroke="#333" stroke-width="0.9"/>
<rect x="1233.4" y="800.6" width="53.9" height="37" fill="#fff" stroke="#333" stroke-width="1.4"/>
<path d="M1235.9 801.6 Q1239.4 804.5 1235.9 807.4 Q1239.4 810.4 1235.9 813.3 Q1239.4 816.2 1235.9 819.1 Q1239.4 822 1235.9 824.9 Q1239.4 827.9 1235.9 830.8 Q1239.4 833.7 1235.9 836.6" fill="none" stroke="#333" stroke-width="0.8"/>
<line x1="1240.4" y1="801.6" x2="1240.4" y2="836.6" stroke="#666" stroke-width="0.6"/>
<path d="M1284.8 801.6 Q1281.3 804.5 1284.8 807.4 Q1281.3 810.4 1284.8 813.3 Q1281.3 816.2 1284.8 819.1 Q1281.3 822 1284.8 824.9 Q1281.3 827.9 1284.8 830.8 Q1281.3 833.7 1284.8 836.6" fill="none" stroke="#333" stroke-width="0.8"/>
<line x1="1280.3" y1="801.6" x2="1280.3" y2="836.6" stroke="#666" stroke-width="0.6"/>
<rect x="1365.7" y="822.6" width="28.8" height="59.5" fill="none" stroke="#555" stroke-width="1"/>
<path d="M1371.4 868 L1376.2 864.8 L1390.6 866.4 L1391.8 873.6 L1388.2 879.2 L1373.8 878.4 L1370.2 873.6 Z" fill="none" stroke="#444" stroke-width="0.8"/>
<line x1="1373.8" y1="871.2" x2="1389.4" y2="872" stroke="#444" stroke-width="0.8"/>
<line x1="1376.2" y1="875.2" x2="1385.8" y2="875.5" stroke="#444" stroke-width="0.8"/>
<line x1="1367.8" y1="822.6" x2="1367.8" y2="882.1" stroke="#777" stroke-width="0.8"/>
<rect x="1369.4" y="890.5" width="25.1" height="42.5" fill="none" stroke="#b5b5b5" stroke-width="1"/>
<path d="M1395.9 911.8 L1394.6 914.2 L1394.9 917 L1392.7 918.7 L1391.9 921.3 L1389.3 922.1 L1387.6 924.3 L1384.8 924 L1382.4 925.3 L1380 924 L1377.2 924.3 L1375.5 922.1 L1372.9 921.3 L1372.1 918.7 L1369.9 917 L1370.2 914.2 L1368.9 911.8 L1370.2 909.4 L1369.9 906.6 L1372.1 904.9 L1372.9 902.3 L1375.5 901.5 L1377.2 899.3 L1380 899.6 L1382.4 898.3 L1384.8 899.6 L1387.6 899.3 L1389.3 901.5 L1391.9 902.3 L1392.7 904.9 L1394.9 906.6 L1394.6 909.4 Z" fill="#fff" stroke="#777" stroke-width="0.8"/>
<g transform="rotate(-70 1382.4 911.8)" fill="none" stroke="#666" stroke-width="0.8"><rect x="1372.4" y="905.7" width="20" height="12.2" rx="3.8"/><line x1="1375" y1="916.1" x2="1389.8" y2="916.1" stroke-width="1.7" stroke="#999"/><line x1="1375" y1="907.5" x2="1389.8" y2="907.5" stroke-width="1.7" stroke="#999"/><line x1="1376.3" y1="911.8" x2="1388.5" y2="911.8" stroke="#444" stroke-width="0.9"/></g>
</g>
<g id="sft">
<text x="617" y="890" font-family='"Liberation Sans",Arial,sans-serif' font-size="9" font-weight="bold" fill="#000" textLength="49" lengthAdjust="spacingAndGlyphs">BEDROOM</text>
<text x="728.4" y="847" font-family='"Liberation Sans",Arial,sans-serif' font-size="9" font-weight="bold" fill="#000" textLength="47.6" lengthAdjust="spacingAndGlyphs">BEDROOM</text>
<text x="721" y="898" font-family='"Liberation Sans",Arial,sans-serif' font-size="9" font-weight="bold" fill="#000" textLength="45" lengthAdjust="spacingAndGlyphs">HALLWAY</text>
<text x="707.6" y="942.7" font-family='"Liberation Sans",Arial,sans-serif' font-size="5.3" font-weight="normal" fill="#000" textLength="34" lengthAdjust="spacingAndGlyphs" stroke="#222" stroke-width="0.25">CUPBOARD</text>
<text x="799" y="942.7" font-family='"Liberation Sans",Arial,sans-serif' font-size="5.3" font-weight="normal" fill="#000" textLength="38" lengthAdjust="spacingAndGlyphs" stroke="#222" stroke-width="0.25">CUPBOARD</text>
<text x="894.7" y="730.7" font-family='"Liberation Sans",Arial,sans-serif' font-size="4.6" font-weight="normal" fill="#333" textLength="24" lengthAdjust="spacingAndGlyphs" stroke="#333" stroke-width="0.3">ENSUITE</text>
<text x="924.4" y="863.4" font-family='"Liberation Sans",Arial,sans-serif' font-size="11" font-weight="normal" fill="#000" textLength="56.9" lengthAdjust="spacingAndGlyphs" stroke="#000" stroke-width="0.6">BEDROOM</text>
<text x="922" y="1054.6" font-family='"Liberation Sans",Arial,sans-serif' font-size="10.8" font-weight="bold" fill="#000" textLength="47" lengthAdjust="spacingAndGlyphs">ENSUITE</text>
<text x="1127.9" y="845.3" font-family='"Liberation Sans",Arial,sans-serif' font-size="11" font-weight="normal" fill="#000" textLength="52.2" lengthAdjust="spacingAndGlyphs" stroke="#000" stroke-width="0.6">HALLWAY</text>
<text x="1299.2" y="917.6" font-family='"Liberation Sans",Arial,sans-serif' font-size="11" font-weight="normal" fill="#000" textLength="57" lengthAdjust="spacingAndGlyphs" stroke="#000" stroke-width="0.6">BEDROOM</text>
<text x="1318.3" y="997.8" font-family='"Liberation Sans",Arial,sans-serif' font-size="9.8" font-weight="normal" fill="#333" textLength="54" lengthAdjust="spacingAndGlyphs">2ND FLOOR</text>
<text x="581" y="987.8" font-family='"Liberation Serif","Times New Roman",serif' font-size="16.6" font-weight="bold" fill="#595959" textLength="96" lengthAdjust="spacingAndGlyphs">Corner Wing</text>
<text x="132.5" y="737.5" font-family='"Liberation Serif","Times New Roman",serif' font-size="70.3" font-weight="bold" fill="#595959" textLength="337" lengthAdjust="spacingAndGlyphs">The Quays</text>
<text x="100.5" y="822.5" font-family='"Liberation Serif","Times New Roman",serif' font-size="70.3" font-weight="bold" fill="#595959" textLength="417.5" lengthAdjust="spacingAndGlyphs">Christchurch</text>
</g>
</svg>
</body></html>
